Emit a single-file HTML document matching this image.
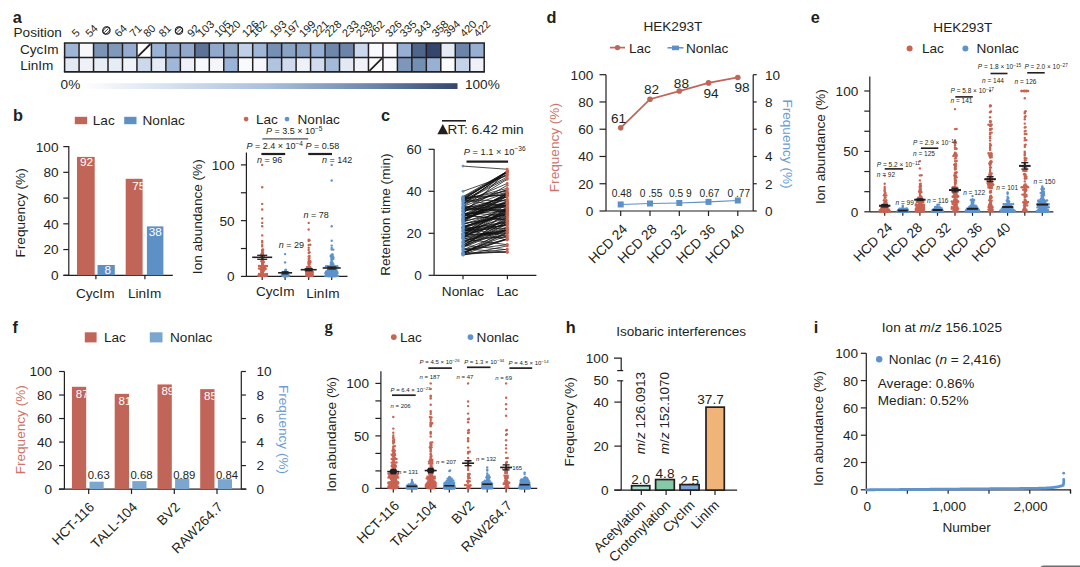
<!DOCTYPE html>
<html><head><meta charset="utf-8"><style>html,body{margin:0;padding:0;background:#fff;width:1080px;height:567px;overflow:hidden}svg{display:block;font-family:"Liberation Sans", sans-serif}</style></head><body>
<svg width="1080" height="567" viewBox="0 0 1080 567">
<rect width="1080" height="567" fill="#fff"/>
<text x="12.80" y="23.00" font-size="16.3" text-anchor="start" fill="#231f20" font-weight="bold" >a</text>
<text x="13.50" y="36.90" font-size="13.6" text-anchor="start" fill="#231f20" >Position</text>
<text x="20.00" y="54.00" font-size="13.6" text-anchor="start" fill="#231f20" >CycIm</text>
<text x="20.20" y="70.40" font-size="13.6" text-anchor="start" fill="#231f20" >LinIm</text>
<rect x="64.60" y="43.00" width="14.47" height="14.40" fill="#9fb5d6"/>
<rect x="64.60" y="57.40" width="14.47" height="14.40" fill="#e4eaf4"/>
<rect x="79.07" y="43.00" width="14.47" height="14.40" fill="#f5f7fb"/>
<rect x="79.07" y="57.40" width="14.47" height="14.40" fill="#eef2f8"/>
<rect x="93.54" y="43.00" width="14.47" height="14.40" fill="#7b93b5"/>
<rect x="93.54" y="57.40" width="14.47" height="14.40" fill="#e8edf5"/>
<rect x="108.01" y="43.00" width="14.47" height="14.40" fill="#8099bb"/>
<rect x="108.01" y="57.40" width="14.47" height="14.40" fill="#e6ecf5"/>
<rect x="122.48" y="43.00" width="14.47" height="14.40" fill="#95acd0"/>
<rect x="122.48" y="57.40" width="14.47" height="14.40" fill="#eff2f8"/>
<rect x="136.94" y="43.00" width="14.47" height="14.40" fill="#ffffff"/>
<rect x="136.94" y="57.40" width="14.47" height="14.40" fill="#ccd9eb"/>
<line x1="137.94" y1="56.40" x2="150.41" y2="44.00" stroke="#231f20" stroke-width="1.8" />
<rect x="151.41" y="43.00" width="14.47" height="14.40" fill="#9ab2d4"/>
<rect x="151.41" y="57.40" width="14.47" height="14.40" fill="#e6ecf6"/>
<rect x="165.88" y="43.00" width="14.47" height="14.40" fill="#8aa2c4"/>
<rect x="165.88" y="57.40" width="14.47" height="14.40" fill="#a0b7d8"/>
<rect x="180.35" y="43.00" width="14.47" height="14.40" fill="#92a9cc"/>
<rect x="180.35" y="57.40" width="14.47" height="14.40" fill="#eef2f8"/>
<rect x="194.82" y="43.00" width="14.47" height="14.40" fill="#5c7396"/>
<rect x="194.82" y="57.40" width="14.47" height="14.40" fill="#f7f9fc"/>
<rect x="209.29" y="43.00" width="14.47" height="14.40" fill="#92a9cc"/>
<rect x="209.29" y="57.40" width="14.47" height="14.40" fill="#f3f5fa"/>
<rect x="223.76" y="43.00" width="14.47" height="14.40" fill="#8ea5c4"/>
<rect x="223.76" y="57.40" width="14.47" height="14.40" fill="#9bb3d6"/>
<rect x="238.23" y="43.00" width="14.47" height="14.40" fill="#c0d0e6"/>
<rect x="238.23" y="57.40" width="14.47" height="14.40" fill="#f8fafd"/>
<rect x="252.70" y="43.00" width="14.47" height="14.40" fill="#a0b6d7"/>
<rect x="252.70" y="57.40" width="14.47" height="14.40" fill="#f5f7fb"/>
<rect x="267.17" y="43.00" width="14.47" height="14.40" fill="#7690b3"/>
<rect x="267.17" y="57.40" width="14.47" height="14.40" fill="#b0c4e0"/>
<rect x="281.63" y="43.00" width="14.47" height="14.40" fill="#89a3c5"/>
<rect x="281.63" y="57.40" width="14.47" height="14.40" fill="#cfdbec"/>
<rect x="296.10" y="43.00" width="14.47" height="14.40" fill="#8aa3c4"/>
<rect x="296.10" y="57.40" width="14.47" height="14.40" fill="#edf1f8"/>
<rect x="310.57" y="43.00" width="14.47" height="14.40" fill="#97afd3"/>
<rect x="310.57" y="57.40" width="14.47" height="14.40" fill="#d1dcee"/>
<rect x="325.04" y="43.00" width="14.47" height="14.40" fill="#6e88ab"/>
<rect x="325.04" y="57.40" width="14.47" height="14.40" fill="#a3bad9"/>
<rect x="339.51" y="43.00" width="14.47" height="14.40" fill="#6b84a7"/>
<rect x="339.51" y="57.40" width="14.47" height="14.40" fill="#e3e9f3"/>
<rect x="353.98" y="43.00" width="14.47" height="14.40" fill="#cbd8eb"/>
<rect x="353.98" y="57.40" width="14.47" height="14.40" fill="#eff3f9"/>
<rect x="368.45" y="43.00" width="14.47" height="14.40" fill="#f8fafd"/>
<rect x="368.45" y="57.40" width="14.47" height="14.40" fill="#ffffff"/>
<line x1="369.45" y1="70.80" x2="381.92" y2="58.40" stroke="#231f20" stroke-width="1.8" />
<rect x="382.92" y="43.00" width="14.47" height="14.40" fill="#f7f9fc"/>
<rect x="382.92" y="57.40" width="14.47" height="14.40" fill="#f8fafd"/>
<rect x="397.39" y="43.00" width="14.47" height="14.40" fill="#97afd3"/>
<rect x="397.39" y="57.40" width="14.47" height="14.40" fill="#7d96b9"/>
<rect x="411.86" y="43.00" width="14.47" height="14.40" fill="#4f6589"/>
<rect x="411.86" y="57.40" width="14.47" height="14.40" fill="#7390b2"/>
<rect x="426.32" y="43.00" width="14.47" height="14.40" fill="#34466c"/>
<rect x="426.32" y="57.40" width="14.47" height="14.40" fill="#98b0d3"/>
<rect x="440.79" y="43.00" width="14.47" height="14.40" fill="#e5ebf5"/>
<rect x="440.79" y="57.40" width="14.47" height="14.40" fill="#fafbfd"/>
<rect x="455.26" y="43.00" width="14.47" height="14.40" fill="#6b84a7"/>
<rect x="455.26" y="57.40" width="14.47" height="14.40" fill="#c5d3e8"/>
<rect x="469.73" y="43.00" width="14.47" height="14.40" fill="#98afd2"/>
<rect x="469.73" y="57.40" width="14.47" height="14.40" fill="#eef2f8"/>
<line x1="64.60" y1="43.00" x2="64.60" y2="71.80" stroke="#231f20" stroke-width="1.5" />
<line x1="79.07" y1="43.00" x2="79.07" y2="71.80" stroke="#231f20" stroke-width="1.5" />
<line x1="93.54" y1="43.00" x2="93.54" y2="71.80" stroke="#231f20" stroke-width="1.5" />
<line x1="108.01" y1="43.00" x2="108.01" y2="71.80" stroke="#231f20" stroke-width="1.5" />
<line x1="122.48" y1="43.00" x2="122.48" y2="71.80" stroke="#231f20" stroke-width="1.5" />
<line x1="136.94" y1="43.00" x2="136.94" y2="71.80" stroke="#231f20" stroke-width="1.5" />
<line x1="151.41" y1="43.00" x2="151.41" y2="71.80" stroke="#231f20" stroke-width="1.5" />
<line x1="165.88" y1="43.00" x2="165.88" y2="71.80" stroke="#231f20" stroke-width="1.5" />
<line x1="180.35" y1="43.00" x2="180.35" y2="71.80" stroke="#231f20" stroke-width="1.5" />
<line x1="194.82" y1="43.00" x2="194.82" y2="71.80" stroke="#231f20" stroke-width="1.5" />
<line x1="209.29" y1="43.00" x2="209.29" y2="71.80" stroke="#231f20" stroke-width="1.5" />
<line x1="223.76" y1="43.00" x2="223.76" y2="71.80" stroke="#231f20" stroke-width="1.5" />
<line x1="238.23" y1="43.00" x2="238.23" y2="71.80" stroke="#231f20" stroke-width="1.5" />
<line x1="252.70" y1="43.00" x2="252.70" y2="71.80" stroke="#231f20" stroke-width="1.5" />
<line x1="267.17" y1="43.00" x2="267.17" y2="71.80" stroke="#231f20" stroke-width="1.5" />
<line x1="281.63" y1="43.00" x2="281.63" y2="71.80" stroke="#231f20" stroke-width="1.5" />
<line x1="296.10" y1="43.00" x2="296.10" y2="71.80" stroke="#231f20" stroke-width="1.5" />
<line x1="310.57" y1="43.00" x2="310.57" y2="71.80" stroke="#231f20" stroke-width="1.5" />
<line x1="325.04" y1="43.00" x2="325.04" y2="71.80" stroke="#231f20" stroke-width="1.5" />
<line x1="339.51" y1="43.00" x2="339.51" y2="71.80" stroke="#231f20" stroke-width="1.5" />
<line x1="353.98" y1="43.00" x2="353.98" y2="71.80" stroke="#231f20" stroke-width="1.5" />
<line x1="368.45" y1="43.00" x2="368.45" y2="71.80" stroke="#231f20" stroke-width="1.5" />
<line x1="382.92" y1="43.00" x2="382.92" y2="71.80" stroke="#231f20" stroke-width="1.5" />
<line x1="397.39" y1="43.00" x2="397.39" y2="71.80" stroke="#231f20" stroke-width="1.5" />
<line x1="411.86" y1="43.00" x2="411.86" y2="71.80" stroke="#231f20" stroke-width="1.5" />
<line x1="426.32" y1="43.00" x2="426.32" y2="71.80" stroke="#231f20" stroke-width="1.5" />
<line x1="440.79" y1="43.00" x2="440.79" y2="71.80" stroke="#231f20" stroke-width="1.5" />
<line x1="455.26" y1="43.00" x2="455.26" y2="71.80" stroke="#231f20" stroke-width="1.5" />
<line x1="469.73" y1="43.00" x2="469.73" y2="71.80" stroke="#231f20" stroke-width="1.5" />
<line x1="484.20" y1="43.00" x2="484.20" y2="71.80" stroke="#231f20" stroke-width="1.5" />
<line x1="63.85" y1="43.00" x2="484.95" y2="43.00" stroke="#231f20" stroke-width="1.5" />
<line x1="63.85" y1="57.40" x2="484.95" y2="57.40" stroke="#231f20" stroke-width="1.5" />
<line x1="63.85" y1="71.80" x2="484.95" y2="71.80" stroke="#231f20" stroke-width="1.8" />
<text x="76.30" y="37.80" font-size="11" text-anchor="start" fill="#231f20" transform="rotate(-45 76.3 37.8)" >5</text>
<text x="90.00" y="37.80" font-size="11" text-anchor="start" fill="#231f20" transform="rotate(-45 90.0 37.8)" >54</text>
<circle cx="106.4" cy="30.5" r="3.7" fill="none" stroke="#231f20" stroke-width="1.1"/>
<ellipse cx="106.4" cy="30.5" rx="4.2" ry="2.6" transform="rotate(-45 106.4 30.5)" fill="none" stroke="#231f20" stroke-width="0.9"/>
<line x1="104.20" y1="32.70" x2="108.60" y2="28.30" stroke="#231f20" stroke-width="0.9" />
<text x="119.10" y="37.80" font-size="11" text-anchor="start" fill="#231f20" transform="rotate(-45 119.1 37.8)" >64</text>
<text x="134.00" y="37.80" font-size="11" text-anchor="start" fill="#231f20" transform="rotate(-45 134.0 37.8)" >71</text>
<text x="147.70" y="37.80" font-size="11" text-anchor="start" fill="#231f20" transform="rotate(-45 147.7 37.8)" >80</text>
<text x="163.20" y="37.80" font-size="11" text-anchor="start" fill="#231f20" transform="rotate(-45 163.2 37.8)" >81</text>
<circle cx="179.0" cy="30.6" r="3.7" fill="none" stroke="#231f20" stroke-width="1.1"/>
<ellipse cx="179.0" cy="30.6" rx="4.2" ry="2.6" transform="rotate(-45 179.0 30.6)" fill="none" stroke="#231f20" stroke-width="0.9"/>
<line x1="176.80" y1="32.80" x2="181.20" y2="28.40" stroke="#231f20" stroke-width="0.9" />
<text x="191.70" y="37.80" font-size="11" text-anchor="start" fill="#231f20" transform="rotate(-45 191.7 37.8)" >92</text>
<text x="202.00" y="37.80" font-size="11" text-anchor="start" fill="#231f20" transform="rotate(-45 202.0 37.8)" >103</text>
<text x="218.70" y="37.80" font-size="11" text-anchor="start" fill="#231f20" transform="rotate(-45 218.7 37.8)" >105</text>
<text x="228.40" y="37.80" font-size="11" text-anchor="start" fill="#231f20" transform="rotate(-45 228.4 37.8)" >120</text>
<text x="246.50" y="37.80" font-size="11" text-anchor="start" fill="#231f20" transform="rotate(-45 246.5 37.8)" >126</text>
<text x="254.80" y="37.80" font-size="11" text-anchor="start" fill="#231f20" transform="rotate(-45 254.8 37.8)" >162</text>
<text x="274.30" y="37.80" font-size="11" text-anchor="start" fill="#231f20" transform="rotate(-45 274.3 37.8)" >193</text>
<text x="288.20" y="37.80" font-size="11" text-anchor="start" fill="#231f20" transform="rotate(-45 288.2 37.8)" >197</text>
<text x="303.40" y="37.80" font-size="11" text-anchor="start" fill="#231f20" transform="rotate(-45 303.4 37.8)" >199</text>
<text x="316.80" y="37.80" font-size="11" text-anchor="start" fill="#231f20" transform="rotate(-45 316.8 37.8)" >221</text>
<text x="329.30" y="37.80" font-size="11" text-anchor="start" fill="#231f20" transform="rotate(-45 329.3 37.8)" >228</text>
<text x="346.60" y="37.80" font-size="11" text-anchor="start" fill="#231f20" transform="rotate(-45 346.6 37.8)" >233</text>
<text x="360.50" y="37.80" font-size="11" text-anchor="start" fill="#231f20" transform="rotate(-45 360.5 37.8)" >239</text>
<text x="372.30" y="37.80" font-size="11" text-anchor="start" fill="#231f20" transform="rotate(-45 372.3 37.8)" >262</text>
<text x="389.70" y="37.80" font-size="11" text-anchor="start" fill="#231f20" transform="rotate(-45 389.7 37.8)" >326</text>
<text x="404.30" y="37.80" font-size="11" text-anchor="start" fill="#231f20" transform="rotate(-45 404.3 37.8)" >335</text>
<text x="418.90" y="37.80" font-size="11" text-anchor="start" fill="#231f20" transform="rotate(-45 418.9 37.8)" >343</text>
<text x="436.20" y="37.80" font-size="11" text-anchor="start" fill="#231f20" transform="rotate(-45 436.2 37.8)" >358</text>
<text x="448.00" y="37.80" font-size="11" text-anchor="start" fill="#231f20" transform="rotate(-45 448.0 37.8)" >394</text>
<text x="464.40" y="37.80" font-size="11" text-anchor="start" fill="#231f20" transform="rotate(-45 464.4 37.8)" >420</text>
<text x="478.10" y="37.80" font-size="11" text-anchor="start" fill="#231f20" transform="rotate(-45 478.1 37.8)" >422</text>
<defs><linearGradient id="ga" x1="0" x2="1" y1="0" y2="0"><stop offset="0" stop-color="#ffffff"/><stop offset="0.5" stop-color="#a9bfdc"/><stop offset="0.78" stop-color="#6b84a9"/><stop offset="1" stop-color="#34466c"/></linearGradient></defs>
<rect x="80.00" y="83.20" width="377.50" height="5.80" fill="url(#ga)"/>
<text x="60.60" y="89.20" font-size="13.6" text-anchor="start" fill="#231f20" >0%</text>
<text x="465.00" y="89.20" font-size="13.6" text-anchor="start" fill="#231f20" >100%</text>
<text x="13.00" y="121.00" font-size="16.3" text-anchor="start" fill="#231f20" font-weight="bold" >b</text>
<rect x="74.80" y="116.80" width="12.30" height="7.40" fill="#c16558"/>
<text x="92.80" y="124.70" font-size="13.6" text-anchor="start" fill="#231f20" >Lac</text>
<rect x="124.20" y="116.80" width="12.30" height="7.40" fill="#5d90c5"/>
<text x="142.50" y="124.70" font-size="13.6" text-anchor="start" fill="#231f20" >Nonlac</text>
<line x1="68.80" y1="146.00" x2="68.80" y2="275.30" stroke="#231f20" stroke-width="1.2" />
<line x1="63.30" y1="275.30" x2="68.80" y2="275.30" stroke="#231f20" stroke-width="1.2" />
<line x1="63.30" y1="249.56" x2="68.80" y2="249.56" stroke="#231f20" stroke-width="1.2" />
<line x1="63.30" y1="223.82" x2="68.80" y2="223.82" stroke="#231f20" stroke-width="1.2" />
<line x1="63.30" y1="198.08" x2="68.80" y2="198.08" stroke="#231f20" stroke-width="1.2" />
<line x1="63.30" y1="172.34" x2="68.80" y2="172.34" stroke="#231f20" stroke-width="1.2" />
<line x1="63.30" y1="146.60" x2="68.80" y2="146.60" stroke="#231f20" stroke-width="1.2" />
<text x="58.50" y="280.20" font-size="13.6" text-anchor="end" fill="#231f20" >0</text>
<text x="58.50" y="254.46" font-size="13.6" text-anchor="end" fill="#231f20" >20</text>
<text x="58.50" y="228.72" font-size="13.6" text-anchor="end" fill="#231f20" >40</text>
<text x="58.50" y="202.98" font-size="13.6" text-anchor="end" fill="#231f20" >60</text>
<text x="58.50" y="177.24" font-size="13.6" text-anchor="end" fill="#231f20" >80</text>
<text x="58.50" y="151.50" font-size="13.6" text-anchor="end" fill="#231f20" >100</text>
<line x1="63.50" y1="275.30" x2="172.80" y2="275.30" stroke="#231f20" stroke-width="1.2" />
<line x1="95.90" y1="275.30" x2="95.90" y2="279.30" stroke="#231f20" stroke-width="1.2" />
<line x1="144.90" y1="275.30" x2="144.90" y2="279.30" stroke="#231f20" stroke-width="1.2" />
<rect x="77.00" y="156.90" width="17.70" height="118.40" fill="#c16558"/>
<svg x="77.00" y="156.90" width="17.70" height="118.40" overflow="hidden"><text x="3.00" y="8.80" font-size="11.8" fill="#ffffff">92</text></svg>
<rect x="97.50" y="265.00" width="17.30" height="10.30" fill="#5d90c5"/>
<svg x="97.50" y="265.00" width="17.30" height="10.30" overflow="hidden"><text x="7.10" y="8.60" font-size="11.8" fill="#ffffff">8</text></svg>
<rect x="125.70" y="178.78" width="16.90" height="96.53" fill="#c16558"/>
<svg x="125.70" y="178.78" width="16.90" height="96.53" overflow="hidden"><text x="6.50" y="10.92" font-size="11.8" fill="#ffffff">75</text></svg>
<rect x="146.90" y="226.39" width="16.50" height="48.91" fill="#5d90c5"/>
<svg x="146.90" y="226.39" width="16.50" height="48.91" overflow="hidden"><text x="1.90" y="9.61" font-size="11.8" fill="#ffffff">38</text></svg>
<text x="25.00" y="212.90" font-size="13.6" text-anchor="middle" fill="#231f20" transform="rotate(-90 25.0 212.9)" >Frequency (%)</text>
<text x="95.20" y="297.50" font-size="13.6" text-anchor="middle" fill="#231f20" >CycIm</text>
<text x="144.60" y="297.50" font-size="13.6" text-anchor="middle" fill="#231f20" >LinIm</text>
<circle cx="246.10" cy="119.10" r="2.4" fill="#c96352"/>
<text x="256.00" y="123.60" font-size="13.6" text-anchor="start" fill="#231f20" >Lac</text>
<circle cx="287.00" cy="119.10" r="2.4" fill="#5e93cc"/>
<text x="297.50" y="123.60" font-size="13.6" text-anchor="start" fill="#231f20" >Nonlac</text>
<text x="266.00" y="134.10" font-size="9.0" text-anchor="start" fill="#231f20" ><tspan font-style="italic">P</tspan> = 3.5 × 10<tspan dy="-3" font-size="6.5">−5</tspan></text>
<line x1="262.30" y1="138.90" x2="308.20" y2="138.90" stroke="#555" stroke-width="1.1" />
<text x="246.50" y="149.10" font-size="9.0" text-anchor="start" fill="#231f20" ><tspan font-style="italic">P</tspan> = 2.4 × 10<tspan dy="-3" font-size="6.5">−4</tspan></text>
<text x="305.50" y="149.10" font-size="9.0" text-anchor="start" fill="#231f20" ><tspan font-style="italic">P</tspan> = 0.58</text>
<line x1="261.40" y1="154.00" x2="285.20" y2="154.00" stroke="#231f20" stroke-width="2.2" />
<line x1="308.20" y1="154.00" x2="332.00" y2="154.00" stroke="#231f20" stroke-width="2.2" />
<text x="257.00" y="163.20" font-size="9.0" text-anchor="start" fill="#231f20" ><tspan font-style="italic">n</tspan> = 96</text>
<text x="322.00" y="163.20" font-size="9.0" text-anchor="start" fill="#231f20" ><tspan font-style="italic">n</tspan> = 142</text>
<text x="278.80" y="248.00" font-size="9.0" text-anchor="start" fill="#231f20" ><tspan font-style="italic">n</tspan> = 29</text>
<text x="303.50" y="217.50" font-size="9.0" text-anchor="start" fill="#231f20" ><tspan font-style="italic">n</tspan> = 78</text>
<line x1="246.40" y1="152.60" x2="246.40" y2="276.40" stroke="#231f20" stroke-width="1.2" />
<line x1="240.90" y1="276.40" x2="246.40" y2="276.40" stroke="#231f20" stroke-width="1.2" />
<line x1="240.90" y1="248.52" x2="246.40" y2="248.52" stroke="#231f20" stroke-width="1.2" />
<line x1="240.90" y1="220.65" x2="246.40" y2="220.65" stroke="#231f20" stroke-width="1.2" />
<line x1="240.90" y1="192.77" x2="246.40" y2="192.77" stroke="#231f20" stroke-width="1.2" />
<line x1="240.90" y1="164.90" x2="246.40" y2="164.90" stroke="#231f20" stroke-width="1.2" />
<text x="234.50" y="281.30" font-size="13.6" text-anchor="end" fill="#231f20" >0</text>
<text x="234.50" y="225.55" font-size="13.6" text-anchor="end" fill="#231f20" >50</text>
<text x="234.50" y="169.80" font-size="13.6" text-anchor="end" fill="#231f20" >100</text>
<line x1="246.40" y1="276.40" x2="347.50" y2="276.40" stroke="#231f20" stroke-width="1.2" />
<line x1="262.20" y1="276.40" x2="262.20" y2="280.00" stroke="#231f20" stroke-width="1.2" />
<line x1="285.10" y1="276.40" x2="285.10" y2="280.00" stroke="#231f20" stroke-width="1.2" />
<line x1="308.70" y1="276.40" x2="308.70" y2="280.00" stroke="#231f20" stroke-width="1.2" />
<line x1="331.70" y1="276.40" x2="331.70" y2="280.00" stroke="#231f20" stroke-width="1.2" />
<g fill="#c96352"><circle cx="262.2" cy="276.3" r="1.2"/><circle cx="263.8" cy="276.1" r="1.2"/><circle cx="261.4" cy="275.9" r="1.2"/><circle cx="259.8" cy="275.9" r="1.2"/><circle cx="265.4" cy="275.9" r="1.2"/><circle cx="263.0" cy="275.8" r="1.2"/><circle cx="258.2" cy="275.8" r="1.2"/><circle cx="267.0" cy="275.8" r="1.2"/><circle cx="260.6" cy="275.5" r="1.2"/><circle cx="262.2" cy="275.1" r="1.2"/><circle cx="263.0" cy="274.8" r="1.2"/><circle cx="261.4" cy="274.6" r="1.2"/><circle cx="263.8" cy="274.4" r="1.2"/><circle cx="259.8" cy="274.4" r="1.2"/><circle cx="262.2" cy="274.2" r="1.2"/><circle cx="265.4" cy="274.2" r="1.2"/><circle cx="260.6" cy="274.1" r="1.2"/><circle cx="259.0" cy="274.0" r="1.2"/><circle cx="267.0" cy="273.9" r="1.2"/><circle cx="263.0" cy="273.9" r="1.2"/><circle cx="261.4" cy="273.6" r="1.2"/><circle cx="262.2" cy="273.2" r="1.2"/><circle cx="263.0" cy="272.8" r="1.2"/><circle cx="261.4" cy="272.5" r="1.2"/><circle cx="262.2" cy="272.1" r="1.2"/><circle cx="263.0" cy="271.7" r="1.2"/><circle cx="261.4" cy="271.5" r="1.2"/><circle cx="262.2" cy="270.8" r="1.2"/><circle cx="263.8" cy="270.7" r="1.2"/><circle cx="263.0" cy="270.0" r="1.2"/><circle cx="261.4" cy="270.0" r="1.2"/><circle cx="262.2" cy="269.6" r="1.2"/><circle cx="263.8" cy="269.5" r="1.2"/><circle cx="260.6" cy="269.5" r="1.2"/><circle cx="265.4" cy="269.2" r="1.2"/><circle cx="262.2" cy="268.7" r="1.2"/><circle cx="263.8" cy="268.6" r="1.2"/><circle cx="260.6" cy="268.5" r="1.2"/><circle cx="259.0" cy="268.4" r="1.2"/><circle cx="265.4" cy="268.3" r="1.2"/><circle cx="263.0" cy="267.9" r="1.2"/><circle cx="261.4" cy="267.7" r="1.2"/><circle cx="264.6" cy="267.7" r="1.2"/><circle cx="262.2" cy="267.4" r="1.2"/><circle cx="263.8" cy="267.3" r="1.2"/><circle cx="263.0" cy="266.9" r="1.2"/><circle cx="261.4" cy="266.6" r="1.2"/><circle cx="264.6" cy="266.5" r="1.2"/><circle cx="262.2" cy="266.2" r="1.2"/><circle cx="263.8" cy="266.2" r="1.2"/><circle cx="260.6" cy="266.1" r="1.2"/><circle cx="265.4" cy="266.0" r="1.2"/><circle cx="259.0" cy="265.9" r="1.2"/><circle cx="267.0" cy="265.9" r="1.2"/><circle cx="262.2" cy="265.1" r="1.2"/><circle cx="263.0" cy="264.5" r="1.2"/><circle cx="262.2" cy="263.7" r="1.2"/><circle cx="263.0" cy="263.5" r="1.2"/><circle cx="262.2" cy="262.9" r="1.2"/><circle cx="263.0" cy="262.4" r="1.2"/><circle cx="262.2" cy="262.0" r="1.2"/><circle cx="263.8" cy="262.0" r="1.2"/><circle cx="263.0" cy="261.5" r="1.2"/><circle cx="261.4" cy="261.2" r="1.2"/><circle cx="262.2" cy="260.9" r="1.2"/><circle cx="263.0" cy="260.3" r="1.2"/><circle cx="262.2" cy="259.5" r="1.2"/><circle cx="263.0" cy="259.1" r="1.2"/><circle cx="262.2" cy="257.6" r="1.2"/><circle cx="263.0" cy="257.2" r="1.2"/><circle cx="261.4" cy="256.8" r="1.2"/><circle cx="263.8" cy="256.7" r="1.2"/><circle cx="262.2" cy="256.1" r="1.2"/><circle cx="262.2" cy="255.0" r="1.2"/><circle cx="263.0" cy="254.4" r="1.2"/><circle cx="261.4" cy="254.3" r="1.2"/><circle cx="262.2" cy="254.0" r="1.2"/><circle cx="262.2" cy="253.0" r="1.2"/><circle cx="263.0" cy="252.7" r="1.2"/><circle cx="262.2" cy="251.8" r="1.2"/><circle cx="262.2" cy="250.7" r="1.2"/><circle cx="263.0" cy="250.4" r="1.2"/><circle cx="262.2" cy="249.8" r="1.2"/><circle cx="263.0" cy="249.4" r="1.2"/><circle cx="262.2" cy="246.4" r="1.2"/><circle cx="262.2" cy="245.0" r="1.2"/><circle cx="262.2" cy="242.4" r="1.2"/><circle cx="262.2" cy="241.0" r="1.2"/><circle cx="262.2" cy="235.4" r="1.2"/><circle cx="262.2" cy="226.2" r="1.2"/><circle cx="262.2" cy="222.9" r="1.2"/><circle cx="262.2" cy="218.4" r="1.2"/><circle cx="262.2" cy="209.5" r="1.2"/><circle cx="262.2" cy="203.9" r="1.2"/><circle cx="262.2" cy="187.2" r="1.2"/><circle cx="262.2" cy="164.9" r="1.2"/></g>
<g fill="#5e93cc"><circle cx="285.1" cy="276.3" r="1.2"/><circle cx="286.7" cy="276.2" r="1.2"/><circle cx="283.5" cy="276.2" r="1.2"/><circle cx="288.3" cy="276.0" r="1.2"/><circle cx="285.9" cy="275.8" r="1.2"/><circle cx="284.3" cy="275.8" r="1.2"/><circle cx="282.7" cy="275.7" r="1.2"/><circle cx="287.5" cy="275.6" r="1.2"/><circle cx="289.1" cy="275.5" r="1.2"/><circle cx="285.1" cy="275.4" r="1.2"/><circle cx="281.9" cy="275.3" r="1.2"/><circle cx="283.5" cy="275.3" r="1.2"/><circle cx="285.9" cy="274.8" r="1.2"/><circle cx="284.3" cy="274.8" r="1.2"/><circle cx="282.7" cy="274.7" r="1.2"/><circle cx="287.5" cy="274.6" r="1.2"/><circle cx="285.1" cy="274.0" r="1.2"/><circle cx="286.7" cy="273.7" r="1.2"/><circle cx="284.3" cy="273.7" r="1.2"/><circle cx="285.1" cy="273.1" r="1.2"/><circle cx="283.5" cy="272.9" r="1.2"/><circle cx="285.9" cy="272.8" r="1.2"/><circle cx="287.5" cy="272.7" r="1.2"/><circle cx="285.1" cy="271.8" r="1.2"/><circle cx="285.9" cy="271.3" r="1.2"/><circle cx="285.1" cy="270.5" r="1.2"/><circle cx="285.9" cy="269.8" r="1.2"/><circle cx="285.1" cy="262.4" r="1.2"/><circle cx="285.1" cy="254.1" r="1.2"/></g>
<g fill="#c96352"><circle cx="308.7" cy="276.4" r="1.2"/><circle cx="309.5" cy="276.1" r="1.2"/><circle cx="307.9" cy="276.0" r="1.2"/><circle cx="311.1" cy="275.9" r="1.2"/><circle cx="306.3" cy="275.8" r="1.2"/><circle cx="312.7" cy="275.7" r="1.2"/><circle cx="308.7" cy="275.5" r="1.2"/><circle cx="310.3" cy="275.4" r="1.2"/><circle cx="307.1" cy="275.3" r="1.2"/><circle cx="309.5" cy="275.1" r="1.2"/><circle cx="307.9" cy="275.0" r="1.2"/><circle cx="311.1" cy="274.9" r="1.2"/><circle cx="306.3" cy="274.8" r="1.2"/><circle cx="312.7" cy="274.7" r="1.2"/><circle cx="308.7" cy="274.6" r="1.2"/><circle cx="310.3" cy="274.4" r="1.2"/><circle cx="307.1" cy="274.3" r="1.2"/><circle cx="309.5" cy="274.1" r="1.2"/><circle cx="308.7" cy="273.7" r="1.2"/><circle cx="310.3" cy="273.5" r="1.2"/><circle cx="309.5" cy="273.2" r="1.2"/><circle cx="307.9" cy="273.0" r="1.2"/><circle cx="311.1" cy="273.0" r="1.2"/><circle cx="306.3" cy="272.9" r="1.2"/><circle cx="312.7" cy="272.8" r="1.2"/><circle cx="308.7" cy="272.6" r="1.2"/><circle cx="309.5" cy="272.3" r="1.2"/><circle cx="307.9" cy="272.1" r="1.2"/><circle cx="311.1" cy="272.0" r="1.2"/><circle cx="306.3" cy="272.0" r="1.2"/><circle cx="312.7" cy="272.0" r="1.2"/><circle cx="308.7" cy="271.7" r="1.2"/><circle cx="309.5" cy="271.2" r="1.2"/><circle cx="307.9" cy="271.2" r="1.2"/><circle cx="311.1" cy="271.1" r="1.2"/><circle cx="306.3" cy="270.9" r="1.2"/><circle cx="308.7" cy="270.8" r="1.2"/><circle cx="310.3" cy="270.7" r="1.2"/><circle cx="309.5" cy="270.4" r="1.2"/><circle cx="307.9" cy="270.1" r="1.2"/><circle cx="308.7" cy="269.7" r="1.2"/><circle cx="310.3" cy="269.5" r="1.2"/><circle cx="307.1" cy="269.2" r="1.2"/><circle cx="309.5" cy="269.1" r="1.2"/><circle cx="311.1" cy="269.0" r="1.2"/><circle cx="307.9" cy="268.9" r="1.2"/><circle cx="308.7" cy="268.5" r="1.2"/><circle cx="310.3" cy="268.5" r="1.2"/><circle cx="309.5" cy="268.1" r="1.2"/><circle cx="307.1" cy="268.1" r="1.2"/><circle cx="308.7" cy="267.2" r="1.2"/><circle cx="310.3" cy="267.2" r="1.2"/><circle cx="307.1" cy="267.0" r="1.2"/><circle cx="309.5" cy="266.8" r="1.2"/><circle cx="308.7" cy="264.8" r="1.2"/><circle cx="309.5" cy="264.4" r="1.2"/><circle cx="308.7" cy="263.4" r="1.2"/><circle cx="309.5" cy="263.1" r="1.2"/><circle cx="308.7" cy="262.5" r="1.2"/><circle cx="310.3" cy="262.4" r="1.2"/><circle cx="308.7" cy="261.3" r="1.2"/><circle cx="310.3" cy="261.2" r="1.2"/><circle cx="309.5" cy="260.8" r="1.2"/><circle cx="308.7" cy="258.9" r="1.2"/><circle cx="309.5" cy="258.0" r="1.2"/><circle cx="308.7" cy="256.4" r="1.2"/><circle cx="309.5" cy="256.0" r="1.2"/><circle cx="308.7" cy="253.0" r="1.2"/><circle cx="309.5" cy="252.3" r="1.2"/><circle cx="308.7" cy="250.0" r="1.2"/><circle cx="308.7" cy="247.8" r="1.2"/><circle cx="308.7" cy="245.0" r="1.2"/><circle cx="310.3" cy="244.8" r="1.2"/><circle cx="308.7" cy="240.9" r="1.2"/><circle cx="309.5" cy="240.2" r="1.2"/><circle cx="308.7" cy="239.7" r="1.2"/><circle cx="308.7" cy="229.5" r="1.2"/><circle cx="308.7" cy="222.9" r="1.2"/></g>
<g fill="#5e93cc"><circle cx="331.7" cy="276.4" r="1.2"/><circle cx="333.3" cy="276.3" r="1.2"/><circle cx="330.1" cy="276.3" r="1.2"/><circle cx="334.9" cy="276.2" r="1.2"/><circle cx="328.5" cy="276.2" r="1.2"/><circle cx="336.5" cy="276.1" r="1.2"/><circle cx="326.9" cy="276.1" r="1.2"/><circle cx="338.1" cy="276.1" r="1.2"/><circle cx="325.3" cy="276.1" r="1.2"/><circle cx="332.5" cy="276.0" r="1.2"/><circle cx="330.9" cy="275.9" r="1.2"/><circle cx="332.5" cy="275.9" r="1.2"/><circle cx="334.1" cy="275.9" r="1.2"/><circle cx="329.3" cy="275.9" r="1.2"/><circle cx="335.7" cy="275.8" r="1.2"/><circle cx="327.7" cy="275.8" r="1.2"/><circle cx="337.3" cy="275.8" r="1.2"/><circle cx="326.1" cy="275.7" r="1.2"/><circle cx="331.7" cy="275.5" r="1.2"/><circle cx="333.3" cy="275.5" r="1.2"/><circle cx="330.1" cy="275.4" r="1.2"/><circle cx="331.7" cy="275.4" r="1.2"/><circle cx="333.3" cy="275.4" r="1.2"/><circle cx="334.9" cy="275.2" r="1.2"/><circle cx="328.5" cy="275.2" r="1.2"/><circle cx="330.9" cy="275.1" r="1.2"/><circle cx="332.5" cy="275.0" r="1.2"/><circle cx="336.5" cy="275.0" r="1.2"/><circle cx="334.1" cy="274.9" r="1.2"/><circle cx="329.3" cy="274.8" r="1.2"/><circle cx="327.7" cy="274.8" r="1.2"/><circle cx="326.1" cy="274.7" r="1.2"/><circle cx="331.7" cy="274.5" r="1.2"/><circle cx="333.3" cy="274.5" r="1.2"/><circle cx="330.1" cy="274.3" r="1.2"/><circle cx="332.5" cy="274.1" r="1.2"/><circle cx="334.9" cy="274.1" r="1.2"/><circle cx="330.9" cy="274.0" r="1.2"/><circle cx="329.3" cy="273.9" r="1.2"/><circle cx="334.1" cy="273.7" r="1.2"/><circle cx="331.7" cy="273.6" r="1.2"/><circle cx="328.5" cy="273.5" r="1.2"/><circle cx="335.7" cy="273.5" r="1.2"/><circle cx="330.1" cy="273.4" r="1.2"/><circle cx="333.3" cy="273.3" r="1.2"/><circle cx="326.9" cy="273.3" r="1.2"/><circle cx="337.3" cy="273.2" r="1.2"/><circle cx="334.9" cy="273.2" r="1.2"/><circle cx="325.3" cy="273.2" r="1.2"/><circle cx="332.5" cy="273.0" r="1.2"/><circle cx="330.9" cy="272.9" r="1.2"/><circle cx="334.1" cy="272.8" r="1.2"/><circle cx="329.3" cy="272.7" r="1.2"/><circle cx="327.7" cy="272.7" r="1.2"/><circle cx="336.5" cy="272.6" r="1.2"/><circle cx="331.7" cy="272.5" r="1.2"/><circle cx="333.3" cy="272.3" r="1.2"/><circle cx="330.1" cy="272.3" r="1.2"/><circle cx="334.9" cy="272.3" r="1.2"/><circle cx="328.5" cy="272.3" r="1.2"/><circle cx="326.9" cy="272.1" r="1.2"/><circle cx="337.3" cy="272.1" r="1.2"/><circle cx="332.5" cy="272.0" r="1.2"/><circle cx="330.9" cy="271.9" r="1.2"/><circle cx="334.1" cy="271.9" r="1.2"/><circle cx="329.3" cy="271.9" r="1.2"/><circle cx="335.7" cy="271.9" r="1.2"/><circle cx="327.7" cy="271.8" r="1.2"/><circle cx="326.1" cy="271.7" r="1.2"/><circle cx="331.7" cy="271.6" r="1.2"/><circle cx="336.5" cy="271.6" r="1.2"/><circle cx="333.3" cy="271.5" r="1.2"/><circle cx="330.1" cy="271.4" r="1.2"/><circle cx="334.9" cy="271.4" r="1.2"/><circle cx="328.5" cy="271.3" r="1.2"/><circle cx="326.9" cy="271.2" r="1.2"/><circle cx="332.5" cy="271.0" r="1.2"/><circle cx="330.9" cy="271.0" r="1.2"/><circle cx="334.1" cy="270.8" r="1.2"/><circle cx="331.7" cy="270.7" r="1.2"/><circle cx="329.3" cy="270.6" r="1.2"/><circle cx="333.3" cy="270.4" r="1.2"/><circle cx="334.9" cy="270.4" r="1.2"/><circle cx="327.7" cy="270.4" r="1.2"/><circle cx="330.1" cy="270.3" r="1.2"/><circle cx="336.5" cy="270.1" r="1.2"/><circle cx="332.5" cy="270.0" r="1.2"/><circle cx="330.9" cy="269.9" r="1.2"/><circle cx="334.1" cy="269.9" r="1.2"/><circle cx="331.7" cy="269.4" r="1.2"/><circle cx="332.5" cy="269.0" r="1.2"/><circle cx="330.9" cy="268.9" r="1.2"/><circle cx="333.3" cy="268.6" r="1.2"/><circle cx="331.7" cy="268.4" r="1.2"/><circle cx="330.1" cy="268.2" r="1.2"/><circle cx="332.5" cy="267.9" r="1.2"/><circle cx="330.9" cy="267.9" r="1.2"/><circle cx="334.1" cy="267.7" r="1.2"/><circle cx="329.3" cy="267.7" r="1.2"/><circle cx="335.7" cy="267.7" r="1.2"/><circle cx="331.7" cy="267.1" r="1.2"/><circle cx="333.3" cy="267.1" r="1.2"/><circle cx="332.5" cy="266.5" r="1.2"/><circle cx="330.9" cy="266.4" r="1.2"/><circle cx="334.1" cy="266.4" r="1.2"/><circle cx="329.3" cy="266.4" r="1.2"/><circle cx="335.7" cy="266.3" r="1.2"/><circle cx="327.7" cy="266.3" r="1.2"/><circle cx="337.3" cy="266.3" r="1.2"/><circle cx="326.1" cy="266.2" r="1.2"/><circle cx="331.7" cy="265.9" r="1.2"/><circle cx="333.3" cy="265.9" r="1.2"/><circle cx="332.5" cy="265.1" r="1.2"/><circle cx="330.9" cy="265.1" r="1.2"/><circle cx="331.7" cy="264.5" r="1.2"/><circle cx="333.3" cy="264.3" r="1.2"/><circle cx="330.9" cy="264.1" r="1.2"/><circle cx="331.7" cy="263.6" r="1.2"/><circle cx="332.5" cy="262.8" r="1.2"/><circle cx="330.9" cy="262.7" r="1.2"/><circle cx="331.7" cy="261.7" r="1.2"/><circle cx="331.7" cy="260.4" r="1.2"/><circle cx="331.7" cy="259.2" r="1.2"/><circle cx="333.3" cy="259.0" r="1.2"/><circle cx="331.7" cy="258.3" r="1.2"/><circle cx="331.7" cy="257.2" r="1.2"/><circle cx="333.3" cy="257.2" r="1.2"/><circle cx="332.5" cy="256.7" r="1.2"/><circle cx="330.9" cy="256.5" r="1.2"/><circle cx="331.7" cy="256.2" r="1.2"/><circle cx="332.5" cy="255.8" r="1.2"/><circle cx="330.9" cy="255.6" r="1.2"/><circle cx="331.7" cy="254.8" r="1.2"/><circle cx="332.5" cy="254.5" r="1.2"/><circle cx="331.7" cy="249.6" r="1.2"/><circle cx="333.3" cy="249.6" r="1.2"/><circle cx="331.7" cy="248.0" r="1.2"/><circle cx="331.7" cy="245.6" r="1.2"/><circle cx="331.7" cy="240.7" r="1.2"/><circle cx="331.7" cy="226.2" r="1.2"/><circle cx="331.7" cy="180.5" r="1.2"/><circle cx="331.7" cy="164.9" r="1.2"/></g>
<line x1="252.20" y1="257.30" x2="272.20" y2="257.30" stroke="#231f20" stroke-width="1.6" />
<line x1="257.20" y1="255.30" x2="267.20" y2="255.30" stroke="#231f20" stroke-width="1.3" />
<line x1="257.20" y1="259.30" x2="267.20" y2="259.30" stroke="#231f20" stroke-width="1.3" />
<line x1="262.20" y1="255.30" x2="262.20" y2="259.30" stroke="#231f20" stroke-width="1.5" />
<line x1="278.10" y1="272.80" x2="292.10" y2="272.80" stroke="#231f20" stroke-width="1.6" />
<line x1="281.60" y1="271.80" x2="288.60" y2="271.80" stroke="#231f20" stroke-width="1.3" />
<line x1="281.60" y1="273.80" x2="288.60" y2="273.80" stroke="#231f20" stroke-width="1.3" />
<line x1="285.10" y1="271.80" x2="285.10" y2="273.80" stroke="#231f20" stroke-width="1.5" />
<line x1="300.70" y1="269.70" x2="316.70" y2="269.70" stroke="#231f20" stroke-width="1.6" />
<line x1="304.70" y1="268.70" x2="312.70" y2="268.70" stroke="#231f20" stroke-width="1.3" />
<line x1="304.70" y1="270.70" x2="312.70" y2="270.70" stroke="#231f20" stroke-width="1.3" />
<line x1="308.70" y1="268.70" x2="308.70" y2="270.70" stroke="#231f20" stroke-width="1.5" />
<line x1="322.70" y1="268.00" x2="340.70" y2="268.00" stroke="#231f20" stroke-width="1.6" />
<line x1="327.20" y1="267.00" x2="336.20" y2="267.00" stroke="#231f20" stroke-width="1.3" />
<line x1="327.20" y1="269.00" x2="336.20" y2="269.00" stroke="#231f20" stroke-width="1.3" />
<line x1="331.70" y1="267.00" x2="331.70" y2="269.00" stroke="#231f20" stroke-width="1.5" />
<text x="202.10" y="216.70" font-size="13.6" text-anchor="middle" fill="#231f20" transform="rotate(-90 202.1 216.7)" >Ion abundance (%)</text>
<text x="275.20" y="295.80" font-size="13.6" text-anchor="middle" fill="#231f20" >CycIm</text>
<text x="322.90" y="297.80" font-size="13.6" text-anchor="middle" fill="#231f20" >LinIm</text>
<text x="380.90" y="121.00" font-size="16.3" text-anchor="start" fill="#231f20" font-weight="bold" >c</text>
<path d="M437.4,134.2 L442.8,124.0 L448.2,134.2 Z" fill="#231f20" stroke="none" stroke-width="1" />
<text x="447.60" y="133.80" font-size="13.6" text-anchor="start" fill="#231f20" >RT: 6.42 min</text>
<line x1="442.00" y1="120.80" x2="466.00" y2="120.80" stroke="#231f20" stroke-width="1.6" />
<line x1="434.10" y1="149.00" x2="434.10" y2="275.30" stroke="#231f20" stroke-width="1.2" />
<line x1="428.60" y1="275.30" x2="434.10" y2="275.30" stroke="#231f20" stroke-width="1.2" />
<line x1="428.60" y1="233.30" x2="434.10" y2="233.30" stroke="#231f20" stroke-width="1.2" />
<line x1="428.60" y1="191.30" x2="434.10" y2="191.30" stroke="#231f20" stroke-width="1.2" />
<line x1="428.60" y1="149.30" x2="434.10" y2="149.30" stroke="#231f20" stroke-width="1.2" />
<text x="421.70" y="280.20" font-size="13.6" text-anchor="end" fill="#231f20" >0</text>
<text x="421.70" y="238.20" font-size="13.6" text-anchor="end" fill="#231f20" >20</text>
<text x="421.70" y="196.20" font-size="13.6" text-anchor="end" fill="#231f20" >40</text>
<text x="421.70" y="154.20" font-size="13.6" text-anchor="end" fill="#231f20" >60</text>
<line x1="434.10" y1="275.30" x2="536.40" y2="275.30" stroke="#231f20" stroke-width="1.2" />
<line x1="463.00" y1="275.30" x2="463.00" y2="279.30" stroke="#231f20" stroke-width="1.2" />
<line x1="507.40" y1="275.30" x2="507.40" y2="279.30" stroke="#231f20" stroke-width="1.2" />
<text x="463.80" y="154.50" font-size="9.3" text-anchor="start" fill="#231f20" ><tspan font-style="italic">P</tspan> = 1.1 × 10<tspan dy="-3.5" font-size="6.5">−36</tspan></text>
<line x1="466.50" y1="161.70" x2="508.10" y2="161.70" stroke="#231f20" stroke-width="2.2" />
<g stroke="#111" stroke-width="0.75"><line x1="463" y1="218.72" x2="507.2" y2="205.92"/><line x1="463" y1="199.93" x2="507.2" y2="206.62"/><line x1="463" y1="211.84" x2="507.2" y2="195.51"/><line x1="463" y1="227.97" x2="507.2" y2="215.43"/><line x1="463" y1="199.88" x2="507.2" y2="200.75"/><line x1="463" y1="248.69" x2="507.2" y2="252.20"/><line x1="463" y1="227.77" x2="507.2" y2="213.60"/><line x1="463" y1="221.60" x2="507.2" y2="193.28"/><line x1="463" y1="254.58" x2="507.2" y2="238.78"/><line x1="463" y1="201.47" x2="507.2" y2="178.46"/><line x1="463" y1="210.33" x2="507.2" y2="185.37"/><line x1="463" y1="247.19" x2="507.2" y2="215.94"/><line x1="463" y1="219.04" x2="507.2" y2="204.70"/><line x1="463" y1="204.11" x2="507.2" y2="189.76"/><line x1="463" y1="243.03" x2="507.2" y2="222.11"/><line x1="463" y1="204.05" x2="507.2" y2="171.35"/><line x1="463" y1="238.34" x2="507.2" y2="210.52"/><line x1="463" y1="215.49" x2="507.2" y2="205.08"/><line x1="463" y1="243.31" x2="507.2" y2="212.96"/><line x1="463" y1="198.52" x2="507.2" y2="191.07"/><line x1="463" y1="202.80" x2="507.2" y2="192.24"/><line x1="463" y1="245.59" x2="507.2" y2="221.31"/><line x1="463" y1="246.78" x2="507.2" y2="223.95"/><line x1="463" y1="219.89" x2="507.2" y2="202.13"/><line x1="463" y1="255.15" x2="507.2" y2="245.88"/><line x1="463" y1="237.12" x2="507.2" y2="232.70"/><line x1="463" y1="207.22" x2="507.2" y2="203.35"/><line x1="463" y1="227.05" x2="507.2" y2="211.98"/><line x1="463" y1="213.92" x2="507.2" y2="171.35"/><line x1="463" y1="254.01" x2="507.2" y2="229.14"/><line x1="463" y1="211.26" x2="507.2" y2="196.16"/><line x1="463" y1="209.03" x2="507.2" y2="197.00"/><line x1="463" y1="233.82" x2="507.2" y2="221.33"/><line x1="463" y1="252.60" x2="507.2" y2="239.48"/><line x1="463" y1="244.71" x2="507.2" y2="223.51"/><line x1="463" y1="210.91" x2="507.2" y2="199.18"/><line x1="463" y1="200.69" x2="507.2" y2="176.91"/><line x1="463" y1="234.49" x2="507.2" y2="224.41"/><line x1="463" y1="224.50" x2="507.2" y2="209.75"/><line x1="463" y1="211.34" x2="507.2" y2="202.94"/><line x1="463" y1="208.47" x2="507.2" y2="192.61"/><line x1="463" y1="199.74" x2="507.2" y2="188.31"/><line x1="463" y1="249.99" x2="507.2" y2="244.69"/><line x1="463" y1="201.37" x2="507.2" y2="174.15"/><line x1="463" y1="235.36" x2="507.2" y2="208.62"/><line x1="463" y1="236.98" x2="507.2" y2="229.76"/><line x1="463" y1="236.72" x2="507.2" y2="220.81"/><line x1="463" y1="246.60" x2="507.2" y2="228.55"/><line x1="463" y1="214.83" x2="507.2" y2="194.11"/><line x1="463" y1="252.50" x2="507.2" y2="238.78"/><line x1="463" y1="197.33" x2="507.2" y2="195.00"/><line x1="463" y1="241.39" x2="507.2" y2="230.00"/><line x1="463" y1="220.43" x2="507.2" y2="200.69"/><line x1="463" y1="230.55" x2="507.2" y2="227.99"/><line x1="463" y1="252.07" x2="507.2" y2="235.64"/><line x1="463" y1="226.33" x2="507.2" y2="213.97"/><line x1="463" y1="206.05" x2="507.2" y2="179.41"/><line x1="463" y1="199.50" x2="507.2" y2="171.94"/><line x1="463" y1="218.28" x2="507.2" y2="203.13"/><line x1="463" y1="229.80" x2="507.2" y2="221.27"/><line x1="463" y1="246.57" x2="507.2" y2="227.30"/><line x1="463" y1="228.70" x2="507.2" y2="222.84"/><line x1="463" y1="196.59" x2="507.2" y2="171.35"/><line x1="463" y1="228.68" x2="507.2" y2="240.08"/><line x1="463" y1="226.65" x2="507.2" y2="214.48"/><line x1="463" y1="238.24" x2="507.2" y2="237.46"/><line x1="463" y1="231.61" x2="507.2" y2="210.94"/><line x1="463" y1="197.23" x2="507.2" y2="174.43"/><line x1="463" y1="198.91" x2="507.2" y2="194.54"/><line x1="463" y1="235.45" x2="507.2" y2="231.31"/><line x1="463" y1="250.11" x2="507.2" y2="239.07"/><line x1="463" y1="204.35" x2="507.2" y2="171.35"/><line x1="463" y1="234.10" x2="507.2" y2="215.77"/><line x1="463" y1="214.51" x2="507.2" y2="220.09"/><line x1="463" y1="216.31" x2="507.2" y2="201.78"/><line x1="463" y1="213.93" x2="507.2" y2="211.02"/><line x1="463" y1="238.84" x2="507.2" y2="244.69"/><line x1="463" y1="214.73" x2="507.2" y2="199.09"/><line x1="463" y1="238.07" x2="507.2" y2="208.45"/><line x1="463" y1="221.21" x2="507.2" y2="212.96"/><line x1="463" y1="254.67" x2="507.2" y2="249.20"/><line x1="463" y1="215.86" x2="507.2" y2="204.55"/><line x1="463" y1="228.13" x2="507.2" y2="207.48"/><line x1="463" y1="208.45" x2="507.2" y2="209.83"/><line x1="463" y1="234.89" x2="507.2" y2="232.71"/><line x1="463" y1="206.65" x2="507.2" y2="207.66"/><line x1="463" y1="234.77" x2="507.2" y2="208.05"/><line x1="463" y1="214.88" x2="507.2" y2="220.48"/><line x1="463" y1="197.95" x2="507.2" y2="171.35"/><line x1="463" y1="224.22" x2="507.2" y2="214.13"/><line x1="463" y1="245.58" x2="507.2" y2="217.64"/><line x1="463" y1="227.29" x2="507.2" y2="236.69"/><line x1="463" y1="214.69" x2="507.2" y2="204.37"/><line x1="463" y1="245.25" x2="507.2" y2="249.75"/><line x1="463" y1="209.46" x2="507.2" y2="210.54"/><line x1="463" y1="230.61" x2="507.2" y2="225.06"/><line x1="463" y1="218.67" x2="507.2" y2="202.27"/><line x1="463" y1="212.99" x2="507.2" y2="215.37"/><line x1="463" y1="253.73" x2="507.2" y2="233.19"/><line x1="463" y1="217.12" x2="507.2" y2="192.74"/><line x1="463" y1="242.47" x2="507.2" y2="235.00"/><line x1="463" y1="252.89" x2="507.2" y2="252.20"/><line x1="463" y1="227.62" x2="507.2" y2="213.19"/><line x1="463" y1="247.50" x2="507.2" y2="229.83"/><line x1="463" y1="236.69" x2="507.2" y2="219.67"/><line x1="463" y1="253.25" x2="507.2" y2="232.51"/><line x1="463" y1="227.99" x2="507.2" y2="225.73"/><line x1="463" y1="220.65" x2="507.2" y2="195.93"/><line x1="463" y1="241.36" x2="507.2" y2="227.16"/><line x1="463" y1="231.51" x2="507.2" y2="217.89"/><line x1="463" y1="238.97" x2="507.2" y2="229.94"/><line x1="463" y1="206.47" x2="507.2" y2="189.55"/><line x1="463" y1="233.37" x2="507.2" y2="203.99"/><line x1="463" y1="249.77" x2="507.2" y2="232.34"/><line x1="463" y1="223.29" x2="507.2" y2="217.54"/><line x1="463" y1="199.00" x2="507.2" y2="172.25"/><line x1="463" y1="207.22" x2="507.2" y2="211.84"/><line x1="463" y1="217.58" x2="507.2" y2="193.43"/><line x1="463" y1="233.63" x2="507.2" y2="210.02"/><line x1="463" y1="222.20" x2="507.2" y2="196.22"/><line x1="463" y1="199.07" x2="507.2" y2="171.35"/><line x1="463" y1="234.70" x2="507.2" y2="224.00"/><line x1="463" y1="202.81" x2="507.2" y2="183.43"/><line x1="463" y1="222.08" x2="507.2" y2="208.19"/><line x1="463" y1="219.18" x2="507.2" y2="195.00"/><line x1="463" y1="191.30" x2="507.2" y2="175.55"/><line x1="463" y1="166.10" x2="507.2" y2="169.25"/><line x1="463" y1="254.30" x2="507.2" y2="251.78"/><line x1="463" y1="199.70" x2="507.2" y2="172.40"/></g>
<g fill="#5e93cc"><circle cx="463" cy="218.72" r="1.4"/><circle cx="463" cy="199.93" r="1.4"/><circle cx="463" cy="211.84" r="1.4"/><circle cx="463" cy="227.97" r="1.4"/><circle cx="463" cy="199.88" r="1.4"/><circle cx="463" cy="248.69" r="1.4"/><circle cx="463" cy="227.77" r="1.4"/><circle cx="463" cy="221.60" r="1.4"/><circle cx="463" cy="254.58" r="1.4"/><circle cx="463" cy="201.47" r="1.4"/><circle cx="463" cy="210.33" r="1.4"/><circle cx="463" cy="247.19" r="1.4"/><circle cx="463" cy="219.04" r="1.4"/><circle cx="463" cy="204.11" r="1.4"/><circle cx="463" cy="243.03" r="1.4"/><circle cx="463" cy="204.05" r="1.4"/><circle cx="463" cy="238.34" r="1.4"/><circle cx="463" cy="215.49" r="1.4"/><circle cx="463" cy="243.31" r="1.4"/><circle cx="463" cy="198.52" r="1.4"/><circle cx="463" cy="202.80" r="1.4"/><circle cx="463" cy="245.59" r="1.4"/><circle cx="463" cy="246.78" r="1.4"/><circle cx="463" cy="219.89" r="1.4"/><circle cx="463" cy="255.15" r="1.4"/><circle cx="463" cy="237.12" r="1.4"/><circle cx="463" cy="207.22" r="1.4"/><circle cx="463" cy="227.05" r="1.4"/><circle cx="463" cy="213.92" r="1.4"/><circle cx="463" cy="254.01" r="1.4"/><circle cx="463" cy="211.26" r="1.4"/><circle cx="463" cy="209.03" r="1.4"/><circle cx="463" cy="233.82" r="1.4"/><circle cx="463" cy="252.60" r="1.4"/><circle cx="463" cy="244.71" r="1.4"/><circle cx="463" cy="210.91" r="1.4"/><circle cx="463" cy="200.69" r="1.4"/><circle cx="463" cy="234.49" r="1.4"/><circle cx="463" cy="224.50" r="1.4"/><circle cx="463" cy="211.34" r="1.4"/><circle cx="463" cy="208.47" r="1.4"/><circle cx="463" cy="199.74" r="1.4"/><circle cx="463" cy="249.99" r="1.4"/><circle cx="463" cy="201.37" r="1.4"/><circle cx="463" cy="235.36" r="1.4"/><circle cx="463" cy="236.98" r="1.4"/><circle cx="463" cy="236.72" r="1.4"/><circle cx="463" cy="246.60" r="1.4"/><circle cx="463" cy="214.83" r="1.4"/><circle cx="463" cy="252.50" r="1.4"/><circle cx="463" cy="197.33" r="1.4"/><circle cx="463" cy="241.39" r="1.4"/><circle cx="463" cy="220.43" r="1.4"/><circle cx="463" cy="230.55" r="1.4"/><circle cx="463" cy="252.07" r="1.4"/><circle cx="463" cy="226.33" r="1.4"/><circle cx="463" cy="206.05" r="1.4"/><circle cx="463" cy="199.50" r="1.4"/><circle cx="463" cy="218.28" r="1.4"/><circle cx="463" cy="229.80" r="1.4"/><circle cx="463" cy="246.57" r="1.4"/><circle cx="463" cy="228.70" r="1.4"/><circle cx="463" cy="196.59" r="1.4"/><circle cx="463" cy="228.68" r="1.4"/><circle cx="463" cy="226.65" r="1.4"/><circle cx="463" cy="238.24" r="1.4"/><circle cx="463" cy="231.61" r="1.4"/><circle cx="463" cy="197.23" r="1.4"/><circle cx="463" cy="198.91" r="1.4"/><circle cx="463" cy="235.45" r="1.4"/><circle cx="463" cy="250.11" r="1.4"/><circle cx="463" cy="204.35" r="1.4"/><circle cx="463" cy="234.10" r="1.4"/><circle cx="463" cy="214.51" r="1.4"/><circle cx="463" cy="216.31" r="1.4"/><circle cx="463" cy="213.93" r="1.4"/><circle cx="463" cy="238.84" r="1.4"/><circle cx="463" cy="214.73" r="1.4"/><circle cx="463" cy="238.07" r="1.4"/><circle cx="463" cy="221.21" r="1.4"/><circle cx="463" cy="254.67" r="1.4"/><circle cx="463" cy="215.86" r="1.4"/><circle cx="463" cy="228.13" r="1.4"/><circle cx="463" cy="208.45" r="1.4"/><circle cx="463" cy="234.89" r="1.4"/><circle cx="463" cy="206.65" r="1.4"/><circle cx="463" cy="234.77" r="1.4"/><circle cx="463" cy="214.88" r="1.4"/><circle cx="463" cy="197.95" r="1.4"/><circle cx="463" cy="224.22" r="1.4"/><circle cx="463" cy="245.58" r="1.4"/><circle cx="463" cy="227.29" r="1.4"/><circle cx="463" cy="214.69" r="1.4"/><circle cx="463" cy="245.25" r="1.4"/><circle cx="463" cy="209.46" r="1.4"/><circle cx="463" cy="230.61" r="1.4"/><circle cx="463" cy="218.67" r="1.4"/><circle cx="463" cy="212.99" r="1.4"/><circle cx="463" cy="253.73" r="1.4"/><circle cx="463" cy="217.12" r="1.4"/><circle cx="463" cy="242.47" r="1.4"/><circle cx="463" cy="252.89" r="1.4"/><circle cx="463" cy="227.62" r="1.4"/><circle cx="463" cy="247.50" r="1.4"/><circle cx="463" cy="236.69" r="1.4"/><circle cx="463" cy="253.25" r="1.4"/><circle cx="463" cy="227.99" r="1.4"/><circle cx="463" cy="220.65" r="1.4"/><circle cx="463" cy="241.36" r="1.4"/><circle cx="463" cy="231.51" r="1.4"/><circle cx="463" cy="238.97" r="1.4"/><circle cx="463" cy="206.47" r="1.4"/><circle cx="463" cy="233.37" r="1.4"/><circle cx="463" cy="249.77" r="1.4"/><circle cx="463" cy="223.29" r="1.4"/><circle cx="463" cy="199.00" r="1.4"/><circle cx="463" cy="207.22" r="1.4"/><circle cx="463" cy="217.58" r="1.4"/><circle cx="463" cy="233.63" r="1.4"/><circle cx="463" cy="222.20" r="1.4"/><circle cx="463" cy="199.07" r="1.4"/><circle cx="463" cy="234.70" r="1.4"/><circle cx="463" cy="202.81" r="1.4"/><circle cx="463" cy="222.08" r="1.4"/><circle cx="463" cy="219.18" r="1.4"/><circle cx="463" cy="191.30" r="1.4"/><circle cx="463" cy="166.10" r="1.4"/><circle cx="463" cy="254.30" r="1.4"/><circle cx="463" cy="199.70" r="1.4"/></g>
<g fill="#c96352"><circle cx="507.2" cy="205.92" r="1.4"/><circle cx="507.2" cy="206.62" r="1.4"/><circle cx="507.2" cy="195.51" r="1.4"/><circle cx="507.2" cy="215.43" r="1.4"/><circle cx="507.2" cy="200.75" r="1.4"/><circle cx="507.2" cy="252.20" r="1.4"/><circle cx="507.2" cy="213.60" r="1.4"/><circle cx="507.2" cy="193.28" r="1.4"/><circle cx="507.2" cy="238.78" r="1.4"/><circle cx="507.2" cy="178.46" r="1.4"/><circle cx="507.2" cy="185.37" r="1.4"/><circle cx="507.2" cy="215.94" r="1.4"/><circle cx="507.2" cy="204.70" r="1.4"/><circle cx="507.2" cy="189.76" r="1.4"/><circle cx="507.2" cy="222.11" r="1.4"/><circle cx="507.2" cy="171.35" r="1.4"/><circle cx="507.2" cy="210.52" r="1.4"/><circle cx="507.2" cy="205.08" r="1.4"/><circle cx="507.2" cy="212.96" r="1.4"/><circle cx="507.2" cy="191.07" r="1.4"/><circle cx="507.2" cy="192.24" r="1.4"/><circle cx="507.2" cy="221.31" r="1.4"/><circle cx="507.2" cy="223.95" r="1.4"/><circle cx="507.2" cy="202.13" r="1.4"/><circle cx="507.2" cy="245.88" r="1.4"/><circle cx="507.2" cy="232.70" r="1.4"/><circle cx="507.2" cy="203.35" r="1.4"/><circle cx="507.2" cy="211.98" r="1.4"/><circle cx="507.2" cy="171.35" r="1.4"/><circle cx="507.2" cy="229.14" r="1.4"/><circle cx="507.2" cy="196.16" r="1.4"/><circle cx="507.2" cy="197.00" r="1.4"/><circle cx="507.2" cy="221.33" r="1.4"/><circle cx="507.2" cy="239.48" r="1.4"/><circle cx="507.2" cy="223.51" r="1.4"/><circle cx="507.2" cy="199.18" r="1.4"/><circle cx="507.2" cy="176.91" r="1.4"/><circle cx="507.2" cy="224.41" r="1.4"/><circle cx="507.2" cy="209.75" r="1.4"/><circle cx="507.2" cy="202.94" r="1.4"/><circle cx="507.2" cy="192.61" r="1.4"/><circle cx="507.2" cy="188.31" r="1.4"/><circle cx="507.2" cy="244.69" r="1.4"/><circle cx="507.2" cy="174.15" r="1.4"/><circle cx="507.2" cy="208.62" r="1.4"/><circle cx="507.2" cy="229.76" r="1.4"/><circle cx="507.2" cy="220.81" r="1.4"/><circle cx="507.2" cy="228.55" r="1.4"/><circle cx="507.2" cy="194.11" r="1.4"/><circle cx="507.2" cy="238.78" r="1.4"/><circle cx="507.2" cy="195.00" r="1.4"/><circle cx="507.2" cy="230.00" r="1.4"/><circle cx="507.2" cy="200.69" r="1.4"/><circle cx="507.2" cy="227.99" r="1.4"/><circle cx="507.2" cy="235.64" r="1.4"/><circle cx="507.2" cy="213.97" r="1.4"/><circle cx="507.2" cy="179.41" r="1.4"/><circle cx="507.2" cy="171.94" r="1.4"/><circle cx="507.2" cy="203.13" r="1.4"/><circle cx="507.2" cy="221.27" r="1.4"/><circle cx="507.2" cy="227.30" r="1.4"/><circle cx="507.2" cy="222.84" r="1.4"/><circle cx="507.2" cy="171.35" r="1.4"/><circle cx="507.2" cy="240.08" r="1.4"/><circle cx="507.2" cy="214.48" r="1.4"/><circle cx="507.2" cy="237.46" r="1.4"/><circle cx="507.2" cy="210.94" r="1.4"/><circle cx="507.2" cy="174.43" r="1.4"/><circle cx="507.2" cy="194.54" r="1.4"/><circle cx="507.2" cy="231.31" r="1.4"/><circle cx="507.2" cy="239.07" r="1.4"/><circle cx="507.2" cy="171.35" r="1.4"/><circle cx="507.2" cy="215.77" r="1.4"/><circle cx="507.2" cy="220.09" r="1.4"/><circle cx="507.2" cy="201.78" r="1.4"/><circle cx="507.2" cy="211.02" r="1.4"/><circle cx="507.2" cy="244.69" r="1.4"/><circle cx="507.2" cy="199.09" r="1.4"/><circle cx="507.2" cy="208.45" r="1.4"/><circle cx="507.2" cy="212.96" r="1.4"/><circle cx="507.2" cy="249.20" r="1.4"/><circle cx="507.2" cy="204.55" r="1.4"/><circle cx="507.2" cy="207.48" r="1.4"/><circle cx="507.2" cy="209.83" r="1.4"/><circle cx="507.2" cy="232.71" r="1.4"/><circle cx="507.2" cy="207.66" r="1.4"/><circle cx="507.2" cy="208.05" r="1.4"/><circle cx="507.2" cy="220.48" r="1.4"/><circle cx="507.2" cy="171.35" r="1.4"/><circle cx="507.2" cy="214.13" r="1.4"/><circle cx="507.2" cy="217.64" r="1.4"/><circle cx="507.2" cy="236.69" r="1.4"/><circle cx="507.2" cy="204.37" r="1.4"/><circle cx="507.2" cy="249.75" r="1.4"/><circle cx="507.2" cy="210.54" r="1.4"/><circle cx="507.2" cy="225.06" r="1.4"/><circle cx="507.2" cy="202.27" r="1.4"/><circle cx="507.2" cy="215.37" r="1.4"/><circle cx="507.2" cy="233.19" r="1.4"/><circle cx="507.2" cy="192.74" r="1.4"/><circle cx="507.2" cy="235.00" r="1.4"/><circle cx="507.2" cy="252.20" r="1.4"/><circle cx="507.2" cy="213.19" r="1.4"/><circle cx="507.2" cy="229.83" r="1.4"/><circle cx="507.2" cy="219.67" r="1.4"/><circle cx="507.2" cy="232.51" r="1.4"/><circle cx="507.2" cy="225.73" r="1.4"/><circle cx="507.2" cy="195.93" r="1.4"/><circle cx="507.2" cy="227.16" r="1.4"/><circle cx="507.2" cy="217.89" r="1.4"/><circle cx="507.2" cy="229.94" r="1.4"/><circle cx="507.2" cy="189.55" r="1.4"/><circle cx="507.2" cy="203.99" r="1.4"/><circle cx="507.2" cy="232.34" r="1.4"/><circle cx="507.2" cy="217.54" r="1.4"/><circle cx="507.2" cy="172.25" r="1.4"/><circle cx="507.2" cy="211.84" r="1.4"/><circle cx="507.2" cy="193.43" r="1.4"/><circle cx="507.2" cy="210.02" r="1.4"/><circle cx="507.2" cy="196.22" r="1.4"/><circle cx="507.2" cy="171.35" r="1.4"/><circle cx="507.2" cy="224.00" r="1.4"/><circle cx="507.2" cy="183.43" r="1.4"/><circle cx="507.2" cy="208.19" r="1.4"/><circle cx="507.2" cy="195.00" r="1.4"/><circle cx="507.2" cy="175.55" r="1.4"/><circle cx="507.2" cy="169.25" r="1.4"/><circle cx="507.2" cy="251.78" r="1.4"/><circle cx="507.2" cy="172.40" r="1.4"/></g>
<text x="389.80" y="214.60" font-size="13.6" text-anchor="middle" fill="#231f20" transform="rotate(-90 389.8 214.6)" >Retention time (min)</text>
<text x="463.00" y="295.80" font-size="13.6" text-anchor="middle" fill="#231f20" >Nonlac</text>
<text x="507.40" y="295.80" font-size="13.6" text-anchor="middle" fill="#231f20" >Lac</text>
<text x="546.50" y="23.00" font-size="16.3" text-anchor="start" fill="#231f20" font-weight="bold" >d</text>
<text x="672.90" y="31.00" font-size="13.6" text-anchor="middle" fill="#231f20" >HEK293T</text>
<line x1="610.00" y1="47.60" x2="625.00" y2="47.60" stroke="#c16558" stroke-width="1.7" />
<circle cx="617.50" cy="47.60" r="2.7" fill="#c16558"/>
<text x="629.00" y="52.60" font-size="13.6" text-anchor="start" fill="#231f20" >Lac</text>
<line x1="667.50" y1="47.80" x2="683.50" y2="47.80" stroke="#5d90c5" stroke-width="1.5" />
<rect x="672.00" y="45.60" width="7.00" height="4.60" fill="#5d90c5"/>
<text x="686.00" y="52.60" font-size="13.6" text-anchor="start" fill="#231f20" >Nonlac</text>
<line x1="606.00" y1="74.70" x2="606.00" y2="211.00" stroke="#231f20" stroke-width="1.2" />
<line x1="599.50" y1="211.00" x2="606.00" y2="211.00" stroke="#231f20" stroke-width="1.2" />
<line x1="599.50" y1="183.74" x2="606.00" y2="183.74" stroke="#231f20" stroke-width="1.2" />
<line x1="599.50" y1="156.48" x2="606.00" y2="156.48" stroke="#231f20" stroke-width="1.2" />
<line x1="599.50" y1="129.22" x2="606.00" y2="129.22" stroke="#231f20" stroke-width="1.2" />
<line x1="599.50" y1="101.96" x2="606.00" y2="101.96" stroke="#231f20" stroke-width="1.2" />
<line x1="599.50" y1="74.70" x2="606.00" y2="74.70" stroke="#231f20" stroke-width="1.2" />
<text x="593.30" y="215.90" font-size="13.6" text-anchor="end" fill="#231f20" >0</text>
<text x="593.30" y="188.64" font-size="13.6" text-anchor="end" fill="#231f20" >20</text>
<text x="593.30" y="161.38" font-size="13.6" text-anchor="end" fill="#231f20" >40</text>
<text x="593.30" y="134.12" font-size="13.6" text-anchor="end" fill="#231f20" >60</text>
<text x="593.30" y="106.86" font-size="13.6" text-anchor="end" fill="#231f20" >80</text>
<text x="593.30" y="79.60" font-size="13.6" text-anchor="end" fill="#231f20" >100</text>
<line x1="753.20" y1="74.70" x2="753.20" y2="211.00" stroke="#231f20" stroke-width="1.2" />
<line x1="753.20" y1="211.00" x2="756.70" y2="211.00" stroke="#231f20" stroke-width="1.2" />
<line x1="753.20" y1="183.74" x2="756.70" y2="183.74" stroke="#231f20" stroke-width="1.2" />
<line x1="753.20" y1="156.48" x2="756.70" y2="156.48" stroke="#231f20" stroke-width="1.2" />
<line x1="753.20" y1="129.22" x2="756.70" y2="129.22" stroke="#231f20" stroke-width="1.2" />
<line x1="753.20" y1="101.96" x2="756.70" y2="101.96" stroke="#231f20" stroke-width="1.2" />
<line x1="753.20" y1="74.70" x2="756.70" y2="74.70" stroke="#231f20" stroke-width="1.2" />
<text x="765.00" y="215.90" font-size="13.6" text-anchor="start" fill="#231f20" >0</text>
<text x="765.00" y="188.64" font-size="13.6" text-anchor="start" fill="#231f20" >2</text>
<text x="765.00" y="161.38" font-size="13.6" text-anchor="start" fill="#231f20" >4</text>
<text x="765.00" y="134.12" font-size="13.6" text-anchor="start" fill="#231f20" >6</text>
<text x="765.00" y="106.86" font-size="13.6" text-anchor="start" fill="#231f20" >8</text>
<text x="765.00" y="79.60" font-size="13.6" text-anchor="start" fill="#231f20" >10</text>
<line x1="606.00" y1="211.00" x2="753.20" y2="211.00" stroke="#231f20" stroke-width="1.2" />
<line x1="620.70" y1="211.00" x2="620.70" y2="216.00" stroke="#231f20" stroke-width="1.2" />
<line x1="650.00" y1="211.00" x2="650.00" y2="216.00" stroke="#231f20" stroke-width="1.2" />
<line x1="679.30" y1="211.00" x2="679.30" y2="216.00" stroke="#231f20" stroke-width="1.2" />
<line x1="708.50" y1="211.00" x2="708.50" y2="216.00" stroke="#231f20" stroke-width="1.2" />
<line x1="737.80" y1="211.00" x2="737.80" y2="216.00" stroke="#231f20" stroke-width="1.2" />
<polyline points="620.7,127.9 650.0,99.2 679.3,91.1 708.5,82.9 737.8,77.4" fill="none" stroke="#c16558" stroke-width="1.8"/>
<circle cx="620.70" cy="127.86" r="2.8" fill="#c16558"/>
<circle cx="650.00" cy="99.23" r="2.8" fill="#c16558"/>
<circle cx="679.30" cy="91.06" r="2.8" fill="#c16558"/>
<circle cx="708.50" cy="82.88" r="2.8" fill="#c16558"/>
<circle cx="737.80" cy="77.43" r="2.8" fill="#c16558"/>
<text x="618.50" y="123.00" font-size="13.6" text-anchor="middle" fill="#231f20" >61</text>
<text x="651.50" y="94.30" font-size="13.6" text-anchor="middle" fill="#231f20" >82</text>
<text x="681.40" y="88.30" font-size="13.6" text-anchor="middle" fill="#231f20" >88</text>
<text x="711.00" y="97.80" font-size="13.6" text-anchor="middle" fill="#231f20" >94</text>
<text x="742.00" y="91.50" font-size="13.6" text-anchor="middle" fill="#231f20" >98</text>
<polyline points="620.7,204.5 650.0,203.5 679.3,203.0 708.5,201.9 737.8,200.5" fill="none" stroke="#5d90c5" stroke-width="1.2"/>
<rect x="617.70" y="201.46" width="6.00" height="6.00" fill="#5d90c5"/>
<rect x="647.00" y="200.50" width="6.00" height="6.00" fill="#5d90c5"/>
<rect x="676.30" y="199.96" width="6.00" height="6.00" fill="#5d90c5"/>
<rect x="705.50" y="198.87" width="6.00" height="6.00" fill="#5d90c5"/>
<rect x="734.80" y="197.50" width="6.00" height="6.00" fill="#5d90c5"/>
<text x="621.70" y="196.50" font-size="10.2" text-anchor="middle" fill="#231f20" xml:space="preserve">0.48</text>
<text x="651.00" y="196.50" font-size="10.2" text-anchor="middle" fill="#231f20" xml:space="preserve">0 .55</text>
<text x="680.30" y="196.50" font-size="10.2" text-anchor="middle" fill="#231f20" xml:space="preserve">0.5 9</text>
<text x="709.50" y="196.50" font-size="10.2" text-anchor="middle" fill="#231f20" xml:space="preserve">0.67</text>
<text x="738.80" y="196.50" font-size="10.2" text-anchor="middle" fill="#231f20" xml:space="preserve">0 .77</text>
<text x="559.30" y="147.60" font-size="13.6" text-anchor="middle" fill="#cb7469" transform="rotate(-90 559.3 147.6)" >Frequency (%)</text>
<text x="783.30" y="144.00" font-size="13.6" text-anchor="middle" fill="#6b9bd2" transform="rotate(90 783.3 144.0)" >Frequency (%)</text>
<text x="628.20" y="230.00" font-size="13.6" text-anchor="end" fill="#231f20" transform="rotate(-45 628.2 230)" >HCD 24</text>
<text x="657.50" y="230.00" font-size="13.6" text-anchor="end" fill="#231f20" transform="rotate(-45 657.5 230)" >HCD 28</text>
<text x="686.80" y="230.00" font-size="13.6" text-anchor="end" fill="#231f20" transform="rotate(-45 686.8 230)" >HCD 32</text>
<text x="716.00" y="230.00" font-size="13.6" text-anchor="end" fill="#231f20" transform="rotate(-45 716.0 230)" >HCD 36</text>
<text x="745.30" y="230.00" font-size="13.6" text-anchor="end" fill="#231f20" transform="rotate(-45 745.3 230)" >HCD 40</text>
<text x="810.80" y="23.00" font-size="16.3" text-anchor="start" fill="#231f20" font-weight="bold" >e</text>
<text x="962.80" y="32.10" font-size="13.6" text-anchor="middle" fill="#231f20" >HEK293T</text>
<circle cx="909.60" cy="48.40" r="3.0" fill="#c96352"/>
<text x="922.00" y="53.30" font-size="13.6" text-anchor="start" fill="#231f20" >Lac</text>
<circle cx="965.40" cy="48.40" r="3.0" fill="#5e93cc"/>
<text x="976.50" y="53.30" font-size="13.6" text-anchor="start" fill="#231f20" >Nonlac</text>
<line x1="869.80" y1="76.50" x2="869.80" y2="211.80" stroke="#231f20" stroke-width="1.2" />
<line x1="864.30" y1="211.80" x2="869.80" y2="211.80" stroke="#231f20" stroke-width="1.2" />
<line x1="864.30" y1="191.67" x2="869.80" y2="191.67" stroke="#231f20" stroke-width="1.2" />
<line x1="864.30" y1="171.53" x2="869.80" y2="171.53" stroke="#231f20" stroke-width="1.2" />
<line x1="864.30" y1="151.40" x2="869.80" y2="151.40" stroke="#231f20" stroke-width="1.2" />
<line x1="864.30" y1="131.27" x2="869.80" y2="131.27" stroke="#231f20" stroke-width="1.2" />
<line x1="864.30" y1="111.13" x2="869.80" y2="111.13" stroke="#231f20" stroke-width="1.2" />
<line x1="864.30" y1="91.00" x2="869.80" y2="91.00" stroke="#231f20" stroke-width="1.2" />
<text x="858.30" y="216.70" font-size="13.6" text-anchor="end" fill="#231f20" >0</text>
<text x="858.30" y="156.30" font-size="13.6" text-anchor="end" fill="#231f20" >50</text>
<text x="858.30" y="95.90" font-size="13.6" text-anchor="end" fill="#231f20" >100</text>
<line x1="869.80" y1="211.80" x2="1053.40" y2="211.80" stroke="#231f20" stroke-width="1.2" />
<line x1="884.70" y1="211.80" x2="884.70" y2="215.80" stroke="#231f20" stroke-width="1.2" />
<line x1="902.80" y1="211.80" x2="902.80" y2="215.80" stroke="#231f20" stroke-width="1.2" />
<line x1="919.90" y1="211.80" x2="919.90" y2="215.80" stroke="#231f20" stroke-width="1.2" />
<line x1="937.50" y1="211.80" x2="937.50" y2="215.80" stroke="#231f20" stroke-width="1.2" />
<line x1="955.00" y1="211.80" x2="955.00" y2="215.80" stroke="#231f20" stroke-width="1.2" />
<line x1="972.50" y1="211.80" x2="972.50" y2="215.80" stroke="#231f20" stroke-width="1.2" />
<line x1="990.10" y1="211.80" x2="990.10" y2="215.80" stroke="#231f20" stroke-width="1.2" />
<line x1="1007.60" y1="211.80" x2="1007.60" y2="215.80" stroke="#231f20" stroke-width="1.2" />
<line x1="1024.80" y1="211.80" x2="1024.80" y2="215.80" stroke="#231f20" stroke-width="1.2" />
<line x1="1042.30" y1="211.80" x2="1042.30" y2="215.80" stroke="#231f20" stroke-width="1.2" />
<g fill="#c96352"><circle cx="884.7" cy="211.8" r="1.2"/><circle cx="886.3" cy="211.7" r="1.2"/><circle cx="883.1" cy="211.6" r="1.2"/><circle cx="887.9" cy="211.6" r="1.2"/><circle cx="881.5" cy="211.6" r="1.2"/><circle cx="889.5" cy="211.5" r="1.2"/><circle cx="879.9" cy="211.5" r="1.2"/><circle cx="884.7" cy="211.4" r="1.2"/><circle cx="886.3" cy="211.4" r="1.2"/><circle cx="883.1" cy="211.4" r="1.2"/><circle cx="887.1" cy="211.4" r="1.2"/><circle cx="882.3" cy="211.3" r="1.2"/><circle cx="885.5" cy="211.1" r="1.2"/><circle cx="888.7" cy="211.1" r="1.2"/><circle cx="883.9" cy="211.1" r="1.2"/><circle cx="880.7" cy="211.0" r="1.2"/><circle cx="885.5" cy="211.0" r="1.2"/><circle cx="883.9" cy="210.9" r="1.2"/><circle cx="887.1" cy="210.9" r="1.2"/><circle cx="882.3" cy="210.8" r="1.2"/><circle cx="888.7" cy="210.8" r="1.2"/><circle cx="880.7" cy="210.8" r="1.2"/><circle cx="885.5" cy="210.7" r="1.2"/><circle cx="889.5" cy="210.6" r="1.2"/><circle cx="884.7" cy="210.6" r="1.2"/><circle cx="883.1" cy="210.5" r="1.2"/><circle cx="886.3" cy="210.4" r="1.2"/><circle cx="887.9" cy="210.4" r="1.2"/><circle cx="881.5" cy="210.3" r="1.2"/><circle cx="879.9" cy="210.2" r="1.2"/><circle cx="884.7" cy="210.1" r="1.2"/><circle cx="886.3" cy="210.1" r="1.2"/><circle cx="883.9" cy="210.0" r="1.2"/><circle cx="882.3" cy="209.8" r="1.2"/><circle cx="885.5" cy="209.7" r="1.2"/><circle cx="887.1" cy="209.7" r="1.2"/><circle cx="888.7" cy="209.5" r="1.2"/><circle cx="883.1" cy="209.5" r="1.2"/><circle cx="881.5" cy="209.4" r="1.2"/><circle cx="885.5" cy="209.4" r="1.2"/><circle cx="883.1" cy="209.4" r="1.2"/><circle cx="887.1" cy="209.4" r="1.2"/><circle cx="881.5" cy="209.3" r="1.2"/><circle cx="884.7" cy="208.9" r="1.2"/><circle cx="886.3" cy="208.9" r="1.2"/><circle cx="882.3" cy="208.6" r="1.2"/><circle cx="885.5" cy="208.5" r="1.2"/><circle cx="883.9" cy="208.5" r="1.2"/><circle cx="887.1" cy="208.4" r="1.2"/><circle cx="881.5" cy="208.3" r="1.2"/><circle cx="884.7" cy="207.9" r="1.2"/><circle cx="886.3" cy="207.7" r="1.2"/><circle cx="883.9" cy="207.5" r="1.2"/><circle cx="885.5" cy="207.3" r="1.2"/><circle cx="887.1" cy="207.3" r="1.2"/><circle cx="883.1" cy="207.1" r="1.2"/><circle cx="881.5" cy="207.1" r="1.2"/><circle cx="884.7" cy="206.8" r="1.2"/><circle cx="886.3" cy="206.7" r="1.2"/><circle cx="882.3" cy="206.6" r="1.2"/><circle cx="887.9" cy="206.6" r="1.2"/><circle cx="885.5" cy="206.1" r="1.2"/><circle cx="883.9" cy="206.1" r="1.2"/><circle cx="887.1" cy="205.9" r="1.2"/><circle cx="884.7" cy="205.7" r="1.2"/><circle cx="883.1" cy="205.6" r="1.2"/><circle cx="885.5" cy="204.9" r="1.2"/><circle cx="884.7" cy="204.5" r="1.2"/><circle cx="886.3" cy="204.3" r="1.2"/><circle cx="885.5" cy="204.0" r="1.2"/><circle cx="883.9" cy="203.7" r="1.2"/><circle cx="886.3" cy="203.4" r="1.2"/><circle cx="884.7" cy="202.3" r="1.2"/><circle cx="886.3" cy="202.3" r="1.2"/><circle cx="885.5" cy="201.5" r="1.2"/><circle cx="884.7" cy="201.0" r="1.2"/><circle cx="885.5" cy="200.6" r="1.2"/><circle cx="883.9" cy="200.2" r="1.2"/><circle cx="886.3" cy="200.2" r="1.2"/><circle cx="884.7" cy="198.1" r="1.2"/><circle cx="885.5" cy="197.6" r="1.2"/><circle cx="884.7" cy="195.7" r="1.2"/><circle cx="886.3" cy="195.4" r="1.2"/><circle cx="883.9" cy="195.2" r="1.2"/><circle cx="884.7" cy="193.9" r="1.2"/><circle cx="885.5" cy="193.1" r="1.2"/><circle cx="884.7" cy="191.8" r="1.2"/><circle cx="884.7" cy="190.2" r="1.2"/><circle cx="884.7" cy="188.8" r="1.2"/><circle cx="884.7" cy="186.9" r="1.2"/><circle cx="884.7" cy="183.8" r="1.2"/><circle cx="884.7" cy="175.6" r="1.2"/></g>
<g fill="#5e93cc"><circle cx="902.8" cy="211.8" r="1.2"/><circle cx="904.4" cy="211.8" r="1.2"/><circle cx="901.2" cy="211.8" r="1.2"/><circle cx="906.0" cy="211.8" r="1.2"/><circle cx="899.6" cy="211.8" r="1.2"/><circle cx="907.6" cy="211.7" r="1.2"/><circle cx="898.0" cy="211.7" r="1.2"/><circle cx="902.8" cy="211.7" r="1.2"/><circle cx="904.4" cy="211.7" r="1.2"/><circle cx="901.2" cy="211.7" r="1.2"/><circle cx="906.0" cy="211.7" r="1.2"/><circle cx="899.6" cy="211.7" r="1.2"/><circle cx="907.6" cy="211.6" r="1.2"/><circle cx="898.0" cy="211.6" r="1.2"/><circle cx="902.8" cy="211.6" r="1.2"/><circle cx="904.4" cy="211.6" r="1.2"/><circle cx="901.2" cy="211.6" r="1.2"/><circle cx="906.0" cy="211.6" r="1.2"/><circle cx="899.6" cy="211.6" r="1.2"/><circle cx="907.6" cy="211.6" r="1.2"/><circle cx="898.0" cy="211.6" r="1.2"/><circle cx="902.8" cy="211.5" r="1.2"/><circle cx="904.4" cy="211.5" r="1.2"/><circle cx="901.2" cy="211.5" r="1.2"/><circle cx="906.0" cy="211.5" r="1.2"/><circle cx="899.6" cy="211.4" r="1.2"/><circle cx="907.6" cy="211.4" r="1.2"/><circle cx="898.0" cy="211.4" r="1.2"/><circle cx="902.8" cy="211.4" r="1.2"/><circle cx="904.4" cy="211.4" r="1.2"/><circle cx="901.2" cy="211.4" r="1.2"/><circle cx="906.0" cy="211.3" r="1.2"/><circle cx="903.6" cy="211.3" r="1.2"/><circle cx="899.6" cy="211.3" r="1.2"/><circle cx="902.0" cy="211.3" r="1.2"/><circle cx="906.8" cy="211.3" r="1.2"/><circle cx="903.6" cy="211.2" r="1.2"/><circle cx="905.2" cy="211.2" r="1.2"/><circle cx="902.0" cy="211.2" r="1.2"/><circle cx="905.2" cy="211.2" r="1.2"/><circle cx="900.4" cy="211.2" r="1.2"/><circle cx="906.8" cy="211.2" r="1.2"/><circle cx="898.8" cy="211.2" r="1.2"/><circle cx="900.4" cy="211.1" r="1.2"/><circle cx="906.8" cy="211.1" r="1.2"/><circle cx="898.8" cy="211.1" r="1.2"/><circle cx="903.6" cy="211.1" r="1.2"/><circle cx="902.0" cy="211.1" r="1.2"/><circle cx="903.6" cy="211.1" r="1.2"/><circle cx="902.0" cy="211.1" r="1.2"/><circle cx="905.2" cy="211.0" r="1.2"/><circle cx="900.4" cy="211.0" r="1.2"/><circle cx="898.8" cy="211.0" r="1.2"/><circle cx="905.2" cy="210.9" r="1.2"/><circle cx="900.4" cy="210.9" r="1.2"/><circle cx="906.8" cy="210.9" r="1.2"/><circle cx="898.8" cy="210.9" r="1.2"/><circle cx="903.6" cy="210.9" r="1.2"/><circle cx="902.0" cy="210.9" r="1.2"/><circle cx="905.2" cy="210.8" r="1.2"/><circle cx="900.4" cy="210.8" r="1.2"/><circle cx="907.6" cy="210.8" r="1.2"/><circle cx="907.6" cy="210.7" r="1.2"/><circle cx="898.0" cy="210.7" r="1.2"/><circle cx="902.8" cy="210.7" r="1.2"/><circle cx="898.0" cy="210.6" r="1.2"/><circle cx="904.4" cy="210.6" r="1.2"/><circle cx="906.0" cy="210.6" r="1.2"/><circle cx="902.8" cy="210.6" r="1.2"/><circle cx="904.4" cy="210.6" r="1.2"/><circle cx="901.2" cy="210.4" r="1.2"/><circle cx="899.6" cy="210.4" r="1.2"/><circle cx="901.2" cy="210.4" r="1.2"/><circle cx="906.0" cy="210.3" r="1.2"/><circle cx="903.6" cy="210.2" r="1.2"/><circle cx="899.6" cy="210.2" r="1.2"/><circle cx="903.6" cy="210.2" r="1.2"/><circle cx="902.0" cy="210.1" r="1.2"/><circle cx="902.0" cy="210.1" r="1.2"/><circle cx="906.8" cy="210.0" r="1.2"/><circle cx="905.2" cy="210.0" r="1.2"/><circle cx="905.2" cy="210.0" r="1.2"/><circle cx="900.4" cy="209.9" r="1.2"/><circle cx="902.8" cy="209.7" r="1.2"/><circle cx="904.4" cy="209.6" r="1.2"/><circle cx="898.8" cy="209.6" r="1.2"/><circle cx="901.2" cy="209.5" r="1.2"/><circle cx="907.6" cy="209.5" r="1.2"/><circle cx="902.8" cy="209.5" r="1.2"/><circle cx="906.0" cy="209.4" r="1.2"/><circle cx="903.6" cy="209.1" r="1.2"/><circle cx="902.0" cy="209.0" r="1.2"/><circle cx="905.2" cy="208.8" r="1.2"/><circle cx="901.2" cy="208.7" r="1.2"/><circle cx="902.8" cy="208.6" r="1.2"/><circle cx="899.6" cy="208.6" r="1.2"/><circle cx="906.8" cy="208.5" r="1.2"/><circle cx="902.8" cy="207.0" r="1.2"/><circle cx="902.8" cy="205.8" r="1.2"/></g>
<g fill="#c96352"><circle cx="919.9" cy="211.8" r="1.2"/><circle cx="921.5" cy="211.6" r="1.2"/><circle cx="918.3" cy="211.5" r="1.2"/><circle cx="923.1" cy="211.5" r="1.2"/><circle cx="916.7" cy="211.4" r="1.2"/><circle cx="920.7" cy="211.3" r="1.2"/><circle cx="919.1" cy="211.1" r="1.2"/><circle cx="922.3" cy="211.1" r="1.2"/><circle cx="917.5" cy="211.1" r="1.2"/><circle cx="923.9" cy="210.9" r="1.2"/><circle cx="915.9" cy="210.8" r="1.2"/><circle cx="919.9" cy="210.8" r="1.2"/><circle cx="921.5" cy="210.6" r="1.2"/><circle cx="918.3" cy="210.5" r="1.2"/><circle cx="923.1" cy="210.5" r="1.2"/><circle cx="916.7" cy="210.4" r="1.2"/><circle cx="919.9" cy="210.4" r="1.2"/><circle cx="921.5" cy="210.3" r="1.2"/><circle cx="918.3" cy="210.3" r="1.2"/><circle cx="923.1" cy="210.2" r="1.2"/><circle cx="916.7" cy="210.2" r="1.2"/><circle cx="919.9" cy="210.1" r="1.2"/><circle cx="920.7" cy="210.1" r="1.2"/><circle cx="922.3" cy="209.9" r="1.2"/><circle cx="917.5" cy="209.9" r="1.2"/><circle cx="919.1" cy="209.8" r="1.2"/><circle cx="923.9" cy="209.8" r="1.2"/><circle cx="915.9" cy="209.6" r="1.2"/><circle cx="920.7" cy="209.6" r="1.2"/><circle cx="919.1" cy="209.6" r="1.2"/><circle cx="921.5" cy="209.4" r="1.2"/><circle cx="918.3" cy="209.4" r="1.2"/><circle cx="923.1" cy="209.4" r="1.2"/><circle cx="919.9" cy="209.3" r="1.2"/><circle cx="916.7" cy="209.2" r="1.2"/><circle cx="922.3" cy="209.1" r="1.2"/><circle cx="917.5" cy="208.9" r="1.2"/><circle cx="919.9" cy="208.9" r="1.2"/><circle cx="923.9" cy="208.8" r="1.2"/><circle cx="915.9" cy="208.7" r="1.2"/><circle cx="920.7" cy="208.4" r="1.2"/><circle cx="919.1" cy="208.1" r="1.2"/><circle cx="921.5" cy="208.1" r="1.2"/><circle cx="917.5" cy="207.9" r="1.2"/><circle cx="919.9" cy="207.7" r="1.2"/><circle cx="922.3" cy="207.7" r="1.2"/><circle cx="918.3" cy="207.6" r="1.2"/><circle cx="916.7" cy="207.6" r="1.2"/><circle cx="923.9" cy="207.4" r="1.2"/><circle cx="920.7" cy="207.1" r="1.2"/><circle cx="919.9" cy="206.8" r="1.2"/><circle cx="921.5" cy="206.6" r="1.2"/><circle cx="918.3" cy="206.5" r="1.2"/><circle cx="923.1" cy="206.3" r="1.2"/><circle cx="920.7" cy="206.2" r="1.2"/><circle cx="919.9" cy="205.8" r="1.2"/><circle cx="922.3" cy="205.8" r="1.2"/><circle cx="917.5" cy="205.7" r="1.2"/><circle cx="923.9" cy="205.6" r="1.2"/><circle cx="915.9" cy="205.6" r="1.2"/><circle cx="919.9" cy="205.6" r="1.2"/><circle cx="921.5" cy="205.6" r="1.2"/><circle cx="919.1" cy="205.5" r="1.2"/><circle cx="920.7" cy="205.2" r="1.2"/><circle cx="923.1" cy="205.2" r="1.2"/><circle cx="916.7" cy="205.2" r="1.2"/><circle cx="918.3" cy="205.1" r="1.2"/><circle cx="920.7" cy="205.0" r="1.2"/><circle cx="918.3" cy="205.0" r="1.2"/><circle cx="922.3" cy="204.8" r="1.2"/><circle cx="919.9" cy="204.7" r="1.2"/><circle cx="917.5" cy="204.7" r="1.2"/><circle cx="923.9" cy="204.7" r="1.2"/><circle cx="915.9" cy="204.5" r="1.2"/><circle cx="921.5" cy="204.4" r="1.2"/><circle cx="919.1" cy="204.3" r="1.2"/><circle cx="919.9" cy="203.6" r="1.2"/><circle cx="920.7" cy="203.2" r="1.2"/><circle cx="919.9" cy="202.5" r="1.2"/><circle cx="921.5" cy="202.4" r="1.2"/><circle cx="918.3" cy="202.3" r="1.2"/><circle cx="923.1" cy="202.2" r="1.2"/><circle cx="916.7" cy="202.1" r="1.2"/><circle cx="920.7" cy="202.0" r="1.2"/><circle cx="920.7" cy="202.0" r="1.2"/><circle cx="919.9" cy="201.5" r="1.2"/><circle cx="921.5" cy="201.5" r="1.2"/><circle cx="918.3" cy="201.3" r="1.2"/><circle cx="923.1" cy="201.2" r="1.2"/><circle cx="920.7" cy="201.0" r="1.2"/><circle cx="919.9" cy="200.4" r="1.2"/><circle cx="921.5" cy="200.2" r="1.2"/><circle cx="920.7" cy="199.8" r="1.2"/><circle cx="919.1" cy="199.7" r="1.2"/><circle cx="919.9" cy="199.0" r="1.2"/><circle cx="921.5" cy="198.9" r="1.2"/><circle cx="920.7" cy="198.4" r="1.2"/><circle cx="919.9" cy="198.0" r="1.2"/><circle cx="921.5" cy="197.9" r="1.2"/><circle cx="918.3" cy="197.8" r="1.2"/><circle cx="920.7" cy="197.4" r="1.2"/><circle cx="919.9" cy="197.0" r="1.2"/><circle cx="921.5" cy="197.0" r="1.2"/><circle cx="920.7" cy="196.2" r="1.2"/><circle cx="919.9" cy="195.1" r="1.2"/><circle cx="919.9" cy="193.7" r="1.2"/><circle cx="919.9" cy="192.2" r="1.2"/><circle cx="921.5" cy="192.1" r="1.2"/><circle cx="920.7" cy="191.6" r="1.2"/><circle cx="919.1" cy="191.6" r="1.2"/><circle cx="919.9" cy="190.5" r="1.2"/><circle cx="920.7" cy="190.1" r="1.2"/><circle cx="919.9" cy="189.2" r="1.2"/><circle cx="920.7" cy="188.7" r="1.2"/><circle cx="919.9" cy="187.2" r="1.2"/><circle cx="920.7" cy="186.6" r="1.2"/><circle cx="919.9" cy="186.2" r="1.2"/><circle cx="920.7" cy="185.4" r="1.2"/><circle cx="919.9" cy="184.1" r="1.2"/><circle cx="920.7" cy="183.7" r="1.2"/><circle cx="919.9" cy="180.4" r="1.2"/><circle cx="919.9" cy="175.4" r="1.2"/><circle cx="921.5" cy="175.2" r="1.2"/><circle cx="919.9" cy="168.4" r="1.2"/><circle cx="919.9" cy="161.1" r="1.2"/></g>
<g fill="#5e93cc"><circle cx="937.5" cy="211.8" r="1.2"/><circle cx="939.1" cy="211.8" r="1.2"/><circle cx="935.9" cy="211.7" r="1.2"/><circle cx="940.7" cy="211.7" r="1.2"/><circle cx="934.3" cy="211.7" r="1.2"/><circle cx="942.3" cy="211.7" r="1.2"/><circle cx="932.7" cy="211.7" r="1.2"/><circle cx="937.5" cy="211.7" r="1.2"/><circle cx="939.1" cy="211.6" r="1.2"/><circle cx="935.9" cy="211.6" r="1.2"/><circle cx="940.7" cy="211.6" r="1.2"/><circle cx="934.3" cy="211.6" r="1.2"/><circle cx="942.3" cy="211.5" r="1.2"/><circle cx="932.7" cy="211.5" r="1.2"/><circle cx="937.5" cy="211.5" r="1.2"/><circle cx="939.1" cy="211.5" r="1.2"/><circle cx="935.9" cy="211.5" r="1.2"/><circle cx="940.7" cy="211.5" r="1.2"/><circle cx="934.3" cy="211.5" r="1.2"/><circle cx="942.3" cy="211.4" r="1.2"/><circle cx="932.7" cy="211.4" r="1.2"/><circle cx="937.5" cy="211.4" r="1.2"/><circle cx="939.1" cy="211.4" r="1.2"/><circle cx="935.9" cy="211.4" r="1.2"/><circle cx="940.7" cy="211.4" r="1.2"/><circle cx="934.3" cy="211.4" r="1.2"/><circle cx="942.3" cy="211.4" r="1.2"/><circle cx="932.7" cy="211.4" r="1.2"/><circle cx="937.5" cy="211.3" r="1.2"/><circle cx="939.1" cy="211.3" r="1.2"/><circle cx="935.9" cy="211.3" r="1.2"/><circle cx="940.7" cy="211.3" r="1.2"/><circle cx="934.3" cy="211.3" r="1.2"/><circle cx="942.3" cy="211.3" r="1.2"/><circle cx="932.7" cy="211.3" r="1.2"/><circle cx="937.5" cy="211.3" r="1.2"/><circle cx="938.3" cy="211.2" r="1.2"/><circle cx="936.7" cy="211.2" r="1.2"/><circle cx="939.9" cy="211.2" r="1.2"/><circle cx="939.9" cy="211.2" r="1.2"/><circle cx="935.1" cy="211.2" r="1.2"/><circle cx="935.1" cy="211.2" r="1.2"/><circle cx="941.5" cy="211.1" r="1.2"/><circle cx="941.5" cy="211.1" r="1.2"/><circle cx="933.5" cy="211.1" r="1.2"/><circle cx="933.5" cy="211.1" r="1.2"/><circle cx="938.3" cy="211.0" r="1.2"/><circle cx="936.7" cy="211.0" r="1.2"/><circle cx="938.3" cy="211.0" r="1.2"/><circle cx="939.9" cy="211.0" r="1.2"/><circle cx="935.1" cy="211.0" r="1.2"/><circle cx="936.7" cy="211.0" r="1.2"/><circle cx="941.5" cy="210.9" r="1.2"/><circle cx="933.5" cy="210.9" r="1.2"/><circle cx="938.3" cy="210.9" r="1.2"/><circle cx="936.7" cy="210.8" r="1.2"/><circle cx="939.9" cy="210.8" r="1.2"/><circle cx="935.1" cy="210.8" r="1.2"/><circle cx="941.5" cy="210.8" r="1.2"/><circle cx="933.5" cy="210.8" r="1.2"/><circle cx="938.3" cy="210.8" r="1.2"/><circle cx="936.7" cy="210.7" r="1.2"/><circle cx="939.9" cy="210.7" r="1.2"/><circle cx="935.1" cy="210.7" r="1.2"/><circle cx="941.5" cy="210.6" r="1.2"/><circle cx="933.5" cy="210.6" r="1.2"/><circle cx="938.3" cy="210.6" r="1.2"/><circle cx="939.1" cy="210.5" r="1.2"/><circle cx="935.9" cy="210.5" r="1.2"/><circle cx="942.3" cy="210.5" r="1.2"/><circle cx="937.5" cy="210.4" r="1.2"/><circle cx="935.9" cy="210.4" r="1.2"/><circle cx="940.7" cy="210.4" r="1.2"/><circle cx="934.3" cy="210.3" r="1.2"/><circle cx="932.7" cy="210.3" r="1.2"/><circle cx="937.5" cy="210.2" r="1.2"/><circle cx="939.1" cy="210.2" r="1.2"/><circle cx="940.7" cy="210.2" r="1.2"/><circle cx="934.3" cy="210.2" r="1.2"/><circle cx="942.3" cy="210.2" r="1.2"/><circle cx="932.7" cy="210.1" r="1.2"/><circle cx="937.5" cy="210.1" r="1.2"/><circle cx="939.1" cy="210.1" r="1.2"/><circle cx="935.9" cy="210.0" r="1.2"/><circle cx="940.7" cy="209.9" r="1.2"/><circle cx="935.1" cy="209.8" r="1.2"/><circle cx="933.5" cy="209.8" r="1.2"/><circle cx="936.7" cy="209.8" r="1.2"/><circle cx="938.3" cy="209.8" r="1.2"/><circle cx="938.3" cy="209.7" r="1.2"/><circle cx="936.7" cy="209.7" r="1.2"/><circle cx="939.9" cy="209.7" r="1.2"/><circle cx="941.5" cy="209.6" r="1.2"/><circle cx="939.9" cy="209.6" r="1.2"/><circle cx="935.1" cy="209.5" r="1.2"/><circle cx="941.5" cy="209.5" r="1.2"/><circle cx="933.5" cy="209.4" r="1.2"/><circle cx="937.5" cy="209.3" r="1.2"/><circle cx="939.1" cy="209.2" r="1.2"/><circle cx="935.9" cy="209.1" r="1.2"/><circle cx="934.3" cy="209.1" r="1.2"/><circle cx="940.7" cy="208.9" r="1.2"/><circle cx="938.3" cy="208.8" r="1.2"/><circle cx="936.7" cy="208.6" r="1.2"/><circle cx="939.1" cy="208.3" r="1.2"/><circle cx="935.1" cy="208.3" r="1.2"/><circle cx="941.5" cy="208.3" r="1.2"/><circle cx="937.5" cy="208.2" r="1.2"/><circle cx="935.9" cy="208.0" r="1.2"/><circle cx="938.3" cy="207.4" r="1.2"/><circle cx="936.7" cy="207.3" r="1.2"/><circle cx="939.9" cy="207.2" r="1.2"/><circle cx="935.1" cy="207.0" r="1.2"/><circle cx="937.5" cy="206.0" r="1.2"/><circle cx="937.5" cy="204.7" r="1.2"/><circle cx="939.1" cy="204.6" r="1.2"/></g>
<g fill="#c96352"><circle cx="955.0" cy="211.7" r="1.2"/><circle cx="956.6" cy="211.6" r="1.2"/><circle cx="954.2" cy="211.4" r="1.2"/><circle cx="955.8" cy="211.0" r="1.2"/><circle cx="953.4" cy="211.0" r="1.2"/><circle cx="957.4" cy="210.8" r="1.2"/><circle cx="955.0" cy="210.2" r="1.2"/><circle cx="956.6" cy="210.0" r="1.2"/><circle cx="955.8" cy="209.6" r="1.2"/><circle cx="954.2" cy="209.3" r="1.2"/><circle cx="956.6" cy="209.1" r="1.2"/><circle cx="955.0" cy="208.9" r="1.2"/><circle cx="953.4" cy="208.8" r="1.2"/><circle cx="958.2" cy="208.8" r="1.2"/><circle cx="951.8" cy="208.7" r="1.2"/><circle cx="955.0" cy="208.7" r="1.2"/><circle cx="956.6" cy="208.7" r="1.2"/><circle cx="955.8" cy="208.3" r="1.2"/><circle cx="954.2" cy="207.9" r="1.2"/><circle cx="956.6" cy="207.7" r="1.2"/><circle cx="955.0" cy="207.3" r="1.2"/><circle cx="953.4" cy="207.2" r="1.2"/><circle cx="957.4" cy="207.1" r="1.2"/><circle cx="951.8" cy="207.1" r="1.2"/><circle cx="955.8" cy="206.6" r="1.2"/><circle cx="955.0" cy="205.5" r="1.2"/><circle cx="956.6" cy="205.4" r="1.2"/><circle cx="954.2" cy="205.1" r="1.2"/><circle cx="955.0" cy="204.5" r="1.2"/><circle cx="956.6" cy="204.3" r="1.2"/><circle cx="954.2" cy="204.2" r="1.2"/><circle cx="952.6" cy="204.1" r="1.2"/><circle cx="955.0" cy="203.4" r="1.2"/><circle cx="955.8" cy="202.7" r="1.2"/><circle cx="954.2" cy="202.6" r="1.2"/><circle cx="957.4" cy="202.6" r="1.2"/><circle cx="952.6" cy="202.4" r="1.2"/><circle cx="955.0" cy="201.8" r="1.2"/><circle cx="956.6" cy="201.7" r="1.2"/><circle cx="953.4" cy="201.6" r="1.2"/><circle cx="958.2" cy="201.5" r="1.2"/><circle cx="951.8" cy="201.5" r="1.2"/><circle cx="955.0" cy="201.5" r="1.2"/><circle cx="957.4" cy="201.2" r="1.2"/><circle cx="955.8" cy="201.0" r="1.2"/><circle cx="954.2" cy="200.9" r="1.2"/><circle cx="956.6" cy="200.6" r="1.2"/><circle cx="955.0" cy="200.3" r="1.2"/><circle cx="955.8" cy="200.0" r="1.2"/><circle cx="954.2" cy="199.8" r="1.2"/><circle cx="956.6" cy="199.5" r="1.2"/><circle cx="955.0" cy="197.9" r="1.2"/><circle cx="955.8" cy="197.1" r="1.2"/><circle cx="954.2" cy="197.1" r="1.2"/><circle cx="957.4" cy="197.0" r="1.2"/><circle cx="952.6" cy="196.8" r="1.2"/><circle cx="955.0" cy="196.5" r="1.2"/><circle cx="956.6" cy="196.4" r="1.2"/><circle cx="953.4" cy="196.2" r="1.2"/><circle cx="958.2" cy="196.2" r="1.2"/><circle cx="955.8" cy="196.1" r="1.2"/><circle cx="955.0" cy="195.7" r="1.2"/><circle cx="957.4" cy="195.6" r="1.2"/><circle cx="954.2" cy="195.3" r="1.2"/><circle cx="955.8" cy="195.0" r="1.2"/><circle cx="955.0" cy="193.9" r="1.2"/><circle cx="956.6" cy="193.9" r="1.2"/><circle cx="954.2" cy="193.6" r="1.2"/><circle cx="955.8" cy="193.2" r="1.2"/><circle cx="953.4" cy="193.1" r="1.2"/><circle cx="955.0" cy="192.5" r="1.2"/><circle cx="955.0" cy="190.9" r="1.2"/><circle cx="956.6" cy="190.6" r="1.2"/><circle cx="954.2" cy="190.5" r="1.2"/><circle cx="952.6" cy="190.4" r="1.2"/><circle cx="958.2" cy="190.3" r="1.2"/><circle cx="955.0" cy="189.5" r="1.2"/><circle cx="955.8" cy="189.2" r="1.2"/><circle cx="954.2" cy="188.9" r="1.2"/><circle cx="955.0" cy="188.4" r="1.2"/><circle cx="955.8" cy="188.1" r="1.2"/><circle cx="954.2" cy="187.8" r="1.2"/><circle cx="956.6" cy="187.5" r="1.2"/><circle cx="952.6" cy="187.5" r="1.2"/><circle cx="955.0" cy="187.2" r="1.2"/><circle cx="953.4" cy="187.1" r="1.2"/><circle cx="955.0" cy="186.1" r="1.2"/><circle cx="955.0" cy="184.0" r="1.2"/><circle cx="955.8" cy="183.6" r="1.2"/><circle cx="955.0" cy="182.2" r="1.2"/><circle cx="955.8" cy="181.8" r="1.2"/><circle cx="955.0" cy="180.6" r="1.2"/><circle cx="955.8" cy="180.3" r="1.2"/><circle cx="955.0" cy="179.4" r="1.2"/><circle cx="955.0" cy="178.3" r="1.2"/><circle cx="955.0" cy="177.4" r="1.2"/><circle cx="956.6" cy="177.3" r="1.2"/><circle cx="955.8" cy="176.8" r="1.2"/><circle cx="955.0" cy="175.9" r="1.2"/><circle cx="955.8" cy="175.5" r="1.2"/><circle cx="954.2" cy="175.5" r="1.2"/><circle cx="955.0" cy="173.7" r="1.2"/><circle cx="955.8" cy="173.3" r="1.2"/><circle cx="955.0" cy="172.6" r="1.2"/><circle cx="956.6" cy="172.3" r="1.2"/><circle cx="955.0" cy="169.5" r="1.2"/><circle cx="955.8" cy="169.0" r="1.2"/><circle cx="955.0" cy="168.5" r="1.2"/><circle cx="955.0" cy="167.3" r="1.2"/><circle cx="955.8" cy="166.7" r="1.2"/><circle cx="955.0" cy="165.4" r="1.2"/><circle cx="955.8" cy="165.0" r="1.2"/><circle cx="954.2" cy="164.8" r="1.2"/><circle cx="955.0" cy="164.1" r="1.2"/><circle cx="955.8" cy="163.5" r="1.2"/><circle cx="955.0" cy="161.1" r="1.2"/><circle cx="956.6" cy="160.9" r="1.2"/><circle cx="955.0" cy="158.6" r="1.2"/><circle cx="955.8" cy="158.0" r="1.2"/><circle cx="955.0" cy="156.1" r="1.2"/><circle cx="956.6" cy="156.0" r="1.2"/><circle cx="953.4" cy="155.9" r="1.2"/><circle cx="955.0" cy="154.9" r="1.2"/><circle cx="956.6" cy="154.7" r="1.2"/><circle cx="954.2" cy="154.5" r="1.2"/><circle cx="955.0" cy="154.0" r="1.2"/><circle cx="955.8" cy="153.2" r="1.2"/><circle cx="955.0" cy="152.7" r="1.2"/><circle cx="955.0" cy="148.7" r="1.2"/><circle cx="956.6" cy="148.7" r="1.2"/><circle cx="955.8" cy="148.4" r="1.2"/><circle cx="955.0" cy="147.5" r="1.2"/><circle cx="955.0" cy="145.4" r="1.2"/><circle cx="955.0" cy="144.0" r="1.2"/><circle cx="955.0" cy="143.0" r="1.2"/><circle cx="955.8" cy="142.7" r="1.2"/><circle cx="954.2" cy="142.6" r="1.2"/><circle cx="955.0" cy="141.2" r="1.2"/><circle cx="955.0" cy="129.1" r="1.2"/><circle cx="956.6" cy="128.9" r="1.2"/><circle cx="955.0" cy="109.1" r="1.2"/></g>
<g fill="#5e93cc"><circle cx="972.5" cy="211.8" r="1.2"/><circle cx="974.1" cy="211.8" r="1.2"/><circle cx="970.9" cy="211.7" r="1.2"/><circle cx="975.7" cy="211.7" r="1.2"/><circle cx="969.3" cy="211.7" r="1.2"/><circle cx="977.3" cy="211.7" r="1.2"/><circle cx="967.7" cy="211.6" r="1.2"/><circle cx="978.9" cy="211.6" r="1.2"/><circle cx="966.1" cy="211.6" r="1.2"/><circle cx="972.5" cy="211.5" r="1.2"/><circle cx="974.1" cy="211.5" r="1.2"/><circle cx="970.1" cy="211.4" r="1.2"/><circle cx="976.5" cy="211.4" r="1.2"/><circle cx="971.7" cy="211.4" r="1.2"/><circle cx="974.9" cy="211.3" r="1.2"/><circle cx="968.5" cy="211.3" r="1.2"/><circle cx="978.1" cy="211.3" r="1.2"/><circle cx="973.3" cy="211.2" r="1.2"/><circle cx="966.9" cy="211.1" r="1.2"/><circle cx="973.3" cy="211.1" r="1.2"/><circle cx="971.7" cy="211.0" r="1.2"/><circle cx="974.9" cy="211.0" r="1.2"/><circle cx="970.1" cy="211.0" r="1.2"/><circle cx="976.5" cy="211.0" r="1.2"/><circle cx="968.5" cy="211.0" r="1.2"/><circle cx="978.1" cy="210.9" r="1.2"/><circle cx="966.9" cy="210.9" r="1.2"/><circle cx="972.5" cy="210.8" r="1.2"/><circle cx="974.1" cy="210.8" r="1.2"/><circle cx="970.9" cy="210.8" r="1.2"/><circle cx="975.7" cy="210.8" r="1.2"/><circle cx="969.3" cy="210.8" r="1.2"/><circle cx="978.9" cy="210.7" r="1.2"/><circle cx="970.9" cy="210.7" r="1.2"/><circle cx="972.5" cy="210.7" r="1.2"/><circle cx="977.3" cy="210.6" r="1.2"/><circle cx="974.1" cy="210.6" r="1.2"/><circle cx="967.7" cy="210.6" r="1.2"/><circle cx="966.1" cy="210.6" r="1.2"/><circle cx="975.7" cy="210.5" r="1.2"/><circle cx="969.3" cy="210.5" r="1.2"/><circle cx="977.3" cy="210.5" r="1.2"/><circle cx="967.7" cy="210.5" r="1.2"/><circle cx="978.9" cy="210.4" r="1.2"/><circle cx="966.1" cy="210.4" r="1.2"/><circle cx="972.5" cy="210.4" r="1.2"/><circle cx="971.7" cy="210.3" r="1.2"/><circle cx="973.3" cy="210.3" r="1.2"/><circle cx="974.9" cy="210.3" r="1.2"/><circle cx="974.9" cy="210.1" r="1.2"/><circle cx="970.1" cy="210.1" r="1.2"/><circle cx="976.5" cy="210.1" r="1.2"/><circle cx="968.5" cy="210.1" r="1.2"/><circle cx="978.1" cy="210.1" r="1.2"/><circle cx="973.3" cy="210.1" r="1.2"/><circle cx="971.7" cy="210.1" r="1.2"/><circle cx="966.9" cy="210.0" r="1.2"/><circle cx="970.1" cy="210.0" r="1.2"/><circle cx="976.5" cy="210.0" r="1.2"/><circle cx="968.5" cy="210.0" r="1.2"/><circle cx="978.1" cy="210.0" r="1.2"/><circle cx="966.9" cy="210.0" r="1.2"/><circle cx="973.3" cy="210.0" r="1.2"/><circle cx="971.7" cy="210.0" r="1.2"/><circle cx="974.9" cy="210.0" r="1.2"/><circle cx="970.1" cy="210.0" r="1.2"/><circle cx="976.5" cy="209.9" r="1.2"/><circle cx="968.5" cy="209.9" r="1.2"/><circle cx="978.1" cy="209.9" r="1.2"/><circle cx="966.9" cy="209.9" r="1.2"/><circle cx="973.3" cy="209.8" r="1.2"/><circle cx="970.9" cy="209.7" r="1.2"/><circle cx="975.7" cy="209.6" r="1.2"/><circle cx="969.3" cy="209.5" r="1.2"/><circle cx="972.5" cy="209.5" r="1.2"/><circle cx="974.1" cy="209.5" r="1.2"/><circle cx="977.3" cy="209.4" r="1.2"/><circle cx="971.7" cy="209.1" r="1.2"/><circle cx="974.9" cy="209.0" r="1.2"/><circle cx="973.3" cy="208.9" r="1.2"/><circle cx="970.1" cy="208.9" r="1.2"/><circle cx="976.5" cy="208.9" r="1.2"/><circle cx="968.5" cy="208.9" r="1.2"/><circle cx="978.1" cy="208.8" r="1.2"/><circle cx="966.9" cy="208.7" r="1.2"/><circle cx="972.5" cy="208.7" r="1.2"/><circle cx="974.1" cy="208.6" r="1.2"/><circle cx="970.9" cy="208.6" r="1.2"/><circle cx="975.7" cy="208.6" r="1.2"/><circle cx="971.7" cy="208.1" r="1.2"/><circle cx="973.3" cy="207.9" r="1.2"/><circle cx="974.9" cy="207.9" r="1.2"/><circle cx="970.1" cy="207.9" r="1.2"/><circle cx="976.5" cy="207.8" r="1.2"/><circle cx="972.5" cy="207.4" r="1.2"/><circle cx="974.1" cy="207.2" r="1.2"/><circle cx="970.9" cy="207.1" r="1.2"/><circle cx="975.7" cy="207.1" r="1.2"/><circle cx="969.3" cy="207.0" r="1.2"/><circle cx="973.3" cy="206.8" r="1.2"/><circle cx="971.7" cy="206.8" r="1.2"/><circle cx="974.9" cy="206.7" r="1.2"/><circle cx="970.1" cy="206.7" r="1.2"/><circle cx="976.5" cy="206.5" r="1.2"/><circle cx="972.5" cy="206.0" r="1.2"/><circle cx="974.1" cy="205.9" r="1.2"/><circle cx="970.9" cy="205.9" r="1.2"/><circle cx="975.7" cy="205.7" r="1.2"/><circle cx="973.3" cy="205.5" r="1.2"/><circle cx="972.5" cy="204.9" r="1.2"/><circle cx="973.3" cy="204.4" r="1.2"/><circle cx="971.7" cy="204.2" r="1.2"/><circle cx="972.5" cy="202.8" r="1.2"/><circle cx="973.3" cy="202.5" r="1.2"/><circle cx="971.7" cy="202.1" r="1.2"/><circle cx="972.5" cy="201.8" r="1.2"/><circle cx="973.3" cy="201.0" r="1.2"/><circle cx="972.5" cy="200.2" r="1.2"/><circle cx="974.1" cy="200.0" r="1.2"/><circle cx="970.9" cy="200.0" r="1.2"/><circle cx="972.5" cy="199.1" r="1.2"/><circle cx="972.5" cy="196.1" r="1.2"/></g>
<g fill="#c96352"><circle cx="990.1" cy="211.5" r="1.2"/><circle cx="990.9" cy="211.1" r="1.2"/><circle cx="989.3" cy="211.0" r="1.2"/><circle cx="992.5" cy="211.0" r="1.2"/><circle cx="991.7" cy="210.7" r="1.2"/><circle cx="990.1" cy="210.5" r="1.2"/><circle cx="990.9" cy="210.1" r="1.2"/><circle cx="989.3" cy="210.0" r="1.2"/><circle cx="991.7" cy="209.7" r="1.2"/><circle cx="990.1" cy="209.6" r="1.2"/><circle cx="988.5" cy="209.5" r="1.2"/><circle cx="992.5" cy="209.4" r="1.2"/><circle cx="990.9" cy="209.1" r="1.2"/><circle cx="990.1" cy="208.3" r="1.2"/><circle cx="991.7" cy="208.0" r="1.2"/><circle cx="990.9" cy="207.5" r="1.2"/><circle cx="989.3" cy="207.4" r="1.2"/><circle cx="992.5" cy="207.2" r="1.2"/><circle cx="990.1" cy="206.9" r="1.2"/><circle cx="991.7" cy="206.9" r="1.2"/><circle cx="988.5" cy="206.9" r="1.2"/><circle cx="990.1" cy="205.8" r="1.2"/><circle cx="991.7" cy="205.6" r="1.2"/><circle cx="989.3" cy="205.3" r="1.2"/><circle cx="990.1" cy="204.8" r="1.2"/><circle cx="990.9" cy="204.5" r="1.2"/><circle cx="989.3" cy="204.4" r="1.2"/><circle cx="990.1" cy="204.0" r="1.2"/><circle cx="990.9" cy="203.4" r="1.2"/><circle cx="990.1" cy="202.5" r="1.2"/><circle cx="990.9" cy="202.2" r="1.2"/><circle cx="990.1" cy="200.6" r="1.2"/><circle cx="991.7" cy="200.6" r="1.2"/><circle cx="989.3" cy="200.3" r="1.2"/><circle cx="990.1" cy="198.8" r="1.2"/><circle cx="990.9" cy="198.2" r="1.2"/><circle cx="990.1" cy="197.5" r="1.2"/><circle cx="991.7" cy="197.2" r="1.2"/><circle cx="990.1" cy="196.5" r="1.2"/><circle cx="990.9" cy="195.7" r="1.2"/><circle cx="990.1" cy="192.6" r="1.2"/><circle cx="990.9" cy="192.2" r="1.2"/><circle cx="990.1" cy="191.5" r="1.2"/><circle cx="990.9" cy="191.0" r="1.2"/><circle cx="990.1" cy="188.3" r="1.2"/><circle cx="991.7" cy="188.1" r="1.2"/><circle cx="990.1" cy="187.4" r="1.2"/><circle cx="988.5" cy="187.4" r="1.2"/><circle cx="991.7" cy="187.2" r="1.2"/><circle cx="990.1" cy="186.0" r="1.2"/><circle cx="991.7" cy="185.9" r="1.2"/><circle cx="988.5" cy="185.7" r="1.2"/><circle cx="990.9" cy="185.3" r="1.2"/><circle cx="990.1" cy="184.9" r="1.2"/><circle cx="991.7" cy="184.9" r="1.2"/><circle cx="988.5" cy="184.8" r="1.2"/><circle cx="993.3" cy="184.8" r="1.2"/><circle cx="989.3" cy="184.4" r="1.2"/><circle cx="990.9" cy="184.1" r="1.2"/><circle cx="992.5" cy="184.0" r="1.2"/><circle cx="988.5" cy="183.9" r="1.2"/><circle cx="990.1" cy="183.8" r="1.2"/><circle cx="991.7" cy="183.6" r="1.2"/><circle cx="987.7" cy="183.5" r="1.2"/><circle cx="989.3" cy="183.3" r="1.2"/><circle cx="990.9" cy="183.0" r="1.2"/><circle cx="990.1" cy="182.7" r="1.2"/><circle cx="990.1" cy="181.8" r="1.2"/><circle cx="991.7" cy="181.6" r="1.2"/><circle cx="989.3" cy="181.4" r="1.2"/><circle cx="990.9" cy="181.3" r="1.2"/><circle cx="988.5" cy="181.0" r="1.2"/><circle cx="990.1" cy="180.4" r="1.2"/><circle cx="991.7" cy="180.2" r="1.2"/><circle cx="987.7" cy="180.2" r="1.2"/><circle cx="990.1" cy="179.6" r="1.2"/><circle cx="990.9" cy="178.8" r="1.2"/><circle cx="989.3" cy="178.6" r="1.2"/><circle cx="991.7" cy="178.5" r="1.2"/><circle cx="987.7" cy="178.4" r="1.2"/><circle cx="990.1" cy="176.8" r="1.2"/><circle cx="991.7" cy="176.8" r="1.2"/><circle cx="990.1" cy="175.3" r="1.2"/><circle cx="990.9" cy="174.9" r="1.2"/><circle cx="989.3" cy="174.7" r="1.2"/><circle cx="990.1" cy="173.6" r="1.2"/><circle cx="991.7" cy="173.4" r="1.2"/><circle cx="990.1" cy="172.2" r="1.2"/><circle cx="990.1" cy="171.1" r="1.2"/><circle cx="990.1" cy="169.9" r="1.2"/><circle cx="990.1" cy="167.8" r="1.2"/><circle cx="990.9" cy="167.4" r="1.2"/><circle cx="990.1" cy="165.5" r="1.2"/><circle cx="990.1" cy="164.3" r="1.2"/><circle cx="990.9" cy="163.6" r="1.2"/><circle cx="989.3" cy="163.4" r="1.2"/><circle cx="990.1" cy="163.0" r="1.2"/><circle cx="990.1" cy="161.9" r="1.2"/><circle cx="991.7" cy="161.7" r="1.2"/><circle cx="990.9" cy="161.1" r="1.2"/><circle cx="990.1" cy="157.5" r="1.2"/><circle cx="991.7" cy="157.3" r="1.2"/><circle cx="990.1" cy="156.5" r="1.2"/><circle cx="990.9" cy="156.1" r="1.2"/><circle cx="989.3" cy="155.6" r="1.2"/><circle cx="991.7" cy="155.4" r="1.2"/><circle cx="990.1" cy="155.1" r="1.2"/><circle cx="990.1" cy="154.0" r="1.2"/><circle cx="991.7" cy="153.8" r="1.2"/><circle cx="989.3" cy="153.7" r="1.2"/><circle cx="990.9" cy="153.2" r="1.2"/><circle cx="988.5" cy="153.2" r="1.2"/><circle cx="990.1" cy="149.9" r="1.2"/><circle cx="990.1" cy="148.8" r="1.2"/><circle cx="990.1" cy="147.7" r="1.2"/><circle cx="990.1" cy="146.0" r="1.2"/><circle cx="990.9" cy="145.2" r="1.2"/><circle cx="990.1" cy="143.8" r="1.2"/><circle cx="990.1" cy="140.6" r="1.2"/><circle cx="990.1" cy="138.2" r="1.2"/><circle cx="990.1" cy="136.6" r="1.2"/><circle cx="990.1" cy="134.3" r="1.2"/><circle cx="990.1" cy="132.7" r="1.2"/><circle cx="991.7" cy="132.6" r="1.2"/><circle cx="990.1" cy="129.9" r="1.2"/><circle cx="990.9" cy="129.4" r="1.2"/><circle cx="990.1" cy="129.0" r="1.2"/><circle cx="991.7" cy="128.8" r="1.2"/><circle cx="990.1" cy="126.1" r="1.2"/><circle cx="990.9" cy="125.8" r="1.2"/><circle cx="990.1" cy="125.0" r="1.2"/><circle cx="991.7" cy="124.8" r="1.2"/><circle cx="988.5" cy="124.8" r="1.2"/><circle cx="990.9" cy="124.4" r="1.2"/><circle cx="990.1" cy="122.0" r="1.2"/><circle cx="990.9" cy="121.5" r="1.2"/><circle cx="990.1" cy="121.1" r="1.2"/><circle cx="990.1" cy="117.3" r="1.2"/><circle cx="990.1" cy="112.3" r="1.2"/><circle cx="990.9" cy="111.5" r="1.2"/><circle cx="990.1" cy="106.4" r="1.2"/><circle cx="990.9" cy="105.8" r="1.2"/><circle cx="990.1" cy="105.5" r="1.2"/><circle cx="990.1" cy="91.0" r="1.2"/></g>
<g fill="#5e93cc"><circle cx="1007.6" cy="211.8" r="1.2"/><circle cx="1009.2" cy="211.7" r="1.2"/><circle cx="1006.0" cy="211.7" r="1.2"/><circle cx="1010.8" cy="211.6" r="1.2"/><circle cx="1004.4" cy="211.5" r="1.2"/><circle cx="1012.4" cy="211.5" r="1.2"/><circle cx="1002.8" cy="211.4" r="1.2"/><circle cx="1014.0" cy="211.4" r="1.2"/><circle cx="1008.4" cy="211.4" r="1.2"/><circle cx="1006.8" cy="211.3" r="1.2"/><circle cx="1010.0" cy="211.2" r="1.2"/><circle cx="1005.2" cy="211.2" r="1.2"/><circle cx="1011.6" cy="211.2" r="1.2"/><circle cx="1003.6" cy="211.1" r="1.2"/><circle cx="1013.2" cy="211.1" r="1.2"/><circle cx="1002.0" cy="211.0" r="1.2"/><circle cx="1014.8" cy="211.0" r="1.2"/><circle cx="1007.6" cy="210.9" r="1.2"/><circle cx="1009.2" cy="210.8" r="1.2"/><circle cx="1006.0" cy="210.8" r="1.2"/><circle cx="1010.8" cy="210.8" r="1.2"/><circle cx="1001.2" cy="210.7" r="1.2"/><circle cx="1004.4" cy="210.6" r="1.2"/><circle cx="1012.4" cy="210.6" r="1.2"/><circle cx="1007.6" cy="210.6" r="1.2"/><circle cx="1002.8" cy="210.5" r="1.2"/><circle cx="1014.0" cy="210.5" r="1.2"/><circle cx="1008.4" cy="210.4" r="1.2"/><circle cx="1000.4" cy="210.4" r="1.2"/><circle cx="1010.0" cy="210.4" r="1.2"/><circle cx="1006.8" cy="210.4" r="1.2"/><circle cx="1010.0" cy="210.3" r="1.2"/><circle cx="1005.2" cy="210.2" r="1.2"/><circle cx="1011.6" cy="210.2" r="1.2"/><circle cx="1003.6" cy="210.2" r="1.2"/><circle cx="1013.2" cy="210.1" r="1.2"/><circle cx="1009.2" cy="209.9" r="1.2"/><circle cx="1006.0" cy="209.9" r="1.2"/><circle cx="1010.8" cy="209.8" r="1.2"/><circle cx="1007.6" cy="209.7" r="1.2"/><circle cx="1008.4" cy="209.4" r="1.2"/><circle cx="1006.8" cy="209.4" r="1.2"/><circle cx="1010.0" cy="209.3" r="1.2"/><circle cx="1005.2" cy="209.3" r="1.2"/><circle cx="1011.6" cy="209.1" r="1.2"/><circle cx="1009.2" cy="209.0" r="1.2"/><circle cx="1006.0" cy="208.9" r="1.2"/><circle cx="1007.6" cy="208.9" r="1.2"/><circle cx="1004.4" cy="208.8" r="1.2"/><circle cx="1010.8" cy="208.7" r="1.2"/><circle cx="1012.4" cy="208.6" r="1.2"/><circle cx="1008.4" cy="208.5" r="1.2"/><circle cx="1006.8" cy="208.5" r="1.2"/><circle cx="1003.6" cy="208.5" r="1.2"/><circle cx="1002.0" cy="208.5" r="1.2"/><circle cx="1005.2" cy="208.4" r="1.2"/><circle cx="1010.0" cy="208.2" r="1.2"/><circle cx="1007.6" cy="208.0" r="1.2"/><circle cx="1006.0" cy="207.9" r="1.2"/><circle cx="1009.2" cy="207.8" r="1.2"/><circle cx="1006.8" cy="207.6" r="1.2"/><circle cx="1008.4" cy="207.5" r="1.2"/><circle cx="1005.2" cy="207.5" r="1.2"/><circle cx="1010.8" cy="207.4" r="1.2"/><circle cx="1003.6" cy="207.4" r="1.2"/><circle cx="1012.4" cy="207.2" r="1.2"/><circle cx="1007.6" cy="207.0" r="1.2"/><circle cx="1009.2" cy="206.8" r="1.2"/><circle cx="1006.8" cy="206.7" r="1.2"/><circle cx="1005.2" cy="206.6" r="1.2"/><circle cx="1011.6" cy="206.6" r="1.2"/><circle cx="1003.6" cy="206.5" r="1.2"/><circle cx="1008.4" cy="206.4" r="1.2"/><circle cx="1007.6" cy="206.1" r="1.2"/><circle cx="1006.0" cy="206.0" r="1.2"/><circle cx="1009.2" cy="205.9" r="1.2"/><circle cx="1010.8" cy="205.9" r="1.2"/><circle cx="1006.8" cy="205.6" r="1.2"/><circle cx="1008.4" cy="205.4" r="1.2"/><circle cx="1007.6" cy="205.1" r="1.2"/><circle cx="1009.2" cy="204.9" r="1.2"/><circle cx="1006.0" cy="204.9" r="1.2"/><circle cx="1008.4" cy="204.4" r="1.2"/><circle cx="1006.8" cy="204.4" r="1.2"/><circle cx="1010.0" cy="204.3" r="1.2"/><circle cx="1005.2" cy="204.3" r="1.2"/><circle cx="1011.6" cy="204.2" r="1.2"/><circle cx="1003.6" cy="204.1" r="1.2"/><circle cx="1013.2" cy="204.1" r="1.2"/><circle cx="1007.6" cy="203.4" r="1.2"/><circle cx="1008.4" cy="202.7" r="1.2"/><circle cx="1007.6" cy="202.0" r="1.2"/><circle cx="1009.2" cy="201.7" r="1.2"/><circle cx="1007.6" cy="201.1" r="1.2"/><circle cx="1008.4" cy="200.8" r="1.2"/><circle cx="1006.8" cy="200.4" r="1.2"/><circle cx="1007.6" cy="198.7" r="1.2"/><circle cx="1008.4" cy="198.1" r="1.2"/><circle cx="1007.6" cy="196.8" r="1.2"/><circle cx="1007.6" cy="193.8" r="1.2"/><circle cx="1007.6" cy="192.5" r="1.2"/></g>
<g fill="#c96352"><circle cx="1024.8" cy="211.2" r="1.2"/><circle cx="1026.4" cy="211.1" r="1.2"/><circle cx="1023.2" cy="211.1" r="1.2"/><circle cx="1025.6" cy="210.7" r="1.2"/><circle cx="1024.0" cy="210.6" r="1.2"/><circle cx="1024.8" cy="210.3" r="1.2"/><circle cx="1026.4" cy="210.0" r="1.2"/><circle cx="1023.2" cy="209.9" r="1.2"/><circle cx="1024.8" cy="209.4" r="1.2"/><circle cx="1025.6" cy="209.1" r="1.2"/><circle cx="1024.8" cy="208.5" r="1.2"/><circle cx="1024.0" cy="208.2" r="1.2"/><circle cx="1024.8" cy="207.5" r="1.2"/><circle cx="1024.8" cy="206.2" r="1.2"/><circle cx="1025.6" cy="205.5" r="1.2"/><circle cx="1024.0" cy="205.4" r="1.2"/><circle cx="1027.2" cy="205.4" r="1.2"/><circle cx="1024.8" cy="204.6" r="1.2"/><circle cx="1025.6" cy="204.0" r="1.2"/><circle cx="1024.8" cy="203.3" r="1.2"/><circle cx="1025.6" cy="203.0" r="1.2"/><circle cx="1024.0" cy="202.8" r="1.2"/><circle cx="1027.2" cy="202.7" r="1.2"/><circle cx="1024.8" cy="202.3" r="1.2"/><circle cx="1026.4" cy="202.2" r="1.2"/><circle cx="1023.2" cy="202.2" r="1.2"/><circle cx="1028.0" cy="201.9" r="1.2"/><circle cx="1025.6" cy="201.8" r="1.2"/><circle cx="1024.8" cy="201.0" r="1.2"/><circle cx="1025.6" cy="200.3" r="1.2"/><circle cx="1024.8" cy="199.6" r="1.2"/><circle cx="1024.8" cy="197.4" r="1.2"/><circle cx="1024.8" cy="196.3" r="1.2"/><circle cx="1026.4" cy="196.3" r="1.2"/><circle cx="1024.8" cy="195.1" r="1.2"/><circle cx="1026.4" cy="194.9" r="1.2"/><circle cx="1024.0" cy="194.7" r="1.2"/><circle cx="1022.4" cy="194.6" r="1.2"/><circle cx="1024.8" cy="193.3" r="1.2"/><circle cx="1024.8" cy="191.7" r="1.2"/><circle cx="1025.6" cy="191.3" r="1.2"/><circle cx="1024.8" cy="189.9" r="1.2"/><circle cx="1026.4" cy="189.9" r="1.2"/><circle cx="1023.2" cy="189.8" r="1.2"/><circle cx="1025.6" cy="189.4" r="1.2"/><circle cx="1024.8" cy="188.9" r="1.2"/><circle cx="1025.6" cy="188.1" r="1.2"/><circle cx="1024.8" cy="187.4" r="1.2"/><circle cx="1026.4" cy="187.3" r="1.2"/><circle cx="1023.2" cy="187.3" r="1.2"/><circle cx="1028.0" cy="187.2" r="1.2"/><circle cx="1021.6" cy="187.2" r="1.2"/><circle cx="1025.6" cy="186.9" r="1.2"/><circle cx="1024.0" cy="186.8" r="1.2"/><circle cx="1027.2" cy="186.7" r="1.2"/><circle cx="1024.8" cy="186.4" r="1.2"/><circle cx="1026.4" cy="186.2" r="1.2"/><circle cx="1025.6" cy="185.9" r="1.2"/><circle cx="1024.0" cy="185.8" r="1.2"/><circle cx="1024.8" cy="184.8" r="1.2"/><circle cx="1025.6" cy="184.5" r="1.2"/><circle cx="1024.8" cy="181.4" r="1.2"/><circle cx="1024.8" cy="178.7" r="1.2"/><circle cx="1026.4" cy="178.5" r="1.2"/><circle cx="1025.6" cy="177.9" r="1.2"/><circle cx="1024.8" cy="176.8" r="1.2"/><circle cx="1026.4" cy="176.7" r="1.2"/><circle cx="1024.8" cy="175.1" r="1.2"/><circle cx="1025.6" cy="174.8" r="1.2"/><circle cx="1024.0" cy="174.3" r="1.2"/><circle cx="1024.8" cy="173.9" r="1.2"/><circle cx="1024.8" cy="171.0" r="1.2"/><circle cx="1026.4" cy="170.9" r="1.2"/><circle cx="1023.2" cy="170.8" r="1.2"/><circle cx="1024.8" cy="170.0" r="1.2"/><circle cx="1024.8" cy="169.0" r="1.2"/><circle cx="1026.4" cy="168.9" r="1.2"/><circle cx="1024.8" cy="168.0" r="1.2"/><circle cx="1025.6" cy="167.6" r="1.2"/><circle cx="1024.8" cy="166.7" r="1.2"/><circle cx="1026.4" cy="166.6" r="1.2"/><circle cx="1023.2" cy="166.6" r="1.2"/><circle cx="1024.8" cy="165.7" r="1.2"/><circle cx="1024.8" cy="164.4" r="1.2"/><circle cx="1024.8" cy="163.3" r="1.2"/><circle cx="1024.8" cy="160.7" r="1.2"/><circle cx="1025.6" cy="160.3" r="1.2"/><circle cx="1024.8" cy="158.7" r="1.2"/><circle cx="1026.4" cy="158.4" r="1.2"/><circle cx="1024.8" cy="157.6" r="1.2"/><circle cx="1024.8" cy="155.2" r="1.2"/><circle cx="1024.8" cy="154.2" r="1.2"/><circle cx="1024.8" cy="152.8" r="1.2"/><circle cx="1024.8" cy="151.6" r="1.2"/><circle cx="1024.8" cy="146.9" r="1.2"/><circle cx="1024.8" cy="145.1" r="1.2"/><circle cx="1025.6" cy="144.6" r="1.2"/><circle cx="1024.8" cy="140.2" r="1.2"/><circle cx="1026.4" cy="140.1" r="1.2"/><circle cx="1024.8" cy="138.0" r="1.2"/><circle cx="1024.8" cy="134.0" r="1.2"/><circle cx="1026.4" cy="134.0" r="1.2"/><circle cx="1024.8" cy="131.4" r="1.2"/><circle cx="1025.6" cy="130.9" r="1.2"/><circle cx="1024.8" cy="127.5" r="1.2"/><circle cx="1025.6" cy="127.1" r="1.2"/><circle cx="1024.8" cy="123.6" r="1.2"/><circle cx="1024.8" cy="119.2" r="1.2"/><circle cx="1024.8" cy="116.9" r="1.2"/><circle cx="1025.6" cy="116.1" r="1.2"/><circle cx="1024.8" cy="113.2" r="1.2"/><circle cx="1024.8" cy="112.0" r="1.2"/><circle cx="1025.6" cy="111.3" r="1.2"/><circle cx="1024.8" cy="98.2" r="1.2"/><circle cx="1024.8" cy="91.0" r="1.2"/><circle cx="1026.4" cy="91.0" r="1.2"/><circle cx="1023.2" cy="91.0" r="1.2"/><circle cx="1028.0" cy="91.0" r="1.2"/><circle cx="1021.6" cy="91.0" r="1.2"/><circle cx="1024.8" cy="91.0" r="1.2"/><circle cx="1026.4" cy="91.0" r="1.2"/><circle cx="1023.2" cy="91.0" r="1.2"/><circle cx="1028.0" cy="91.0" r="1.2"/><circle cx="1021.6" cy="91.0" r="1.2"/><circle cx="1024.8" cy="91.0" r="1.2"/><circle cx="1026.4" cy="91.0" r="1.2"/></g>
<g fill="#5e93cc"><circle cx="1042.3" cy="211.8" r="1.2"/><circle cx="1043.9" cy="211.7" r="1.2"/><circle cx="1040.7" cy="211.7" r="1.2"/><circle cx="1045.5" cy="211.7" r="1.2"/><circle cx="1039.1" cy="211.7" r="1.2"/><circle cx="1047.1" cy="211.7" r="1.2"/><circle cx="1037.5" cy="211.7" r="1.2"/><circle cx="1048.7" cy="211.6" r="1.2"/><circle cx="1043.1" cy="211.4" r="1.2"/><circle cx="1041.5" cy="211.4" r="1.2"/><circle cx="1044.7" cy="211.3" r="1.2"/><circle cx="1039.9" cy="211.3" r="1.2"/><circle cx="1046.3" cy="211.2" r="1.2"/><circle cx="1038.3" cy="211.2" r="1.2"/><circle cx="1047.9" cy="211.1" r="1.2"/><circle cx="1036.7" cy="211.1" r="1.2"/><circle cx="1042.3" cy="210.9" r="1.2"/><circle cx="1043.9" cy="210.7" r="1.2"/><circle cx="1040.7" cy="210.7" r="1.2"/><circle cx="1045.5" cy="210.7" r="1.2"/><circle cx="1039.1" cy="210.6" r="1.2"/><circle cx="1047.1" cy="210.6" r="1.2"/><circle cx="1043.1" cy="210.3" r="1.2"/><circle cx="1041.5" cy="210.2" r="1.2"/><circle cx="1044.7" cy="210.2" r="1.2"/><circle cx="1039.9" cy="210.1" r="1.2"/><circle cx="1046.3" cy="210.1" r="1.2"/><circle cx="1038.3" cy="210.0" r="1.2"/><circle cx="1047.9" cy="210.0" r="1.2"/><circle cx="1042.3" cy="209.8" r="1.2"/><circle cx="1043.9" cy="209.6" r="1.2"/><circle cx="1040.7" cy="209.6" r="1.2"/><circle cx="1045.5" cy="209.5" r="1.2"/><circle cx="1039.1" cy="209.4" r="1.2"/><circle cx="1043.1" cy="209.3" r="1.2"/><circle cx="1041.5" cy="209.2" r="1.2"/><circle cx="1044.7" cy="209.2" r="1.2"/><circle cx="1039.9" cy="209.0" r="1.2"/><circle cx="1046.3" cy="209.0" r="1.2"/><circle cx="1042.3" cy="208.8" r="1.2"/><circle cx="1043.9" cy="208.7" r="1.2"/><circle cx="1040.7" cy="208.6" r="1.2"/><circle cx="1045.5" cy="208.4" r="1.2"/><circle cx="1043.1" cy="208.4" r="1.2"/><circle cx="1041.5" cy="208.2" r="1.2"/><circle cx="1044.7" cy="208.1" r="1.2"/><circle cx="1039.9" cy="208.1" r="1.2"/><circle cx="1042.3" cy="207.9" r="1.2"/><circle cx="1043.9" cy="207.7" r="1.2"/><circle cx="1040.7" cy="207.7" r="1.2"/><circle cx="1039.1" cy="207.6" r="1.2"/><circle cx="1045.5" cy="207.6" r="1.2"/><circle cx="1043.1" cy="207.4" r="1.2"/><circle cx="1047.1" cy="207.4" r="1.2"/><circle cx="1037.5" cy="207.4" r="1.2"/><circle cx="1041.5" cy="207.3" r="1.2"/><circle cx="1048.7" cy="207.3" r="1.2"/><circle cx="1044.7" cy="207.2" r="1.2"/><circle cx="1039.9" cy="207.0" r="1.2"/><circle cx="1046.3" cy="207.0" r="1.2"/><circle cx="1042.3" cy="207.0" r="1.2"/><circle cx="1043.9" cy="206.9" r="1.2"/><circle cx="1038.3" cy="206.8" r="1.2"/><circle cx="1040.7" cy="206.7" r="1.2"/><circle cx="1045.5" cy="206.6" r="1.2"/><circle cx="1043.1" cy="206.4" r="1.2"/><circle cx="1039.1" cy="206.4" r="1.2"/><circle cx="1041.5" cy="206.3" r="1.2"/><circle cx="1044.7" cy="206.1" r="1.2"/><circle cx="1042.3" cy="206.0" r="1.2"/><circle cx="1043.9" cy="205.8" r="1.2"/><circle cx="1040.7" cy="205.7" r="1.2"/><circle cx="1045.5" cy="205.6" r="1.2"/><circle cx="1038.3" cy="205.6" r="1.2"/><circle cx="1047.1" cy="205.6" r="1.2"/><circle cx="1043.1" cy="205.3" r="1.2"/><circle cx="1041.5" cy="205.3" r="1.2"/><circle cx="1044.7" cy="205.2" r="1.2"/><circle cx="1039.9" cy="205.1" r="1.2"/><circle cx="1046.3" cy="205.1" r="1.2"/><circle cx="1042.3" cy="204.8" r="1.2"/><circle cx="1043.9" cy="204.8" r="1.2"/><circle cx="1040.7" cy="204.7" r="1.2"/><circle cx="1045.5" cy="204.5" r="1.2"/><circle cx="1039.1" cy="204.4" r="1.2"/><circle cx="1043.1" cy="204.4" r="1.2"/><circle cx="1041.5" cy="204.4" r="1.2"/><circle cx="1047.1" cy="204.3" r="1.2"/><circle cx="1037.5" cy="204.3" r="1.2"/><circle cx="1048.7" cy="204.2" r="1.2"/><circle cx="1042.3" cy="203.9" r="1.2"/><circle cx="1043.9" cy="203.8" r="1.2"/><circle cx="1041.5" cy="203.5" r="1.2"/><circle cx="1043.1" cy="203.3" r="1.2"/><circle cx="1044.7" cy="203.3" r="1.2"/><circle cx="1040.7" cy="203.1" r="1.2"/><circle cx="1042.3" cy="202.9" r="1.2"/><circle cx="1043.9" cy="202.8" r="1.2"/><circle cx="1041.5" cy="202.6" r="1.2"/><circle cx="1039.9" cy="202.5" r="1.2"/><circle cx="1043.1" cy="202.3" r="1.2"/><circle cx="1040.7" cy="202.2" r="1.2"/><circle cx="1044.7" cy="202.2" r="1.2"/><circle cx="1039.1" cy="202.1" r="1.2"/><circle cx="1042.3" cy="201.9" r="1.2"/><circle cx="1043.9" cy="201.8" r="1.2"/><circle cx="1045.5" cy="201.7" r="1.2"/><circle cx="1041.5" cy="201.6" r="1.2"/><circle cx="1039.9" cy="201.6" r="1.2"/><circle cx="1038.3" cy="201.6" r="1.2"/><circle cx="1043.1" cy="201.3" r="1.2"/><circle cx="1040.7" cy="201.2" r="1.2"/><circle cx="1044.7" cy="201.1" r="1.2"/><circle cx="1042.3" cy="200.9" r="1.2"/><circle cx="1043.9" cy="200.7" r="1.2"/><circle cx="1039.9" cy="200.7" r="1.2"/><circle cx="1045.5" cy="200.7" r="1.2"/><circle cx="1041.5" cy="200.6" r="1.2"/><circle cx="1038.3" cy="200.4" r="1.2"/><circle cx="1047.1" cy="200.4" r="1.2"/><circle cx="1043.1" cy="200.3" r="1.2"/><circle cx="1040.7" cy="200.1" r="1.2"/><circle cx="1042.3" cy="200.0" r="1.2"/><circle cx="1043.9" cy="199.8" r="1.2"/><circle cx="1041.5" cy="199.7" r="1.2"/><circle cx="1043.1" cy="199.2" r="1.2"/><circle cx="1040.7" cy="199.1" r="1.2"/><circle cx="1042.3" cy="198.8" r="1.2"/><circle cx="1043.1" cy="198.0" r="1.2"/><circle cx="1041.5" cy="197.9" r="1.2"/><circle cx="1042.3" cy="196.7" r="1.2"/><circle cx="1043.1" cy="195.9" r="1.2"/><circle cx="1041.5" cy="195.8" r="1.2"/><circle cx="1042.3" cy="195.3" r="1.2"/><circle cx="1043.9" cy="195.2" r="1.2"/><circle cx="1042.3" cy="194.4" r="1.2"/><circle cx="1043.9" cy="194.3" r="1.2"/><circle cx="1043.1" cy="193.8" r="1.2"/><circle cx="1042.3" cy="193.3" r="1.2"/><circle cx="1043.9" cy="193.1" r="1.2"/><circle cx="1040.7" cy="193.0" r="1.2"/><circle cx="1042.3" cy="191.9" r="1.2"/><circle cx="1043.9" cy="191.7" r="1.2"/><circle cx="1042.3" cy="191.0" r="1.2"/><circle cx="1042.3" cy="189.8" r="1.2"/><circle cx="1043.1" cy="189.5" r="1.2"/><circle cx="1041.5" cy="189.0" r="1.2"/><circle cx="1043.9" cy="188.8" r="1.2"/><circle cx="1042.3" cy="187.7" r="1.2"/><circle cx="1042.3" cy="186.4" r="1.2"/></g>
<line x1="879.00" y1="205.76" x2="890.40" y2="205.76" stroke="#231f20" stroke-width="2.0" />
<line x1="881.20" y1="204.56" x2="888.20" y2="204.56" stroke="#231f20" stroke-width="1.3" />
<line x1="881.20" y1="206.96" x2="888.20" y2="206.96" stroke="#231f20" stroke-width="1.3" />
<line x1="884.70" y1="204.56" x2="884.70" y2="206.96" stroke="#231f20" stroke-width="1.5" />
<line x1="897.80" y1="210.59" x2="907.80" y2="210.59" stroke="#231f20" stroke-width="2.0" />
<line x1="914.20" y1="199.72" x2="925.60" y2="199.72" stroke="#231f20" stroke-width="2.0" />
<line x1="916.40" y1="198.92" x2="923.40" y2="198.92" stroke="#231f20" stroke-width="1.3" />
<line x1="916.40" y1="200.52" x2="923.40" y2="200.52" stroke="#231f20" stroke-width="1.3" />
<line x1="919.90" y1="198.92" x2="919.90" y2="200.52" stroke="#231f20" stroke-width="1.5" />
<line x1="932.50" y1="209.99" x2="942.50" y2="209.99" stroke="#231f20" stroke-width="2.0" />
<line x1="949.00" y1="190.06" x2="961.00" y2="190.06" stroke="#231f20" stroke-width="2.0" />
<line x1="951.50" y1="188.26" x2="958.50" y2="188.26" stroke="#231f20" stroke-width="1.3" />
<line x1="951.50" y1="191.86" x2="958.50" y2="191.86" stroke="#231f20" stroke-width="1.3" />
<line x1="955.00" y1="188.26" x2="955.00" y2="191.86" stroke="#231f20" stroke-width="1.5" />
<line x1="967.00" y1="208.78" x2="978.00" y2="208.78" stroke="#231f20" stroke-width="2.0" />
<line x1="984.30" y1="179.18" x2="995.90" y2="179.18" stroke="#231f20" stroke-width="2.0" />
<line x1="986.60" y1="176.68" x2="993.60" y2="176.68" stroke="#231f20" stroke-width="1.3" />
<line x1="986.60" y1="181.68" x2="993.60" y2="181.68" stroke="#231f20" stroke-width="1.3" />
<line x1="990.10" y1="176.68" x2="990.10" y2="181.68" stroke="#231f20" stroke-width="1.5" />
<line x1="1002.10" y1="206.97" x2="1013.10" y2="206.97" stroke="#231f20" stroke-width="2.0" />
<line x1="1019.00" y1="165.90" x2="1030.60" y2="165.90" stroke="#231f20" stroke-width="2.0" />
<line x1="1021.30" y1="162.70" x2="1028.30" y2="162.70" stroke="#231f20" stroke-width="1.3" />
<line x1="1021.30" y1="169.10" x2="1028.30" y2="169.10" stroke="#231f20" stroke-width="1.3" />
<line x1="1024.80" y1="162.70" x2="1024.80" y2="169.10" stroke="#231f20" stroke-width="1.5" />
<line x1="1036.50" y1="204.55" x2="1048.10" y2="204.55" stroke="#231f20" stroke-width="2.0" />
<text x="876.80" y="166.60" font-size="6.5" text-anchor="start" fill="#231f20" ><tspan font-style="italic">P</tspan> = 5.2 × 10<tspan dy="-2" font-size="4.7">−11</tspan></text>
<line x1="884.70" y1="168.90" x2="903.10" y2="168.90" stroke="#231f20" stroke-width="1.6" />
<text x="876.80" y="177.20" font-size="6.5" text-anchor="start" fill="#231f20" ><tspan font-style="italic">n</tspan> = 92</text>
<text x="895.50" y="204.50" font-size="6.5" text-anchor="start" fill="#231f20" ><tspan font-style="italic">n</tspan> = 99</text>
<text x="913.00" y="145.20" font-size="6.5" text-anchor="start" fill="#231f20" ><tspan font-style="italic">P</tspan> = 2.9 × 10<tspan dy="-2" font-size="4.7">−16</tspan></text>
<line x1="920.90" y1="148.20" x2="938.30" y2="148.20" stroke="#231f20" stroke-width="1.6" />
<text x="913.00" y="155.50" font-size="6.5" text-anchor="start" fill="#231f20" ><tspan font-style="italic">n</tspan> = 125</text>
<text x="927.00" y="203.00" font-size="6.5" text-anchor="start" fill="#231f20" ><tspan font-style="italic">n</tspan> = 116</text>
<text x="950.50" y="92.60" font-size="6.5" text-anchor="start" fill="#231f20" ><tspan font-style="italic">P</tspan> = 5.8 × 10<tspan dy="-2" font-size="4.7">−17</tspan></text>
<line x1="955.30" y1="96.90" x2="972.80" y2="96.90" stroke="#231f20" stroke-width="1.6" />
<text x="950.50" y="103.40" font-size="6.5" text-anchor="start" fill="#231f20" ><tspan font-style="italic">n</tspan> = 141</text>
<text x="963.20" y="195.20" font-size="6.5" text-anchor="start" fill="#231f20" ><tspan font-style="italic">n</tspan> = 122</text>
<text x="977.80" y="68.50" font-size="6.5" text-anchor="start" fill="#231f20" ><tspan font-style="italic">P</tspan> = 1.8 × 10<tspan dy="-2" font-size="4.7">−15</tspan></text>
<line x1="990.50" y1="73.50" x2="1007.50" y2="73.50" stroke="#231f20" stroke-width="1.6" />
<text x="982.00" y="83.20" font-size="6.5" text-anchor="start" fill="#231f20" ><tspan font-style="italic">n</tspan> = 144</text>
<text x="996.20" y="189.60" font-size="6.5" text-anchor="start" fill="#231f20" ><tspan font-style="italic">n</tspan> = 101</text>
<text x="1024.40" y="68.50" font-size="6.5" text-anchor="start" fill="#231f20" ><tspan font-style="italic">P</tspan> = 2.0 × 10<tspan dy="-2" font-size="4.7">−27</tspan></text>
<line x1="1027.20" y1="72.80" x2="1044.70" y2="72.80" stroke="#231f20" stroke-width="1.6" />
<text x="1014.50" y="83.60" font-size="6.5" text-anchor="start" fill="#231f20" ><tspan font-style="italic">n</tspan> = 126</text>
<text x="1033.40" y="184.40" font-size="6.5" text-anchor="start" fill="#231f20" ><tspan font-style="italic">n</tspan> = 150</text>
<text x="824.80" y="146.60" font-size="13.6" text-anchor="middle" fill="#231f20" transform="rotate(-90 824.8 146.6)" >Ion abundance (%)</text>
<text x="893.20" y="228.40" font-size="13.6" text-anchor="end" fill="#231f20" transform="rotate(-45 893.2 228.4)" >HCD 24</text>
<text x="923.00" y="228.40" font-size="13.6" text-anchor="end" fill="#231f20" transform="rotate(-45 923.0 228.4)" >HCD 28</text>
<text x="951.70" y="228.40" font-size="13.6" text-anchor="end" fill="#231f20" transform="rotate(-45 951.7 228.4)" >HCD 32</text>
<text x="983.20" y="228.40" font-size="13.6" text-anchor="end" fill="#231f20" transform="rotate(-45 983.2 228.4)" >HCD 36</text>
<text x="1011.40" y="228.40" font-size="13.6" text-anchor="end" fill="#231f20" transform="rotate(-45 1011.4 228.4)" >HCD 40</text>
<text x="12.60" y="332.80" font-size="16.3" text-anchor="start" fill="#231f20" font-weight="bold" >f</text>
<rect x="84.80" y="332.30" width="11.80" height="10.10" fill="#c16558"/>
<text x="104.00" y="341.50" font-size="13.6" text-anchor="start" fill="#231f20" >Lac</text>
<rect x="149.80" y="332.30" width="12.70" height="10.10" fill="#7ba6cf"/>
<text x="170.00" y="341.50" font-size="13.6" text-anchor="start" fill="#231f20" >Nonlac</text>
<line x1="64.40" y1="371.50" x2="64.40" y2="489.10" stroke="#231f20" stroke-width="1.2" />
<line x1="59.10" y1="489.10" x2="64.40" y2="489.10" stroke="#231f20" stroke-width="1.2" />
<line x1="59.10" y1="465.58" x2="64.40" y2="465.58" stroke="#231f20" stroke-width="1.2" />
<line x1="59.10" y1="442.06" x2="64.40" y2="442.06" stroke="#231f20" stroke-width="1.2" />
<line x1="59.10" y1="418.54" x2="64.40" y2="418.54" stroke="#231f20" stroke-width="1.2" />
<line x1="59.10" y1="395.02" x2="64.40" y2="395.02" stroke="#231f20" stroke-width="1.2" />
<line x1="59.10" y1="371.50" x2="64.40" y2="371.50" stroke="#231f20" stroke-width="1.2" />
<text x="52.10" y="494.00" font-size="13.6" text-anchor="end" fill="#231f20" >0</text>
<text x="52.10" y="470.48" font-size="13.6" text-anchor="end" fill="#231f20" >20</text>
<text x="52.10" y="446.96" font-size="13.6" text-anchor="end" fill="#231f20" >40</text>
<text x="52.10" y="423.44" font-size="13.6" text-anchor="end" fill="#231f20" >60</text>
<text x="52.10" y="399.92" font-size="13.6" text-anchor="end" fill="#231f20" >80</text>
<text x="52.10" y="376.40" font-size="13.6" text-anchor="end" fill="#231f20" >100</text>
<line x1="241.30" y1="371.50" x2="241.30" y2="489.10" stroke="#231f20" stroke-width="1.2" />
<line x1="241.30" y1="489.10" x2="245.90" y2="489.10" stroke="#231f20" stroke-width="1.2" />
<line x1="241.30" y1="465.58" x2="245.90" y2="465.58" stroke="#231f20" stroke-width="1.2" />
<line x1="241.30" y1="442.06" x2="245.90" y2="442.06" stroke="#231f20" stroke-width="1.2" />
<line x1="241.30" y1="418.54" x2="245.90" y2="418.54" stroke="#231f20" stroke-width="1.2" />
<line x1="241.30" y1="395.02" x2="245.90" y2="395.02" stroke="#231f20" stroke-width="1.2" />
<line x1="241.30" y1="371.50" x2="245.90" y2="371.50" stroke="#231f20" stroke-width="1.2" />
<text x="256.50" y="494.00" font-size="13.6" text-anchor="start" fill="#231f20" >0</text>
<text x="256.50" y="470.48" font-size="13.6" text-anchor="start" fill="#231f20" >2</text>
<text x="256.50" y="446.96" font-size="13.6" text-anchor="start" fill="#231f20" >4</text>
<text x="256.50" y="423.44" font-size="13.6" text-anchor="start" fill="#231f20" >6</text>
<text x="256.50" y="399.92" font-size="13.6" text-anchor="start" fill="#231f20" >8</text>
<text x="256.50" y="376.40" font-size="13.6" text-anchor="start" fill="#231f20" >10</text>
<line x1="58.90" y1="489.10" x2="246.50" y2="489.10" stroke="#231f20" stroke-width="1.2" />
<line x1="88.70" y1="489.10" x2="88.70" y2="494.00" stroke="#231f20" stroke-width="1.2" />
<line x1="131.50" y1="489.10" x2="131.50" y2="494.00" stroke="#231f20" stroke-width="1.2" />
<line x1="174.30" y1="489.10" x2="174.30" y2="494.00" stroke="#231f20" stroke-width="1.2" />
<line x1="217.00" y1="489.10" x2="217.00" y2="494.00" stroke="#231f20" stroke-width="1.2" />
<rect x="71.90" y="386.79" width="14.30" height="102.31" fill="#c16558"/>
<svg x="71.90" y="386.79" width="14.3" height="20" overflow="hidden"><text x="3.90" y="10.80" font-size="11.5" fill="#ffffff">87</text></svg>
<rect x="89.50" y="481.69" width="14.20" height="7.41" fill="#7ba6cf"/>
<text x="98.70" y="479.30" font-size="11.3" text-anchor="middle" fill="#231f20" >0.63</text>
<rect x="114.70" y="393.84" width="14.30" height="95.26" fill="#c16558"/>
<svg x="114.70" y="393.84" width="14.3" height="20" overflow="hidden"><text x="3.90" y="10.80" font-size="11.5" fill="#ffffff">81</text></svg>
<rect x="132.30" y="481.10" width="14.20" height="8.00" fill="#7ba6cf"/>
<text x="141.50" y="479.30" font-size="11.3" text-anchor="middle" fill="#231f20" >0.68</text>
<rect x="157.50" y="384.44" width="14.30" height="104.66" fill="#c16558"/>
<svg x="157.50" y="384.44" width="14.3" height="20" overflow="hidden"><text x="3.90" y="10.80" font-size="11.5" fill="#ffffff">89</text></svg>
<rect x="175.10" y="478.63" width="14.20" height="10.47" fill="#7ba6cf"/>
<text x="184.30" y="479.30" font-size="11.3" text-anchor="middle" fill="#231f20" >0.89</text>
<rect x="200.20" y="389.14" width="14.30" height="99.96" fill="#c16558"/>
<svg x="200.20" y="389.14" width="14.3" height="20" overflow="hidden"><text x="3.90" y="10.80" font-size="11.5" fill="#ffffff">85</text></svg>
<rect x="217.80" y="479.22" width="14.20" height="9.88" fill="#7ba6cf"/>
<text x="227.00" y="479.30" font-size="11.3" text-anchor="middle" fill="#231f20" >0.84</text>
<text x="24.60" y="429.80" font-size="13.6" text-anchor="middle" fill="#cb7469" transform="rotate(-90 24.6 429.8)" >Frequency (%)</text>
<text x="278.70" y="429.50" font-size="13.6" text-anchor="middle" fill="#6d9dd2" transform="rotate(90 278.7 429.5)" >Frequency (%)</text>
<text x="95.20" y="508.00" font-size="13.6" text-anchor="end" fill="#231f20" transform="rotate(-45 95.2 508)" >HCT-116</text>
<text x="138.00" y="508.00" font-size="13.6" text-anchor="end" fill="#231f20" transform="rotate(-45 138.0 508)" >TALL-104</text>
<text x="180.80" y="508.00" font-size="13.6" text-anchor="end" fill="#231f20" transform="rotate(-45 180.8 508)" >BV2</text>
<text x="223.50" y="508.00" font-size="13.6" text-anchor="end" fill="#231f20" transform="rotate(-45 223.5 508)" >RAW264.7</text>
<text x="324.50" y="332.00" font-size="16.5" text-anchor="start" fill="#231f20" font-weight="bold" font-family='Liberation Serif' >g</text>
<circle cx="393.80" cy="337.10" r="2.9" fill="#c96352"/>
<text x="399.90" y="341.50" font-size="13.6" text-anchor="start" fill="#231f20" >Lac</text>
<circle cx="470.50" cy="337.10" r="2.9" fill="#5e93cc"/>
<text x="476.60" y="341.50" font-size="13.6" text-anchor="start" fill="#231f20" >Nonlac</text>
<line x1="380.90" y1="371.30" x2="380.90" y2="488.40" stroke="#231f20" stroke-width="1.2" />
<line x1="375.40" y1="488.40" x2="380.90" y2="488.40" stroke="#231f20" stroke-width="1.2" />
<line x1="375.40" y1="470.90" x2="380.90" y2="470.90" stroke="#231f20" stroke-width="1.2" />
<line x1="375.40" y1="453.40" x2="380.90" y2="453.40" stroke="#231f20" stroke-width="1.2" />
<line x1="375.40" y1="435.90" x2="380.90" y2="435.90" stroke="#231f20" stroke-width="1.2" />
<line x1="375.40" y1="418.40" x2="380.90" y2="418.40" stroke="#231f20" stroke-width="1.2" />
<line x1="375.40" y1="400.90" x2="380.90" y2="400.90" stroke="#231f20" stroke-width="1.2" />
<line x1="375.40" y1="383.40" x2="380.90" y2="383.40" stroke="#231f20" stroke-width="1.2" />
<text x="369.00" y="493.30" font-size="13.6" text-anchor="end" fill="#231f20" >0</text>
<text x="369.00" y="440.80" font-size="13.6" text-anchor="end" fill="#231f20" >50</text>
<text x="369.00" y="388.30" font-size="13.6" text-anchor="end" fill="#231f20" >100</text>
<line x1="380.90" y1="488.40" x2="537.20" y2="488.40" stroke="#231f20" stroke-width="1.2" />
<line x1="393.30" y1="488.40" x2="393.30" y2="492.40" stroke="#231f20" stroke-width="1.2" />
<line x1="411.90" y1="488.40" x2="411.90" y2="492.40" stroke="#231f20" stroke-width="1.2" />
<line x1="430.70" y1="488.40" x2="430.70" y2="492.40" stroke="#231f20" stroke-width="1.2" />
<line x1="449.30" y1="488.40" x2="449.30" y2="492.40" stroke="#231f20" stroke-width="1.2" />
<line x1="468.10" y1="488.40" x2="468.10" y2="492.40" stroke="#231f20" stroke-width="1.2" />
<line x1="487.20" y1="488.40" x2="487.20" y2="492.40" stroke="#231f20" stroke-width="1.2" />
<line x1="506.10" y1="488.40" x2="506.10" y2="492.40" stroke="#231f20" stroke-width="1.2" />
<line x1="524.60" y1="488.40" x2="524.60" y2="492.40" stroke="#231f20" stroke-width="1.2" />
<g fill="#c96352"><circle cx="393.3" cy="488.4" r="1.2"/><circle cx="394.9" cy="488.3" r="1.2"/><circle cx="391.7" cy="488.2" r="1.2"/><circle cx="394.1" cy="488.0" r="1.2"/><circle cx="395.7" cy="488.0" r="1.2"/><circle cx="390.1" cy="487.9" r="1.2"/><circle cx="392.5" cy="487.9" r="1.2"/><circle cx="397.3" cy="487.8" r="1.2"/><circle cx="388.5" cy="487.7" r="1.2"/><circle cx="394.1" cy="487.7" r="1.2"/><circle cx="390.9" cy="487.6" r="1.2"/><circle cx="393.3" cy="487.5" r="1.2"/><circle cx="396.5" cy="487.4" r="1.2"/><circle cx="394.9" cy="487.3" r="1.2"/><circle cx="391.7" cy="487.3" r="1.2"/><circle cx="389.3" cy="487.2" r="1.2"/><circle cx="398.1" cy="487.0" r="1.2"/><circle cx="393.3" cy="487.0" r="1.2"/><circle cx="394.9" cy="487.0" r="1.2"/><circle cx="391.7" cy="487.0" r="1.2"/><circle cx="395.7" cy="487.0" r="1.2"/><circle cx="390.1" cy="486.7" r="1.2"/><circle cx="394.1" cy="486.6" r="1.2"/><circle cx="392.5" cy="486.5" r="1.2"/><circle cx="396.5" cy="486.5" r="1.2"/><circle cx="388.5" cy="486.5" r="1.2"/><circle cx="390.9" cy="486.4" r="1.2"/><circle cx="394.1" cy="486.4" r="1.2"/><circle cx="392.5" cy="486.2" r="1.2"/><circle cx="397.3" cy="486.1" r="1.2"/><circle cx="395.7" cy="486.1" r="1.2"/><circle cx="389.3" cy="486.0" r="1.2"/><circle cx="393.3" cy="486.0" r="1.2"/><circle cx="391.7" cy="485.9" r="1.2"/><circle cx="393.3" cy="485.9" r="1.2"/><circle cx="394.9" cy="485.7" r="1.2"/><circle cx="390.1" cy="485.7" r="1.2"/><circle cx="396.5" cy="485.5" r="1.2"/><circle cx="394.1" cy="485.3" r="1.2"/><circle cx="393.3" cy="484.8" r="1.2"/><circle cx="394.9" cy="484.8" r="1.2"/><circle cx="391.7" cy="484.6" r="1.2"/><circle cx="396.5" cy="484.5" r="1.2"/><circle cx="390.1" cy="484.4" r="1.2"/><circle cx="394.1" cy="484.4" r="1.2"/><circle cx="393.3" cy="484.0" r="1.2"/><circle cx="395.7" cy="484.0" r="1.2"/><circle cx="390.9" cy="483.9" r="1.2"/><circle cx="397.3" cy="483.7" r="1.2"/><circle cx="392.5" cy="483.6" r="1.2"/><circle cx="394.9" cy="483.6" r="1.2"/><circle cx="390.1" cy="483.6" r="1.2"/><circle cx="388.5" cy="483.5" r="1.2"/><circle cx="394.1" cy="483.5" r="1.2"/><circle cx="392.5" cy="483.5" r="1.2"/><circle cx="396.5" cy="483.4" r="1.2"/><circle cx="398.1" cy="483.3" r="1.2"/><circle cx="391.7" cy="483.2" r="1.2"/><circle cx="389.3" cy="483.2" r="1.2"/><circle cx="393.3" cy="483.0" r="1.2"/><circle cx="395.7" cy="482.9" r="1.2"/><circle cx="390.9" cy="482.8" r="1.2"/><circle cx="397.3" cy="482.8" r="1.2"/><circle cx="394.1" cy="482.7" r="1.2"/><circle cx="392.5" cy="482.7" r="1.2"/><circle cx="388.5" cy="482.5" r="1.2"/><circle cx="396.5" cy="482.4" r="1.2"/><circle cx="394.9" cy="482.4" r="1.2"/><circle cx="390.1" cy="482.3" r="1.2"/><circle cx="398.1" cy="482.3" r="1.2"/><circle cx="391.7" cy="482.3" r="1.2"/><circle cx="393.3" cy="482.2" r="1.2"/><circle cx="393.3" cy="482.2" r="1.2"/><circle cx="394.9" cy="482.1" r="1.2"/><circle cx="391.7" cy="482.1" r="1.2"/><circle cx="393.3" cy="481.2" r="1.2"/><circle cx="394.9" cy="481.1" r="1.2"/><circle cx="391.7" cy="481.0" r="1.2"/><circle cx="396.5" cy="480.9" r="1.2"/><circle cx="394.1" cy="480.7" r="1.2"/><circle cx="392.5" cy="480.6" r="1.2"/><circle cx="395.7" cy="480.3" r="1.2"/><circle cx="393.3" cy="479.9" r="1.2"/><circle cx="394.1" cy="479.4" r="1.2"/><circle cx="392.5" cy="479.4" r="1.2"/><circle cx="395.7" cy="479.2" r="1.2"/><circle cx="390.9" cy="479.1" r="1.2"/><circle cx="393.3" cy="478.1" r="1.2"/><circle cx="394.9" cy="477.9" r="1.2"/><circle cx="391.7" cy="477.9" r="1.2"/><circle cx="396.5" cy="477.7" r="1.2"/><circle cx="394.1" cy="477.6" r="1.2"/><circle cx="390.1" cy="477.6" r="1.2"/><circle cx="392.5" cy="477.5" r="1.2"/><circle cx="398.1" cy="477.5" r="1.2"/><circle cx="388.5" cy="477.5" r="1.2"/><circle cx="395.7" cy="477.3" r="1.2"/><circle cx="390.9" cy="477.3" r="1.2"/><circle cx="393.3" cy="477.2" r="1.2"/><circle cx="397.3" cy="477.2" r="1.2"/><circle cx="389.3" cy="477.1" r="1.2"/><circle cx="394.9" cy="476.8" r="1.2"/><circle cx="392.5" cy="476.6" r="1.2"/><circle cx="394.1" cy="476.5" r="1.2"/><circle cx="396.5" cy="476.5" r="1.2"/><circle cx="390.1" cy="476.5" r="1.2"/><circle cx="393.3" cy="476.2" r="1.2"/><circle cx="391.7" cy="476.0" r="1.2"/><circle cx="395.7" cy="476.0" r="1.2"/><circle cx="397.3" cy="475.8" r="1.2"/><circle cx="389.3" cy="475.8" r="1.2"/><circle cx="392.5" cy="475.7" r="1.2"/><circle cx="394.1" cy="475.6" r="1.2"/><circle cx="393.3" cy="475.1" r="1.2"/><circle cx="394.9" cy="475.0" r="1.2"/><circle cx="391.7" cy="475.0" r="1.2"/><circle cx="394.1" cy="474.5" r="1.2"/><circle cx="393.3" cy="474.1" r="1.2"/><circle cx="394.9" cy="474.1" r="1.2"/><circle cx="391.7" cy="474.0" r="1.2"/><circle cx="396.5" cy="473.9" r="1.2"/><circle cx="390.1" cy="473.8" r="1.2"/><circle cx="398.1" cy="473.8" r="1.2"/><circle cx="388.5" cy="473.8" r="1.2"/><circle cx="393.3" cy="473.8" r="1.2"/><circle cx="394.9" cy="473.7" r="1.2"/><circle cx="391.7" cy="473.7" r="1.2"/><circle cx="396.5" cy="473.7" r="1.2"/><circle cx="394.1" cy="473.4" r="1.2"/><circle cx="392.5" cy="473.2" r="1.2"/><circle cx="395.7" cy="473.2" r="1.2"/><circle cx="390.9" cy="473.1" r="1.2"/><circle cx="393.3" cy="472.5" r="1.2"/><circle cx="394.9" cy="472.5" r="1.2"/><circle cx="391.7" cy="472.3" r="1.2"/><circle cx="394.1" cy="472.2" r="1.2"/><circle cx="395.7" cy="472.1" r="1.2"/><circle cx="392.5" cy="472.0" r="1.2"/><circle cx="393.3" cy="470.8" r="1.2"/><circle cx="394.9" cy="470.7" r="1.2"/><circle cx="394.1" cy="470.4" r="1.2"/><circle cx="392.5" cy="470.3" r="1.2"/><circle cx="395.7" cy="470.3" r="1.2"/><circle cx="393.3" cy="469.8" r="1.2"/><circle cx="394.1" cy="469.5" r="1.2"/><circle cx="392.5" cy="469.1" r="1.2"/><circle cx="394.9" cy="469.0" r="1.2"/><circle cx="393.3" cy="468.7" r="1.2"/><circle cx="393.3" cy="467.4" r="1.2"/><circle cx="394.1" cy="466.9" r="1.2"/><circle cx="392.5" cy="466.9" r="1.2"/><circle cx="395.7" cy="466.8" r="1.2"/><circle cx="393.3" cy="466.0" r="1.2"/><circle cx="394.9" cy="466.0" r="1.2"/><circle cx="391.7" cy="465.9" r="1.2"/><circle cx="394.1" cy="465.7" r="1.2"/><circle cx="395.7" cy="465.7" r="1.2"/><circle cx="392.5" cy="465.4" r="1.2"/><circle cx="393.3" cy="464.9" r="1.2"/><circle cx="394.9" cy="464.7" r="1.2"/><circle cx="392.5" cy="464.4" r="1.2"/><circle cx="393.3" cy="462.8" r="1.2"/><circle cx="394.9" cy="462.6" r="1.2"/><circle cx="391.7" cy="462.6" r="1.2"/><circle cx="396.5" cy="462.5" r="1.2"/><circle cx="393.3" cy="461.6" r="1.2"/><circle cx="394.1" cy="461.1" r="1.2"/><circle cx="393.3" cy="460.3" r="1.2"/><circle cx="393.3" cy="459.2" r="1.2"/><circle cx="394.9" cy="459.1" r="1.2"/><circle cx="391.7" cy="459.0" r="1.2"/><circle cx="396.5" cy="458.9" r="1.2"/><circle cx="393.3" cy="458.1" r="1.2"/><circle cx="394.9" cy="458.0" r="1.2"/><circle cx="393.3" cy="456.5" r="1.2"/><circle cx="394.1" cy="455.7" r="1.2"/><circle cx="392.5" cy="455.5" r="1.2"/><circle cx="394.9" cy="455.3" r="1.2"/><circle cx="393.3" cy="454.7" r="1.2"/><circle cx="391.7" cy="454.6" r="1.2"/><circle cx="394.1" cy="454.0" r="1.2"/><circle cx="393.3" cy="453.7" r="1.2"/><circle cx="394.9" cy="453.7" r="1.2"/><circle cx="394.1" cy="453.2" r="1.2"/><circle cx="393.3" cy="452.6" r="1.2"/><circle cx="393.3" cy="451.0" r="1.2"/><circle cx="394.9" cy="450.8" r="1.2"/><circle cx="392.5" cy="450.7" r="1.2"/><circle cx="394.1" cy="450.4" r="1.2"/><circle cx="393.3" cy="449.9" r="1.2"/><circle cx="393.3" cy="448.9" r="1.2"/><circle cx="393.3" cy="448.0" r="1.2"/><circle cx="393.3" cy="446.4" r="1.2"/><circle cx="394.9" cy="446.1" r="1.2"/><circle cx="393.3" cy="443.6" r="1.2"/><circle cx="393.3" cy="442.5" r="1.2"/><circle cx="394.1" cy="442.0" r="1.2"/><circle cx="393.3" cy="441.4" r="1.2"/><circle cx="393.3" cy="440.4" r="1.2"/><circle cx="394.1" cy="439.9" r="1.2"/><circle cx="393.3" cy="438.5" r="1.2"/><circle cx="393.3" cy="437.2" r="1.2"/><circle cx="393.3" cy="435.4" r="1.2"/><circle cx="393.3" cy="432.8" r="1.2"/><circle cx="393.3" cy="428.6" r="1.2"/><circle cx="393.3" cy="417.0" r="1.2"/></g>
<g fill="#5e93cc"><circle cx="411.9" cy="488.4" r="1.2"/><circle cx="413.5" cy="488.4" r="1.2"/><circle cx="410.3" cy="488.4" r="1.2"/><circle cx="415.1" cy="488.4" r="1.2"/><circle cx="408.7" cy="488.3" r="1.2"/><circle cx="416.7" cy="488.3" r="1.2"/><circle cx="407.1" cy="488.3" r="1.2"/><circle cx="411.9" cy="488.3" r="1.2"/><circle cx="413.5" cy="488.3" r="1.2"/><circle cx="410.3" cy="488.3" r="1.2"/><circle cx="415.1" cy="488.3" r="1.2"/><circle cx="408.7" cy="488.3" r="1.2"/><circle cx="416.7" cy="488.3" r="1.2"/><circle cx="407.1" cy="488.3" r="1.2"/><circle cx="411.9" cy="488.2" r="1.2"/><circle cx="413.5" cy="488.2" r="1.2"/><circle cx="410.3" cy="488.2" r="1.2"/><circle cx="415.1" cy="488.1" r="1.2"/><circle cx="408.7" cy="488.1" r="1.2"/><circle cx="416.7" cy="488.1" r="1.2"/><circle cx="407.1" cy="488.1" r="1.2"/><circle cx="411.9" cy="488.1" r="1.2"/><circle cx="413.5" cy="488.1" r="1.2"/><circle cx="410.3" cy="488.1" r="1.2"/><circle cx="415.1" cy="488.0" r="1.2"/><circle cx="408.7" cy="488.0" r="1.2"/><circle cx="416.7" cy="488.0" r="1.2"/><circle cx="407.9" cy="488.0" r="1.2"/><circle cx="411.9" cy="487.9" r="1.2"/><circle cx="413.5" cy="487.9" r="1.2"/><circle cx="410.3" cy="487.9" r="1.2"/><circle cx="415.1" cy="487.9" r="1.2"/><circle cx="407.9" cy="487.9" r="1.2"/><circle cx="412.7" cy="487.9" r="1.2"/><circle cx="416.7" cy="487.9" r="1.2"/><circle cx="412.7" cy="487.9" r="1.2"/><circle cx="411.1" cy="487.9" r="1.2"/><circle cx="409.5" cy="487.9" r="1.2"/><circle cx="411.1" cy="487.9" r="1.2"/><circle cx="414.3" cy="487.8" r="1.2"/><circle cx="409.5" cy="487.8" r="1.2"/><circle cx="407.9" cy="487.8" r="1.2"/><circle cx="415.9" cy="487.8" r="1.2"/><circle cx="407.9" cy="487.8" r="1.2"/><circle cx="412.7" cy="487.8" r="1.2"/><circle cx="411.1" cy="487.8" r="1.2"/><circle cx="414.3" cy="487.7" r="1.2"/><circle cx="409.5" cy="487.7" r="1.2"/><circle cx="415.9" cy="487.7" r="1.2"/><circle cx="414.3" cy="487.7" r="1.2"/><circle cx="409.5" cy="487.7" r="1.2"/><circle cx="415.9" cy="487.7" r="1.2"/><circle cx="412.7" cy="487.7" r="1.2"/><circle cx="411.1" cy="487.6" r="1.2"/><circle cx="414.3" cy="487.6" r="1.2"/><circle cx="415.9" cy="487.5" r="1.2"/><circle cx="407.1" cy="487.5" r="1.2"/><circle cx="412.7" cy="487.5" r="1.2"/><circle cx="411.1" cy="487.5" r="1.2"/><circle cx="414.3" cy="487.5" r="1.2"/><circle cx="407.1" cy="487.5" r="1.2"/><circle cx="408.7" cy="487.4" r="1.2"/><circle cx="408.7" cy="487.4" r="1.2"/><circle cx="407.1" cy="487.4" r="1.2"/><circle cx="415.9" cy="487.4" r="1.2"/><circle cx="407.1" cy="487.4" r="1.2"/><circle cx="411.9" cy="487.4" r="1.2"/><circle cx="410.3" cy="487.3" r="1.2"/><circle cx="408.7" cy="487.3" r="1.2"/><circle cx="413.5" cy="487.2" r="1.2"/><circle cx="411.9" cy="487.2" r="1.2"/><circle cx="413.5" cy="487.2" r="1.2"/><circle cx="410.3" cy="487.1" r="1.2"/><circle cx="415.1" cy="487.1" r="1.2"/><circle cx="416.7" cy="487.1" r="1.2"/><circle cx="411.9" cy="487.1" r="1.2"/><circle cx="415.1" cy="487.1" r="1.2"/><circle cx="416.7" cy="487.0" r="1.2"/><circle cx="413.5" cy="487.0" r="1.2"/><circle cx="407.9" cy="487.0" r="1.2"/><circle cx="407.9" cy="486.9" r="1.2"/><circle cx="410.3" cy="486.9" r="1.2"/><circle cx="415.1" cy="486.9" r="1.2"/><circle cx="407.9" cy="486.9" r="1.2"/><circle cx="416.7" cy="486.9" r="1.2"/><circle cx="409.5" cy="486.8" r="1.2"/><circle cx="411.9" cy="486.8" r="1.2"/><circle cx="409.5" cy="486.8" r="1.2"/><circle cx="412.7" cy="486.8" r="1.2"/><circle cx="411.1" cy="486.7" r="1.2"/><circle cx="414.3" cy="486.7" r="1.2"/><circle cx="412.7" cy="486.7" r="1.2"/><circle cx="414.3" cy="486.6" r="1.2"/><circle cx="411.1" cy="486.6" r="1.2"/><circle cx="415.9" cy="486.6" r="1.2"/><circle cx="415.9" cy="486.5" r="1.2"/><circle cx="407.1" cy="486.5" r="1.2"/><circle cx="408.7" cy="486.5" r="1.2"/><circle cx="407.1" cy="486.5" r="1.2"/><circle cx="412.7" cy="486.4" r="1.2"/><circle cx="408.7" cy="486.4" r="1.2"/><circle cx="411.1" cy="486.4" r="1.2"/><circle cx="414.3" cy="486.3" r="1.2"/><circle cx="410.3" cy="486.3" r="1.2"/><circle cx="415.1" cy="486.2" r="1.2"/><circle cx="413.5" cy="486.1" r="1.2"/><circle cx="416.7" cy="486.1" r="1.2"/><circle cx="411.9" cy="486.1" r="1.2"/><circle cx="407.9" cy="486.0" r="1.2"/><circle cx="409.5" cy="485.9" r="1.2"/><circle cx="411.9" cy="485.9" r="1.2"/><circle cx="413.5" cy="485.8" r="1.2"/><circle cx="409.5" cy="485.7" r="1.2"/><circle cx="415.9" cy="485.6" r="1.2"/><circle cx="415.9" cy="485.6" r="1.2"/><circle cx="407.1" cy="485.6" r="1.2"/><circle cx="412.7" cy="485.6" r="1.2"/><circle cx="411.1" cy="485.5" r="1.2"/><circle cx="411.9" cy="484.9" r="1.2"/><circle cx="413.5" cy="484.8" r="1.2"/><circle cx="410.3" cy="484.6" r="1.2"/><circle cx="415.1" cy="484.6" r="1.2"/><circle cx="408.7" cy="484.5" r="1.2"/><circle cx="412.7" cy="484.4" r="1.2"/><circle cx="411.9" cy="484.0" r="1.2"/><circle cx="411.1" cy="483.7" r="1.2"/><circle cx="412.7" cy="483.4" r="1.2"/><circle cx="411.9" cy="482.7" r="1.2"/><circle cx="412.7" cy="482.4" r="1.2"/><circle cx="411.9" cy="481.8" r="1.2"/><circle cx="411.9" cy="480.0" r="1.2"/></g>
<g fill="#c96352"><circle cx="430.7" cy="488.3" r="1.2"/><circle cx="432.3" cy="488.3" r="1.2"/><circle cx="429.1" cy="488.3" r="1.2"/><circle cx="433.9" cy="488.2" r="1.2"/><circle cx="427.5" cy="488.1" r="1.2"/><circle cx="431.5" cy="488.0" r="1.2"/><circle cx="429.9" cy="488.0" r="1.2"/><circle cx="433.1" cy="487.8" r="1.2"/><circle cx="428.3" cy="487.5" r="1.2"/><circle cx="430.7" cy="487.5" r="1.2"/><circle cx="432.3" cy="487.3" r="1.2"/><circle cx="434.7" cy="487.3" r="1.2"/><circle cx="429.1" cy="487.2" r="1.2"/><circle cx="427.5" cy="487.2" r="1.2"/><circle cx="425.9" cy="487.1" r="1.2"/><circle cx="431.5" cy="487.0" r="1.2"/><circle cx="433.9" cy="487.0" r="1.2"/><circle cx="435.5" cy="487.0" r="1.2"/><circle cx="431.5" cy="486.9" r="1.2"/><circle cx="429.9" cy="486.7" r="1.2"/><circle cx="433.1" cy="486.7" r="1.2"/><circle cx="428.3" cy="486.6" r="1.2"/><circle cx="426.7" cy="486.6" r="1.2"/><circle cx="430.7" cy="486.5" r="1.2"/><circle cx="432.3" cy="486.4" r="1.2"/><circle cx="429.1" cy="486.1" r="1.2"/><circle cx="433.9" cy="486.1" r="1.2"/><circle cx="427.5" cy="486.1" r="1.2"/><circle cx="431.5" cy="485.9" r="1.2"/><circle cx="435.5" cy="485.9" r="1.2"/><circle cx="425.9" cy="485.9" r="1.2"/><circle cx="430.7" cy="485.6" r="1.2"/><circle cx="433.1" cy="485.6" r="1.2"/><circle cx="428.3" cy="485.5" r="1.2"/><circle cx="434.7" cy="485.4" r="1.2"/><circle cx="429.9" cy="485.3" r="1.2"/><circle cx="426.7" cy="485.3" r="1.2"/><circle cx="432.3" cy="485.3" r="1.2"/><circle cx="429.9" cy="485.2" r="1.2"/><circle cx="432.3" cy="485.1" r="1.2"/><circle cx="428.3" cy="485.1" r="1.2"/><circle cx="433.9" cy="485.1" r="1.2"/><circle cx="435.5" cy="485.0" r="1.2"/><circle cx="425.9" cy="485.0" r="1.2"/><circle cx="431.5" cy="485.0" r="1.2"/><circle cx="429.1" cy="484.9" r="1.2"/><circle cx="433.9" cy="484.8" r="1.2"/><circle cx="431.5" cy="484.8" r="1.2"/><circle cx="427.5" cy="484.8" r="1.2"/><circle cx="429.1" cy="484.7" r="1.2"/><circle cx="433.1" cy="484.7" r="1.2"/><circle cx="427.5" cy="484.7" r="1.2"/><circle cx="430.7" cy="484.3" r="1.2"/><circle cx="434.7" cy="484.3" r="1.2"/><circle cx="432.3" cy="484.2" r="1.2"/><circle cx="429.9" cy="484.0" r="1.2"/><circle cx="428.3" cy="483.9" r="1.2"/><circle cx="433.9" cy="483.9" r="1.2"/><circle cx="431.5" cy="483.8" r="1.2"/><circle cx="426.7" cy="483.8" r="1.2"/><circle cx="435.5" cy="483.7" r="1.2"/><circle cx="429.1" cy="483.6" r="1.2"/><circle cx="430.7" cy="483.2" r="1.2"/><circle cx="432.3" cy="483.1" r="1.2"/><circle cx="428.3" cy="483.0" r="1.2"/><circle cx="433.9" cy="482.9" r="1.2"/><circle cx="429.9" cy="482.8" r="1.2"/><circle cx="431.5" cy="482.7" r="1.2"/><circle cx="427.5" cy="482.7" r="1.2"/><circle cx="435.5" cy="482.6" r="1.2"/><circle cx="430.7" cy="482.3" r="1.2"/><circle cx="431.5" cy="481.7" r="1.2"/><circle cx="429.9" cy="481.7" r="1.2"/><circle cx="433.1" cy="481.7" r="1.2"/><circle cx="428.3" cy="481.7" r="1.2"/><circle cx="434.7" cy="481.5" r="1.2"/><circle cx="430.7" cy="481.3" r="1.2"/><circle cx="432.3" cy="481.3" r="1.2"/><circle cx="429.1" cy="480.9" r="1.2"/><circle cx="431.5" cy="480.8" r="1.2"/><circle cx="433.1" cy="480.6" r="1.2"/><circle cx="430.7" cy="480.2" r="1.2"/><circle cx="432.3" cy="480.2" r="1.2"/><circle cx="431.5" cy="479.9" r="1.2"/><circle cx="429.9" cy="479.9" r="1.2"/><circle cx="428.3" cy="479.8" r="1.2"/><circle cx="430.7" cy="479.2" r="1.2"/><circle cx="431.5" cy="478.7" r="1.2"/><circle cx="429.9" cy="478.6" r="1.2"/><circle cx="433.1" cy="478.6" r="1.2"/><circle cx="428.3" cy="478.6" r="1.2"/><circle cx="434.7" cy="478.5" r="1.2"/><circle cx="426.7" cy="478.4" r="1.2"/><circle cx="431.5" cy="478.4" r="1.2"/><circle cx="429.9" cy="478.3" r="1.2"/><circle cx="432.3" cy="478.3" r="1.2"/><circle cx="430.7" cy="478.0" r="1.2"/><circle cx="429.1" cy="477.9" r="1.2"/><circle cx="433.1" cy="477.7" r="1.2"/><circle cx="431.5" cy="477.5" r="1.2"/><circle cx="429.9" cy="477.4" r="1.2"/><circle cx="428.3" cy="477.4" r="1.2"/><circle cx="433.9" cy="477.2" r="1.2"/><circle cx="430.7" cy="476.9" r="1.2"/><circle cx="432.3" cy="476.9" r="1.2"/><circle cx="429.1" cy="476.8" r="1.2"/><circle cx="427.5" cy="476.7" r="1.2"/><circle cx="434.7" cy="476.7" r="1.2"/><circle cx="430.7" cy="475.6" r="1.2"/><circle cx="432.3" cy="475.4" r="1.2"/><circle cx="429.9" cy="475.2" r="1.2"/><circle cx="430.7" cy="474.7" r="1.2"/><circle cx="431.5" cy="474.2" r="1.2"/><circle cx="430.7" cy="473.8" r="1.2"/><circle cx="432.3" cy="473.7" r="1.2"/><circle cx="429.1" cy="473.7" r="1.2"/><circle cx="430.7" cy="472.6" r="1.2"/><circle cx="432.3" cy="472.5" r="1.2"/><circle cx="431.5" cy="472.2" r="1.2"/><circle cx="429.9" cy="471.9" r="1.2"/><circle cx="430.7" cy="470.6" r="1.2"/><circle cx="432.3" cy="470.5" r="1.2"/><circle cx="429.9" cy="470.3" r="1.2"/><circle cx="431.5" cy="470.1" r="1.2"/><circle cx="429.1" cy="470.0" r="1.2"/><circle cx="430.7" cy="469.3" r="1.2"/><circle cx="432.3" cy="469.2" r="1.2"/><circle cx="429.1" cy="469.0" r="1.2"/><circle cx="430.7" cy="468.3" r="1.2"/><circle cx="432.3" cy="468.2" r="1.2"/><circle cx="431.5" cy="467.7" r="1.2"/><circle cx="430.7" cy="466.9" r="1.2"/><circle cx="431.5" cy="466.4" r="1.2"/><circle cx="430.7" cy="465.7" r="1.2"/><circle cx="431.5" cy="465.0" r="1.2"/><circle cx="430.7" cy="463.5" r="1.2"/><circle cx="432.3" cy="463.4" r="1.2"/><circle cx="429.1" cy="463.4" r="1.2"/><circle cx="430.7" cy="461.9" r="1.2"/><circle cx="432.3" cy="461.7" r="1.2"/><circle cx="429.1" cy="461.6" r="1.2"/><circle cx="430.7" cy="460.3" r="1.2"/><circle cx="432.3" cy="460.0" r="1.2"/><circle cx="429.9" cy="459.9" r="1.2"/><circle cx="431.5" cy="459.5" r="1.2"/><circle cx="430.7" cy="459.0" r="1.2"/><circle cx="430.7" cy="457.7" r="1.2"/><circle cx="430.7" cy="456.5" r="1.2"/><circle cx="431.5" cy="456.0" r="1.2"/><circle cx="430.7" cy="454.6" r="1.2"/><circle cx="430.7" cy="453.5" r="1.2"/><circle cx="430.7" cy="451.3" r="1.2"/><circle cx="430.7" cy="450.0" r="1.2"/><circle cx="430.7" cy="448.9" r="1.2"/><circle cx="430.7" cy="448.1" r="1.2"/><circle cx="431.5" cy="447.3" r="1.2"/><circle cx="429.9" cy="447.2" r="1.2"/><circle cx="430.7" cy="445.5" r="1.2"/><circle cx="431.5" cy="444.9" r="1.2"/><circle cx="430.7" cy="444.5" r="1.2"/><circle cx="430.7" cy="443.3" r="1.2"/><circle cx="430.7" cy="442.4" r="1.2"/><circle cx="432.3" cy="442.4" r="1.2"/><circle cx="430.7" cy="436.5" r="1.2"/><circle cx="430.7" cy="433.8" r="1.2"/><circle cx="430.7" cy="432.8" r="1.2"/><circle cx="430.7" cy="431.9" r="1.2"/><circle cx="430.7" cy="426.3" r="1.2"/><circle cx="430.7" cy="425.4" r="1.2"/><circle cx="430.7" cy="424.5" r="1.2"/><circle cx="431.5" cy="423.9" r="1.2"/><circle cx="430.7" cy="423.4" r="1.2"/><circle cx="432.3" cy="423.1" r="1.2"/><circle cx="430.7" cy="422.2" r="1.2"/><circle cx="430.7" cy="420.0" r="1.2"/><circle cx="430.7" cy="417.8" r="1.2"/><circle cx="431.5" cy="417.5" r="1.2"/><circle cx="429.9" cy="417.0" r="1.2"/><circle cx="430.7" cy="413.9" r="1.2"/><circle cx="430.7" cy="412.1" r="1.2"/><circle cx="430.7" cy="411.1" r="1.2"/><circle cx="430.7" cy="404.7" r="1.2"/><circle cx="430.7" cy="398.5" r="1.2"/><circle cx="430.7" cy="396.7" r="1.2"/><circle cx="430.7" cy="395.7" r="1.2"/><circle cx="430.7" cy="388.9" r="1.2"/><circle cx="430.7" cy="383.4" r="1.2"/></g>
<g fill="#5e93cc"><circle cx="449.3" cy="488.4" r="1.2"/><circle cx="450.9" cy="488.4" r="1.2"/><circle cx="447.7" cy="488.4" r="1.2"/><circle cx="452.5" cy="488.3" r="1.2"/><circle cx="446.1" cy="488.3" r="1.2"/><circle cx="454.1" cy="488.3" r="1.2"/><circle cx="444.5" cy="488.3" r="1.2"/><circle cx="449.3" cy="488.3" r="1.2"/><circle cx="450.9" cy="488.2" r="1.2"/><circle cx="447.7" cy="488.2" r="1.2"/><circle cx="452.5" cy="488.2" r="1.2"/><circle cx="446.1" cy="488.2" r="1.2"/><circle cx="454.1" cy="488.2" r="1.2"/><circle cx="444.5" cy="488.2" r="1.2"/><circle cx="449.3" cy="488.1" r="1.2"/><circle cx="450.9" cy="488.1" r="1.2"/><circle cx="447.7" cy="488.1" r="1.2"/><circle cx="452.5" cy="488.1" r="1.2"/><circle cx="446.1" cy="488.1" r="1.2"/><circle cx="454.1" cy="488.1" r="1.2"/><circle cx="444.5" cy="488.1" r="1.2"/><circle cx="449.3" cy="488.1" r="1.2"/><circle cx="450.9" cy="488.1" r="1.2"/><circle cx="447.7" cy="488.1" r="1.2"/><circle cx="452.5" cy="488.1" r="1.2"/><circle cx="446.1" cy="488.0" r="1.2"/><circle cx="454.1" cy="488.0" r="1.2"/><circle cx="444.5" cy="488.0" r="1.2"/><circle cx="449.3" cy="488.0" r="1.2"/><circle cx="450.9" cy="488.0" r="1.2"/><circle cx="447.7" cy="488.0" r="1.2"/><circle cx="452.5" cy="488.0" r="1.2"/><circle cx="446.1" cy="488.0" r="1.2"/><circle cx="454.1" cy="487.9" r="1.2"/><circle cx="444.5" cy="487.9" r="1.2"/><circle cx="450.1" cy="487.8" r="1.2"/><circle cx="448.5" cy="487.8" r="1.2"/><circle cx="451.7" cy="487.8" r="1.2"/><circle cx="446.9" cy="487.8" r="1.2"/><circle cx="450.1" cy="487.7" r="1.2"/><circle cx="448.5" cy="487.7" r="1.2"/><circle cx="451.7" cy="487.7" r="1.2"/><circle cx="446.9" cy="487.7" r="1.2"/><circle cx="453.3" cy="487.7" r="1.2"/><circle cx="445.3" cy="487.7" r="1.2"/><circle cx="453.3" cy="487.6" r="1.2"/><circle cx="450.1" cy="487.6" r="1.2"/><circle cx="448.5" cy="487.6" r="1.2"/><circle cx="445.3" cy="487.6" r="1.2"/><circle cx="451.7" cy="487.6" r="1.2"/><circle cx="446.9" cy="487.6" r="1.2"/><circle cx="453.3" cy="487.6" r="1.2"/><circle cx="445.3" cy="487.5" r="1.2"/><circle cx="450.1" cy="487.5" r="1.2"/><circle cx="448.5" cy="487.5" r="1.2"/><circle cx="451.7" cy="487.5" r="1.2"/><circle cx="446.9" cy="487.5" r="1.2"/><circle cx="453.3" cy="487.5" r="1.2"/><circle cx="445.3" cy="487.4" r="1.2"/><circle cx="450.1" cy="487.4" r="1.2"/><circle cx="448.5" cy="487.4" r="1.2"/><circle cx="451.7" cy="487.4" r="1.2"/><circle cx="446.9" cy="487.3" r="1.2"/><circle cx="453.3" cy="487.3" r="1.2"/><circle cx="445.3" cy="487.3" r="1.2"/><circle cx="450.1" cy="487.3" r="1.2"/><circle cx="448.5" cy="487.3" r="1.2"/><circle cx="451.7" cy="487.3" r="1.2"/><circle cx="446.9" cy="487.3" r="1.2"/><circle cx="454.1" cy="487.2" r="1.2"/><circle cx="454.1" cy="487.2" r="1.2"/><circle cx="444.5" cy="487.1" r="1.2"/><circle cx="449.3" cy="487.1" r="1.2"/><circle cx="452.5" cy="487.1" r="1.2"/><circle cx="450.9" cy="487.1" r="1.2"/><circle cx="446.1" cy="487.0" r="1.2"/><circle cx="449.3" cy="487.0" r="1.2"/><circle cx="447.7" cy="487.0" r="1.2"/><circle cx="450.9" cy="487.0" r="1.2"/><circle cx="447.7" cy="487.0" r="1.2"/><circle cx="452.5" cy="486.9" r="1.2"/><circle cx="446.1" cy="486.9" r="1.2"/><circle cx="444.5" cy="486.9" r="1.2"/><circle cx="449.3" cy="486.9" r="1.2"/><circle cx="450.9" cy="486.9" r="1.2"/><circle cx="447.7" cy="486.9" r="1.2"/><circle cx="452.5" cy="486.9" r="1.2"/><circle cx="446.1" cy="486.8" r="1.2"/><circle cx="454.1" cy="486.8" r="1.2"/><circle cx="444.5" cy="486.8" r="1.2"/><circle cx="449.3" cy="486.8" r="1.2"/><circle cx="450.9" cy="486.7" r="1.2"/><circle cx="447.7" cy="486.7" r="1.2"/><circle cx="452.5" cy="486.6" r="1.2"/><circle cx="446.1" cy="486.6" r="1.2"/><circle cx="454.1" cy="486.6" r="1.2"/><circle cx="444.5" cy="486.6" r="1.2"/><circle cx="449.3" cy="486.6" r="1.2"/><circle cx="450.1" cy="486.5" r="1.2"/><circle cx="447.7" cy="486.5" r="1.2"/><circle cx="451.7" cy="486.4" r="1.2"/><circle cx="453.3" cy="486.4" r="1.2"/><circle cx="445.3" cy="486.4" r="1.2"/><circle cx="450.1" cy="486.4" r="1.2"/><circle cx="448.5" cy="486.4" r="1.2"/><circle cx="451.7" cy="486.4" r="1.2"/><circle cx="451.7" cy="486.4" r="1.2"/><circle cx="446.9" cy="486.3" r="1.2"/><circle cx="453.3" cy="486.3" r="1.2"/><circle cx="445.3" cy="486.3" r="1.2"/><circle cx="450.1" cy="486.3" r="1.2"/><circle cx="448.5" cy="486.3" r="1.2"/><circle cx="446.9" cy="486.2" r="1.2"/><circle cx="448.5" cy="486.2" r="1.2"/><circle cx="446.9" cy="486.1" r="1.2"/><circle cx="453.3" cy="486.1" r="1.2"/><circle cx="445.3" cy="486.1" r="1.2"/><circle cx="450.1" cy="486.1" r="1.2"/><circle cx="448.5" cy="486.1" r="1.2"/><circle cx="451.7" cy="486.1" r="1.2"/><circle cx="446.9" cy="486.0" r="1.2"/><circle cx="450.9" cy="486.0" r="1.2"/><circle cx="454.1" cy="486.0" r="1.2"/><circle cx="452.5" cy="485.9" r="1.2"/><circle cx="445.3" cy="485.9" r="1.2"/><circle cx="449.3" cy="485.9" r="1.2"/><circle cx="454.1" cy="485.8" r="1.2"/><circle cx="444.5" cy="485.8" r="1.2"/><circle cx="450.9" cy="485.8" r="1.2"/><circle cx="447.7" cy="485.6" r="1.2"/><circle cx="446.1" cy="485.6" r="1.2"/><circle cx="449.3" cy="485.5" r="1.2"/><circle cx="447.7" cy="485.4" r="1.2"/><circle cx="451.7" cy="485.4" r="1.2"/><circle cx="446.1" cy="485.4" r="1.2"/><circle cx="453.3" cy="485.3" r="1.2"/><circle cx="444.5" cy="485.3" r="1.2"/><circle cx="453.3" cy="485.2" r="1.2"/><circle cx="450.1" cy="485.2" r="1.2"/><circle cx="451.7" cy="485.2" r="1.2"/><circle cx="448.5" cy="485.1" r="1.2"/><circle cx="450.1" cy="485.1" r="1.2"/><circle cx="446.9" cy="485.1" r="1.2"/><circle cx="445.3" cy="485.0" r="1.2"/><circle cx="452.5" cy="484.9" r="1.2"/><circle cx="454.1" cy="484.9" r="1.2"/><circle cx="450.9" cy="484.8" r="1.2"/><circle cx="449.3" cy="484.8" r="1.2"/><circle cx="450.9" cy="484.7" r="1.2"/><circle cx="447.7" cy="484.7" r="1.2"/><circle cx="452.5" cy="484.7" r="1.2"/><circle cx="445.3" cy="484.7" r="1.2"/><circle cx="449.3" cy="484.6" r="1.2"/><circle cx="447.7" cy="484.5" r="1.2"/><circle cx="451.7" cy="484.3" r="1.2"/><circle cx="446.1" cy="484.3" r="1.2"/><circle cx="450.1" cy="484.2" r="1.2"/><circle cx="448.5" cy="484.2" r="1.2"/><circle cx="453.3" cy="484.1" r="1.2"/><circle cx="444.5" cy="484.1" r="1.2"/><circle cx="450.1" cy="484.1" r="1.2"/><circle cx="450.9" cy="483.8" r="1.2"/><circle cx="446.9" cy="483.7" r="1.2"/><circle cx="452.5" cy="483.7" r="1.2"/><circle cx="449.3" cy="483.6" r="1.2"/><circle cx="447.7" cy="483.3" r="1.2"/><circle cx="451.7" cy="483.3" r="1.2"/><circle cx="446.1" cy="483.3" r="1.2"/><circle cx="453.3" cy="483.2" r="1.2"/><circle cx="450.1" cy="483.1" r="1.2"/><circle cx="444.5" cy="483.1" r="1.2"/><circle cx="448.5" cy="483.0" r="1.2"/><circle cx="454.1" cy="482.9" r="1.2"/><circle cx="450.1" cy="482.9" r="1.2"/><circle cx="446.9" cy="482.9" r="1.2"/><circle cx="452.5" cy="482.7" r="1.2"/><circle cx="445.3" cy="482.7" r="1.2"/><circle cx="449.3" cy="482.6" r="1.2"/><circle cx="450.9" cy="482.6" r="1.2"/><circle cx="449.3" cy="482.5" r="1.2"/><circle cx="450.9" cy="482.5" r="1.2"/><circle cx="447.7" cy="482.5" r="1.2"/><circle cx="447.7" cy="482.4" r="1.2"/><circle cx="453.3" cy="482.4" r="1.2"/><circle cx="446.1" cy="482.3" r="1.2"/><circle cx="448.5" cy="482.1" r="1.2"/><circle cx="450.1" cy="481.7" r="1.2"/><circle cx="451.7" cy="481.7" r="1.2"/><circle cx="447.7" cy="481.4" r="1.2"/><circle cx="449.3" cy="481.1" r="1.2"/><circle cx="450.9" cy="480.9" r="1.2"/><circle cx="448.5" cy="480.6" r="1.2"/><circle cx="446.9" cy="480.6" r="1.2"/><circle cx="450.1" cy="480.6" r="1.2"/><circle cx="451.7" cy="480.5" r="1.2"/><circle cx="453.3" cy="480.5" r="1.2"/><circle cx="449.3" cy="480.1" r="1.2"/><circle cx="449.3" cy="479.3" r="1.2"/><circle cx="450.1" cy="478.9" r="1.2"/><circle cx="448.5" cy="478.9" r="1.2"/><circle cx="451.7" cy="478.7" r="1.2"/><circle cx="447.7" cy="478.6" r="1.2"/><circle cx="449.3" cy="478.1" r="1.2"/><circle cx="450.1" cy="477.4" r="1.2"/><circle cx="449.3" cy="476.9" r="1.2"/><circle cx="449.3" cy="471.1" r="1.2"/><circle cx="450.1" cy="470.5" r="1.2"/></g>
<g fill="#c96352"><circle cx="468.1" cy="488.3" r="1.2"/><circle cx="469.7" cy="488.1" r="1.2"/><circle cx="467.3" cy="488.0" r="1.2"/><circle cx="468.1" cy="486.2" r="1.2"/><circle cx="469.7" cy="486.0" r="1.2"/><circle cx="468.9" cy="485.7" r="1.2"/><circle cx="468.1" cy="485.4" r="1.2"/><circle cx="466.5" cy="485.3" r="1.2"/><circle cx="470.5" cy="485.2" r="1.2"/><circle cx="464.9" cy="485.1" r="1.2"/><circle cx="468.1" cy="482.7" r="1.2"/><circle cx="468.1" cy="481.5" r="1.2"/><circle cx="469.7" cy="481.3" r="1.2"/><circle cx="467.3" cy="481.2" r="1.2"/><circle cx="468.1" cy="480.4" r="1.2"/><circle cx="468.1" cy="478.1" r="1.2"/><circle cx="469.7" cy="477.9" r="1.2"/><circle cx="468.1" cy="476.3" r="1.2"/><circle cx="468.9" cy="475.7" r="1.2"/><circle cx="468.1" cy="474.0" r="1.2"/><circle cx="469.7" cy="473.9" r="1.2"/><circle cx="468.1" cy="469.9" r="1.2"/><circle cx="468.1" cy="468.8" r="1.2"/><circle cx="468.1" cy="466.7" r="1.2"/><circle cx="468.1" cy="465.8" r="1.2"/><circle cx="468.1" cy="464.8" r="1.2"/><circle cx="468.1" cy="460.9" r="1.2"/><circle cx="469.7" cy="460.9" r="1.2"/><circle cx="468.1" cy="457.9" r="1.2"/><circle cx="468.1" cy="453.4" r="1.2"/><circle cx="468.1" cy="452.0" r="1.2"/><circle cx="469.7" cy="451.8" r="1.2"/><circle cx="468.1" cy="447.6" r="1.2"/><circle cx="468.1" cy="441.2" r="1.2"/><circle cx="468.1" cy="440.1" r="1.2"/><circle cx="468.1" cy="438.3" r="1.2"/><circle cx="468.1" cy="433.0" r="1.2"/><circle cx="468.9" cy="432.5" r="1.2"/><circle cx="468.1" cy="430.6" r="1.2"/><circle cx="468.9" cy="429.9" r="1.2"/><circle cx="468.1" cy="422.3" r="1.2"/><circle cx="468.1" cy="419.2" r="1.2"/><circle cx="468.9" cy="418.8" r="1.2"/><circle cx="468.1" cy="413.6" r="1.2"/><circle cx="468.1" cy="406.1" r="1.2"/><circle cx="468.1" cy="401.5" r="1.2"/><circle cx="468.1" cy="383.4" r="1.2"/></g>
<g fill="#5e93cc"><circle cx="487.2" cy="488.4" r="1.2"/><circle cx="488.8" cy="488.4" r="1.2"/><circle cx="485.6" cy="488.3" r="1.2"/><circle cx="490.4" cy="488.3" r="1.2"/><circle cx="484.0" cy="488.2" r="1.2"/><circle cx="492.0" cy="488.2" r="1.2"/><circle cx="482.4" cy="488.2" r="1.2"/><circle cx="487.2" cy="488.1" r="1.2"/><circle cx="488.8" cy="488.1" r="1.2"/><circle cx="485.6" cy="488.1" r="1.2"/><circle cx="490.4" cy="488.1" r="1.2"/><circle cx="484.0" cy="488.0" r="1.2"/><circle cx="492.0" cy="488.0" r="1.2"/><circle cx="482.4" cy="488.0" r="1.2"/><circle cx="487.2" cy="488.0" r="1.2"/><circle cx="488.8" cy="488.0" r="1.2"/><circle cx="485.6" cy="487.9" r="1.2"/><circle cx="490.4" cy="487.9" r="1.2"/><circle cx="484.0" cy="487.9" r="1.2"/><circle cx="492.0" cy="487.9" r="1.2"/><circle cx="482.4" cy="487.9" r="1.2"/><circle cx="488.0" cy="487.8" r="1.2"/><circle cx="486.4" cy="487.7" r="1.2"/><circle cx="489.6" cy="487.7" r="1.2"/><circle cx="484.8" cy="487.7" r="1.2"/><circle cx="491.2" cy="487.7" r="1.2"/><circle cx="483.2" cy="487.7" r="1.2"/><circle cx="488.0" cy="487.5" r="1.2"/><circle cx="486.4" cy="487.4" r="1.2"/><circle cx="489.6" cy="487.4" r="1.2"/><circle cx="484.8" cy="487.3" r="1.2"/><circle cx="491.2" cy="487.3" r="1.2"/><circle cx="483.2" cy="487.2" r="1.2"/><circle cx="488.0" cy="487.2" r="1.2"/><circle cx="486.4" cy="487.2" r="1.2"/><circle cx="489.6" cy="487.1" r="1.2"/><circle cx="487.2" cy="487.1" r="1.2"/><circle cx="492.0" cy="487.0" r="1.2"/><circle cx="488.8" cy="487.0" r="1.2"/><circle cx="484.0" cy="486.9" r="1.2"/><circle cx="482.4" cy="486.9" r="1.2"/><circle cx="485.6" cy="486.9" r="1.2"/><circle cx="490.4" cy="486.9" r="1.2"/><circle cx="484.0" cy="486.9" r="1.2"/><circle cx="487.2" cy="486.8" r="1.2"/><circle cx="488.8" cy="486.7" r="1.2"/><circle cx="485.6" cy="486.7" r="1.2"/><circle cx="490.4" cy="486.7" r="1.2"/><circle cx="492.0" cy="486.7" r="1.2"/><circle cx="483.2" cy="486.6" r="1.2"/><circle cx="487.2" cy="486.6" r="1.2"/><circle cx="488.8" cy="486.5" r="1.2"/><circle cx="485.6" cy="486.5" r="1.2"/><circle cx="490.4" cy="486.5" r="1.2"/><circle cx="484.8" cy="486.3" r="1.2"/><circle cx="488.0" cy="486.3" r="1.2"/><circle cx="486.4" cy="486.3" r="1.2"/><circle cx="491.2" cy="486.3" r="1.2"/><circle cx="483.2" cy="486.3" r="1.2"/><circle cx="488.0" cy="486.2" r="1.2"/><circle cx="486.4" cy="486.2" r="1.2"/><circle cx="489.6" cy="486.1" r="1.2"/><circle cx="484.0" cy="485.9" r="1.2"/><circle cx="482.4" cy="485.8" r="1.2"/><circle cx="492.0" cy="485.8" r="1.2"/><circle cx="487.2" cy="485.8" r="1.2"/><circle cx="488.8" cy="485.8" r="1.2"/><circle cx="485.6" cy="485.8" r="1.2"/><circle cx="490.4" cy="485.8" r="1.2"/><circle cx="484.0" cy="485.8" r="1.2"/><circle cx="487.2" cy="485.6" r="1.2"/><circle cx="484.8" cy="485.4" r="1.2"/><circle cx="488.0" cy="485.3" r="1.2"/><circle cx="486.4" cy="485.2" r="1.2"/><circle cx="489.6" cy="485.2" r="1.2"/><circle cx="491.2" cy="485.1" r="1.2"/><circle cx="483.2" cy="485.0" r="1.2"/><circle cx="488.0" cy="485.0" r="1.2"/><circle cx="486.4" cy="484.9" r="1.2"/><circle cx="485.6" cy="484.9" r="1.2"/><circle cx="488.8" cy="484.8" r="1.2"/><circle cx="490.4" cy="484.7" r="1.2"/><circle cx="492.0" cy="484.7" r="1.2"/><circle cx="487.2" cy="484.5" r="1.2"/><circle cx="484.8" cy="484.5" r="1.2"/><circle cx="482.4" cy="484.4" r="1.2"/><circle cx="489.6" cy="484.3" r="1.2"/><circle cx="488.0" cy="484.0" r="1.2"/><circle cx="486.4" cy="483.8" r="1.2"/><circle cx="490.4" cy="483.7" r="1.2"/><circle cx="484.0" cy="483.7" r="1.2"/><circle cx="488.8" cy="483.6" r="1.2"/><circle cx="492.0" cy="483.6" r="1.2"/><circle cx="487.2" cy="483.6" r="1.2"/><circle cx="485.6" cy="483.4" r="1.2"/><circle cx="483.2" cy="483.4" r="1.2"/><circle cx="489.6" cy="483.2" r="1.2"/><circle cx="488.0" cy="483.1" r="1.2"/><circle cx="484.8" cy="483.1" r="1.2"/><circle cx="491.2" cy="482.9" r="1.2"/><circle cx="486.4" cy="482.9" r="1.2"/><circle cx="482.4" cy="482.8" r="1.2"/><circle cx="484.0" cy="482.7" r="1.2"/><circle cx="488.8" cy="482.6" r="1.2"/><circle cx="487.2" cy="482.5" r="1.2"/><circle cx="485.6" cy="482.5" r="1.2"/><circle cx="490.4" cy="482.5" r="1.2"/><circle cx="483.2" cy="482.3" r="1.2"/><circle cx="488.0" cy="482.0" r="1.2"/><circle cx="486.4" cy="481.9" r="1.2"/><circle cx="487.2" cy="481.6" r="1.2"/><circle cx="488.8" cy="481.4" r="1.2"/><circle cx="488.0" cy="481.0" r="1.2"/><circle cx="486.4" cy="481.0" r="1.2"/><circle cx="489.6" cy="480.8" r="1.2"/><circle cx="484.8" cy="480.8" r="1.2"/><circle cx="487.2" cy="480.7" r="1.2"/><circle cx="488.8" cy="480.3" r="1.2"/><circle cx="488.0" cy="479.9" r="1.2"/><circle cx="487.2" cy="479.2" r="1.2"/><circle cx="487.2" cy="478.2" r="1.2"/><circle cx="488.8" cy="478.1" r="1.2"/><circle cx="488.0" cy="477.6" r="1.2"/><circle cx="486.4" cy="477.5" r="1.2"/><circle cx="489.6" cy="477.3" r="1.2"/><circle cx="487.2" cy="476.6" r="1.2"/><circle cx="487.2" cy="475.5" r="1.2"/><circle cx="488.8" cy="475.5" r="1.2"/><circle cx="487.2" cy="473.5" r="1.2"/><circle cx="487.2" cy="470.6" r="1.2"/><circle cx="487.2" cy="469.6" r="1.2"/><circle cx="487.2" cy="467.4" r="1.2"/></g>
<g fill="#c96352"><circle cx="506.1" cy="487.8" r="1.2"/><circle cx="507.7" cy="487.8" r="1.2"/><circle cx="506.9" cy="487.4" r="1.2"/><circle cx="505.3" cy="487.1" r="1.2"/><circle cx="508.5" cy="487.1" r="1.2"/><circle cx="506.1" cy="486.6" r="1.2"/><circle cx="506.9" cy="486.0" r="1.2"/><circle cx="506.1" cy="485.4" r="1.2"/><circle cx="507.7" cy="485.2" r="1.2"/><circle cx="506.9" cy="484.7" r="1.2"/><circle cx="506.1" cy="484.4" r="1.2"/><circle cx="505.3" cy="484.1" r="1.2"/><circle cx="507.7" cy="483.9" r="1.2"/><circle cx="503.7" cy="483.9" r="1.2"/><circle cx="506.9" cy="483.5" r="1.2"/><circle cx="506.1" cy="483.1" r="1.2"/><circle cx="507.7" cy="483.0" r="1.2"/><circle cx="504.5" cy="482.8" r="1.2"/><circle cx="509.3" cy="482.8" r="1.2"/><circle cx="506.9" cy="482.5" r="1.2"/><circle cx="505.3" cy="482.4" r="1.2"/><circle cx="506.1" cy="482.2" r="1.2"/><circle cx="507.7" cy="481.9" r="1.2"/><circle cx="506.1" cy="481.1" r="1.2"/><circle cx="506.9" cy="480.8" r="1.2"/><circle cx="505.3" cy="480.5" r="1.2"/><circle cx="506.1" cy="480.1" r="1.2"/><circle cx="506.1" cy="478.9" r="1.2"/><circle cx="506.9" cy="478.4" r="1.2"/><circle cx="505.3" cy="478.3" r="1.2"/><circle cx="506.1" cy="477.9" r="1.2"/><circle cx="507.7" cy="477.8" r="1.2"/><circle cx="506.9" cy="477.5" r="1.2"/><circle cx="505.3" cy="477.1" r="1.2"/><circle cx="506.1" cy="476.8" r="1.2"/><circle cx="506.9" cy="476.4" r="1.2"/><circle cx="506.1" cy="475.9" r="1.2"/><circle cx="507.7" cy="475.8" r="1.2"/><circle cx="504.5" cy="475.6" r="1.2"/><circle cx="506.1" cy="473.3" r="1.2"/><circle cx="506.9" cy="472.9" r="1.2"/><circle cx="505.3" cy="472.9" r="1.2"/><circle cx="506.1" cy="471.8" r="1.2"/><circle cx="506.9" cy="471.5" r="1.2"/><circle cx="505.3" cy="471.4" r="1.2"/><circle cx="506.1" cy="469.9" r="1.2"/><circle cx="506.9" cy="469.4" r="1.2"/><circle cx="506.1" cy="468.9" r="1.2"/><circle cx="506.9" cy="468.5" r="1.2"/><circle cx="506.1" cy="467.5" r="1.2"/><circle cx="507.7" cy="467.4" r="1.2"/><circle cx="506.1" cy="464.0" r="1.2"/><circle cx="506.1" cy="462.7" r="1.2"/><circle cx="506.9" cy="462.0" r="1.2"/><circle cx="506.1" cy="458.1" r="1.2"/><circle cx="507.7" cy="457.9" r="1.2"/><circle cx="506.1" cy="452.6" r="1.2"/><circle cx="506.1" cy="448.4" r="1.2"/><circle cx="506.1" cy="445.1" r="1.2"/><circle cx="506.1" cy="440.3" r="1.2"/><circle cx="506.1" cy="434.9" r="1.2"/><circle cx="506.9" cy="434.1" r="1.2"/><circle cx="506.1" cy="430.4" r="1.2"/><circle cx="506.9" cy="429.9" r="1.2"/><circle cx="506.1" cy="415.8" r="1.2"/><circle cx="506.1" cy="409.1" r="1.2"/><circle cx="506.1" cy="404.3" r="1.2"/><circle cx="506.1" cy="397.8" r="1.2"/><circle cx="506.1" cy="383.4" r="1.2"/></g>
<g fill="#5e93cc"><circle cx="524.6" cy="488.4" r="1.2"/><circle cx="526.2" cy="488.4" r="1.2"/><circle cx="523.0" cy="488.3" r="1.2"/><circle cx="527.8" cy="488.3" r="1.2"/><circle cx="521.4" cy="488.3" r="1.2"/><circle cx="529.4" cy="488.3" r="1.2"/><circle cx="519.8" cy="488.3" r="1.2"/><circle cx="524.6" cy="488.3" r="1.2"/><circle cx="526.2" cy="488.2" r="1.2"/><circle cx="523.0" cy="488.2" r="1.2"/><circle cx="527.8" cy="488.2" r="1.2"/><circle cx="521.4" cy="488.2" r="1.2"/><circle cx="529.4" cy="488.2" r="1.2"/><circle cx="519.8" cy="488.1" r="1.2"/><circle cx="524.6" cy="488.1" r="1.2"/><circle cx="526.2" cy="488.1" r="1.2"/><circle cx="523.0" cy="488.1" r="1.2"/><circle cx="527.8" cy="488.1" r="1.2"/><circle cx="521.4" cy="488.1" r="1.2"/><circle cx="529.4" cy="488.1" r="1.2"/><circle cx="519.8" cy="488.1" r="1.2"/><circle cx="524.6" cy="488.1" r="1.2"/><circle cx="526.2" cy="488.1" r="1.2"/><circle cx="523.0" cy="488.0" r="1.2"/><circle cx="527.8" cy="488.0" r="1.2"/><circle cx="521.4" cy="488.0" r="1.2"/><circle cx="529.4" cy="488.0" r="1.2"/><circle cx="519.8" cy="487.9" r="1.2"/><circle cx="524.6" cy="487.9" r="1.2"/><circle cx="525.4" cy="487.7" r="1.2"/><circle cx="527.0" cy="487.7" r="1.2"/><circle cx="522.2" cy="487.7" r="1.2"/><circle cx="528.6" cy="487.7" r="1.2"/><circle cx="520.6" cy="487.6" r="1.2"/><circle cx="523.8" cy="487.6" r="1.2"/><circle cx="525.4" cy="487.6" r="1.2"/><circle cx="523.8" cy="487.6" r="1.2"/><circle cx="527.0" cy="487.5" r="1.2"/><circle cx="522.2" cy="487.5" r="1.2"/><circle cx="528.6" cy="487.5" r="1.2"/><circle cx="520.6" cy="487.5" r="1.2"/><circle cx="525.4" cy="487.5" r="1.2"/><circle cx="523.8" cy="487.5" r="1.2"/><circle cx="527.0" cy="487.4" r="1.2"/><circle cx="522.2" cy="487.4" r="1.2"/><circle cx="528.6" cy="487.4" r="1.2"/><circle cx="520.6" cy="487.3" r="1.2"/><circle cx="525.4" cy="487.3" r="1.2"/><circle cx="523.8" cy="487.2" r="1.2"/><circle cx="527.0" cy="487.2" r="1.2"/><circle cx="523.0" cy="487.2" r="1.2"/><circle cx="529.4" cy="487.1" r="1.2"/><circle cx="521.4" cy="487.1" r="1.2"/><circle cx="519.8" cy="487.1" r="1.2"/><circle cx="527.8" cy="487.1" r="1.2"/><circle cx="529.4" cy="487.0" r="1.2"/><circle cx="526.2" cy="487.0" r="1.2"/><circle cx="524.6" cy="487.0" r="1.2"/><circle cx="521.4" cy="487.0" r="1.2"/><circle cx="519.8" cy="487.0" r="1.2"/><circle cx="524.6" cy="486.9" r="1.2"/><circle cx="523.0" cy="486.9" r="1.2"/><circle cx="526.2" cy="486.9" r="1.2"/><circle cx="527.8" cy="486.9" r="1.2"/><circle cx="524.6" cy="486.9" r="1.2"/><circle cx="526.2" cy="486.8" r="1.2"/><circle cx="523.0" cy="486.8" r="1.2"/><circle cx="527.8" cy="486.8" r="1.2"/><circle cx="521.4" cy="486.8" r="1.2"/><circle cx="529.4" cy="486.7" r="1.2"/><circle cx="519.8" cy="486.7" r="1.2"/><circle cx="524.6" cy="486.6" r="1.2"/><circle cx="525.4" cy="486.6" r="1.2"/><circle cx="522.2" cy="486.5" r="1.2"/><circle cx="523.8" cy="486.5" r="1.2"/><circle cx="527.0" cy="486.5" r="1.2"/><circle cx="528.6" cy="486.4" r="1.2"/><circle cx="520.6" cy="486.4" r="1.2"/><circle cx="522.2" cy="486.4" r="1.2"/><circle cx="525.4" cy="486.3" r="1.2"/><circle cx="523.8" cy="486.3" r="1.2"/><circle cx="527.0" cy="486.2" r="1.2"/><circle cx="528.6" cy="486.2" r="1.2"/><circle cx="520.6" cy="486.2" r="1.2"/><circle cx="525.4" cy="486.2" r="1.2"/><circle cx="523.8" cy="486.1" r="1.2"/><circle cx="527.0" cy="486.0" r="1.2"/><circle cx="523.0" cy="486.0" r="1.2"/><circle cx="521.4" cy="485.8" r="1.2"/><circle cx="529.4" cy="485.8" r="1.2"/><circle cx="519.8" cy="485.8" r="1.2"/><circle cx="524.6" cy="485.8" r="1.2"/><circle cx="526.2" cy="485.7" r="1.2"/><circle cx="527.8" cy="485.7" r="1.2"/><circle cx="524.6" cy="485.7" r="1.2"/><circle cx="526.2" cy="485.6" r="1.2"/><circle cx="523.0" cy="485.6" r="1.2"/><circle cx="527.8" cy="485.6" r="1.2"/><circle cx="522.2" cy="485.5" r="1.2"/><circle cx="520.6" cy="485.4" r="1.2"/><circle cx="525.4" cy="485.3" r="1.2"/><circle cx="525.4" cy="485.3" r="1.2"/><circle cx="528.6" cy="485.3" r="1.2"/><circle cx="523.8" cy="485.1" r="1.2"/><circle cx="527.0" cy="485.1" r="1.2"/><circle cx="523.8" cy="485.0" r="1.2"/><circle cx="527.0" cy="485.0" r="1.2"/><circle cx="521.4" cy="485.0" r="1.2"/><circle cx="524.6" cy="484.8" r="1.2"/><circle cx="529.4" cy="484.7" r="1.2"/><circle cx="525.4" cy="484.4" r="1.2"/><circle cx="523.0" cy="484.4" r="1.2"/><circle cx="527.8" cy="484.3" r="1.2"/><circle cx="520.6" cy="484.3" r="1.2"/><circle cx="525.4" cy="484.3" r="1.2"/><circle cx="523.0" cy="484.2" r="1.2"/><circle cx="527.8" cy="484.2" r="1.2"/><circle cx="520.6" cy="484.2" r="1.2"/><circle cx="526.2" cy="484.1" r="1.2"/><circle cx="524.6" cy="483.9" r="1.2"/><circle cx="522.2" cy="483.9" r="1.2"/><circle cx="527.0" cy="483.7" r="1.2"/><circle cx="523.8" cy="483.5" r="1.2"/><circle cx="521.4" cy="483.5" r="1.2"/><circle cx="525.4" cy="483.4" r="1.2"/><circle cx="528.6" cy="483.3" r="1.2"/><circle cx="523.0" cy="483.2" r="1.2"/><circle cx="524.6" cy="483.0" r="1.2"/><circle cx="526.2" cy="483.0" r="1.2"/><circle cx="522.2" cy="482.9" r="1.2"/><circle cx="527.8" cy="482.9" r="1.2"/><circle cx="520.6" cy="482.8" r="1.2"/><circle cx="529.4" cy="482.8" r="1.2"/><circle cx="525.4" cy="482.5" r="1.2"/><circle cx="524.6" cy="481.7" r="1.2"/><circle cx="526.2" cy="481.7" r="1.2"/><circle cx="523.0" cy="481.7" r="1.2"/><circle cx="527.8" cy="481.6" r="1.2"/><circle cx="521.4" cy="481.5" r="1.2"/><circle cx="525.4" cy="481.3" r="1.2"/><circle cx="523.8" cy="481.3" r="1.2"/><circle cx="527.0" cy="481.1" r="1.2"/><circle cx="522.2" cy="481.0" r="1.2"/><circle cx="528.6" cy="481.0" r="1.2"/><circle cx="524.6" cy="480.8" r="1.2"/><circle cx="526.2" cy="480.8" r="1.2"/><circle cx="520.6" cy="480.7" r="1.2"/><circle cx="525.4" cy="480.3" r="1.2"/><circle cx="523.8" cy="480.2" r="1.2"/><circle cx="527.0" cy="480.1" r="1.2"/><circle cx="522.2" cy="480.1" r="1.2"/><circle cx="524.6" cy="479.9" r="1.2"/><circle cx="526.2" cy="479.8" r="1.2"/><circle cx="523.0" cy="479.8" r="1.2"/><circle cx="527.8" cy="479.7" r="1.2"/><circle cx="521.4" cy="479.5" r="1.2"/><circle cx="525.4" cy="479.4" r="1.2"/><circle cx="524.6" cy="478.9" r="1.2"/><circle cx="523.8" cy="478.6" r="1.2"/><circle cx="525.4" cy="478.4" r="1.2"/><circle cx="527.0" cy="478.3" r="1.2"/><circle cx="524.6" cy="477.8" r="1.2"/><circle cx="525.4" cy="477.2" r="1.2"/><circle cx="524.6" cy="474.1" r="1.2"/><circle cx="524.6" cy="472.6" r="1.2"/></g>
<line x1="387.30" y1="471.60" x2="399.30" y2="471.60" stroke="#231f20" stroke-width="1.6" />
<line x1="389.80" y1="470.60" x2="396.80" y2="470.60" stroke="#231f20" stroke-width="1.3" />
<line x1="389.80" y1="472.60" x2="396.80" y2="472.60" stroke="#231f20" stroke-width="1.3" />
<line x1="393.30" y1="470.60" x2="393.30" y2="472.60" stroke="#231f20" stroke-width="1.5" />
<line x1="406.90" y1="486.30" x2="416.90" y2="486.30" stroke="#231f20" stroke-width="1.6" />
<line x1="424.70" y1="470.55" x2="436.70" y2="470.55" stroke="#231f20" stroke-width="1.6" />
<line x1="427.20" y1="469.55" x2="434.20" y2="469.55" stroke="#231f20" stroke-width="1.3" />
<line x1="427.20" y1="471.55" x2="434.20" y2="471.55" stroke="#231f20" stroke-width="1.3" />
<line x1="430.70" y1="469.55" x2="430.70" y2="471.55" stroke="#231f20" stroke-width="1.5" />
<line x1="444.30" y1="485.77" x2="454.30" y2="485.77" stroke="#231f20" stroke-width="1.6" />
<line x1="462.10" y1="463.20" x2="474.10" y2="463.20" stroke="#231f20" stroke-width="1.6" />
<line x1="464.60" y1="460.70" x2="471.60" y2="460.70" stroke="#231f20" stroke-width="1.3" />
<line x1="464.60" y1="465.70" x2="471.60" y2="465.70" stroke="#231f20" stroke-width="1.3" />
<line x1="468.10" y1="460.70" x2="468.10" y2="465.70" stroke="#231f20" stroke-width="1.5" />
<line x1="482.20" y1="484.20" x2="492.20" y2="484.20" stroke="#231f20" stroke-width="1.6" />
<line x1="500.10" y1="467.40" x2="512.10" y2="467.40" stroke="#231f20" stroke-width="1.6" />
<line x1="502.60" y1="464.90" x2="509.60" y2="464.90" stroke="#231f20" stroke-width="1.3" />
<line x1="502.60" y1="469.90" x2="509.60" y2="469.90" stroke="#231f20" stroke-width="1.3" />
<line x1="506.10" y1="464.90" x2="506.10" y2="469.90" stroke="#231f20" stroke-width="1.5" />
<line x1="519.60" y1="484.72" x2="529.60" y2="484.72" stroke="#231f20" stroke-width="1.6" />
<rect x="390.50" y="468.80" width="5.60" height="5.60" fill="#231f20"/>
<rect x="427.90" y="467.75" width="5.60" height="5.60" fill="#231f20"/>
<text x="390.50" y="391.70" font-size="6.0" text-anchor="start" fill="#231f20" ><tspan font-style="italic">P</tspan> = 6.4 × 10<tspan dy="-2" font-size="4.3">−21</tspan></text>
<line x1="392.00" y1="395.20" x2="415.70" y2="395.20" stroke="#231f20" stroke-width="1.7" />
<text x="390.50" y="407.50" font-size="6.0" text-anchor="start" fill="#231f20" ><tspan font-style="italic">n</tspan> = 206</text>
<text x="398.00" y="474.00" font-size="6.0" text-anchor="start" fill="#231f20" ><tspan font-style="italic">n</tspan> = 131</text>
<text x="419.60" y="364.20" font-size="6.0" text-anchor="start" fill="#231f20" ><tspan font-style="italic">P</tspan> = 4.5 × 10<tspan dy="-2" font-size="4.3">−26</tspan></text>
<line x1="428.30" y1="368.10" x2="451.90" y2="368.10" stroke="#231f20" stroke-width="1.7" />
<text x="419.60" y="379.10" font-size="6.0" text-anchor="start" fill="#231f20" ><tspan font-style="italic">n</tspan> = 187</text>
<text x="436.00" y="463.50" font-size="6.0" text-anchor="start" fill="#231f20" ><tspan font-style="italic">n</tspan> = 207</text>
<text x="464.20" y="363.90" font-size="6.0" text-anchor="start" fill="#231f20" ><tspan font-style="italic">P</tspan> = 1.3 × 10<tspan dy="-2" font-size="4.3">−34</tspan></text>
<line x1="466.90" y1="367.30" x2="490.50" y2="367.30" stroke="#231f20" stroke-width="1.7" />
<text x="456.60" y="379.10" font-size="6.0" text-anchor="start" fill="#231f20" ><tspan font-style="italic">n</tspan> = 47</text>
<text x="476.00" y="461.00" font-size="6.0" text-anchor="start" fill="#231f20" ><tspan font-style="italic">n</tspan> = 132</text>
<text x="508.60" y="365.00" font-size="6.0" text-anchor="start" fill="#231f20" ><tspan font-style="italic">P</tspan> = 4.5 × 10<tspan dy="-2" font-size="4.3">−14</tspan></text>
<line x1="509.40" y1="368.10" x2="532.20" y2="368.10" stroke="#231f20" stroke-width="1.7" />
<text x="495.20" y="380.00" font-size="6.0" text-anchor="start" fill="#231f20" ><tspan font-style="italic">n</tspan> = 69</text>
<text x="502.00" y="470.00" font-size="6.0" text-anchor="start" fill="#231f20" ><tspan font-style="italic">n</tspan> = 165</text>
<text x="336.50" y="434.40" font-size="13.6" text-anchor="middle" fill="#231f20" transform="rotate(-90 336.5 434.4)" >Ion abundance (%)</text>
<text x="400.10" y="506.50" font-size="13.6" text-anchor="end" fill="#231f20" transform="rotate(-45 400.1 506.5)" >HCT-116</text>
<text x="437.50" y="506.50" font-size="13.6" text-anchor="end" fill="#231f20" transform="rotate(-45 437.5 506.5)" >TALL-104</text>
<text x="475.15" y="506.50" font-size="13.6" text-anchor="end" fill="#231f20" transform="rotate(-45 475.15 506.5)" >BV2</text>
<text x="512.85" y="506.50" font-size="13.6" text-anchor="end" fill="#231f20" transform="rotate(-45 512.85 506.5)" >RAW264.7</text>
<text x="565.80" y="332.80" font-size="16.3" text-anchor="start" fill="#231f20" font-weight="bold" >h</text>
<text x="681.20" y="335.90" font-size="13.6" text-anchor="middle" fill="#231f20" >Isobaric interferences</text>
<line x1="621.20" y1="380.80" x2="621.20" y2="490.10" stroke="#231f20" stroke-width="1.2" />
<line x1="614.30" y1="490.10" x2="621.20" y2="490.10" stroke="#231f20" stroke-width="1.2" />
<line x1="614.30" y1="446.10" x2="621.20" y2="446.10" stroke="#231f20" stroke-width="1.2" />
<line x1="614.30" y1="402.10" x2="621.20" y2="402.10" stroke="#231f20" stroke-width="1.2" />
<text x="608.50" y="495.00" font-size="13.6" text-anchor="end" fill="#231f20" >0</text>
<text x="608.50" y="451.00" font-size="13.6" text-anchor="end" fill="#231f20" >20</text>
<text x="608.50" y="407.00" font-size="13.6" text-anchor="end" fill="#231f20" >40</text>
<line x1="617.20" y1="380.80" x2="623.20" y2="380.80" stroke="#231f20" stroke-width="1.2" />
<text x="608.50" y="384.50" font-size="13.6" text-anchor="end" fill="#231f20" >50</text>
<path d="M614.0,358.1 L621.2,358.1 L621.2,370.6" fill="none" stroke="#231f20" stroke-width="1.2" />
<line x1="617.20" y1="370.60" x2="623.20" y2="370.60" stroke="#231f20" stroke-width="1.2" />
<text x="608.50" y="363.00" font-size="13.6" text-anchor="end" fill="#231f20" >100</text>
<line x1="614.30" y1="490.10" x2="737.10" y2="490.10" stroke="#231f20" stroke-width="1.2" />
<line x1="641.30" y1="490.10" x2="641.30" y2="495.10" stroke="#231f20" stroke-width="1.2" />
<line x1="666.10" y1="490.10" x2="666.10" y2="495.10" stroke="#231f20" stroke-width="1.2" />
<line x1="690.50" y1="490.10" x2="690.50" y2="495.10" stroke="#231f20" stroke-width="1.2" />
<line x1="715.00" y1="490.10" x2="715.00" y2="495.10" stroke="#231f20" stroke-width="1.2" />
<rect x="631.60" y="485.70" width="18.20" height="4.40" fill="#a5dcc8" stroke="#231f20" stroke-width="1.7"/>
<text x="640.70" y="483.60" font-size="13.6" text-anchor="middle" fill="#231f20" >2.0</text>
<rect x="655.60" y="479.54" width="18.70" height="10.56" fill="#86c9a8" stroke="#231f20" stroke-width="1.7"/>
<text x="665.00" y="478.00" font-size="13.6" text-anchor="middle" fill="#231f20" >4.8</text>
<rect x="680.00" y="484.60" width="19.10" height="5.50" fill="#7ba3d3" stroke="#231f20" stroke-width="1.7"/>
<text x="689.60" y="484.60" font-size="13.6" text-anchor="middle" fill="#231f20" >2.5</text>
<rect x="706.00" y="407.16" width="18.30" height="82.94" fill="#f0b478" stroke="#231f20" stroke-width="1.7"/>
<text x="710.50" y="404.20" font-size="13.6" text-anchor="middle" fill="#231f20" >37.7</text>
<text x="644.50" y="413.00" font-size="13.6" text-anchor="middle" fill="#231f20" transform="rotate(-90 644.5 413.0)" ><tspan font-style="italic">m</tspan>/<tspan font-style="italic">z</tspan> 126.0913</text>
<text x="668.50" y="413.00" font-size="13.6" text-anchor="middle" fill="#231f20" transform="rotate(-90 668.5 413.0)" ><tspan font-style="italic">m</tspan>/<tspan font-style="italic">z</tspan> 152.1070</text>
<text x="574.20" y="421.90" font-size="13.6" text-anchor="middle" fill="#231f20" transform="rotate(-90 574.1999999999999 421.9)" >Frequency (%)</text>
<text x="646.30" y="506.00" font-size="13.6" text-anchor="end" fill="#231f20" transform="rotate(-45 646.3 506)" >Acetylation</text>
<text x="671.10" y="506.00" font-size="13.6" text-anchor="end" fill="#231f20" transform="rotate(-45 671.1 506)" >Crotonylation</text>
<text x="695.50" y="506.00" font-size="13.6" text-anchor="end" fill="#231f20" transform="rotate(-45 695.5 506)" >CycIm</text>
<text x="720.00" y="506.00" font-size="13.6" text-anchor="end" fill="#231f20" transform="rotate(-45 720.0 506)" >LinIm</text>
<text x="813.80" y="332.80" font-size="16.3" text-anchor="start" fill="#231f20" font-weight="bold" >i</text>
<text x="881.80" y="332.00" font-size="13.6" text-anchor="start" fill="#231f20" >Ion at <tspan font-style="italic">m</tspan>/<tspan font-style="italic">z</tspan> 156.1025</text>
<line x1="866.30" y1="353.30" x2="866.30" y2="489.80" stroke="#231f20" stroke-width="1.2" />
<line x1="860.80" y1="489.80" x2="866.30" y2="489.80" stroke="#231f20" stroke-width="1.2" />
<line x1="860.80" y1="462.50" x2="866.30" y2="462.50" stroke="#231f20" stroke-width="1.2" />
<line x1="860.80" y1="435.20" x2="866.30" y2="435.20" stroke="#231f20" stroke-width="1.2" />
<line x1="860.80" y1="407.90" x2="866.30" y2="407.90" stroke="#231f20" stroke-width="1.2" />
<line x1="860.80" y1="380.60" x2="866.30" y2="380.60" stroke="#231f20" stroke-width="1.2" />
<line x1="860.80" y1="353.30" x2="866.30" y2="353.30" stroke="#231f20" stroke-width="1.2" />
<text x="858.00" y="494.70" font-size="13.6" text-anchor="end" fill="#231f20" >0</text>
<text x="858.00" y="467.40" font-size="13.6" text-anchor="end" fill="#231f20" >20</text>
<text x="858.00" y="440.10" font-size="13.6" text-anchor="end" fill="#231f20" >40</text>
<text x="858.00" y="412.80" font-size="13.6" text-anchor="end" fill="#231f20" >60</text>
<text x="858.00" y="385.50" font-size="13.6" text-anchor="end" fill="#231f20" >80</text>
<text x="858.00" y="358.20" font-size="13.6" text-anchor="end" fill="#231f20" >100</text>
<line x1="866.30" y1="489.80" x2="1071.00" y2="489.80" stroke="#231f20" stroke-width="1.2" />
<line x1="866.50" y1="489.80" x2="866.50" y2="493.80" stroke="#231f20" stroke-width="1.2" />
<line x1="907.33" y1="489.80" x2="907.33" y2="493.80" stroke="#231f20" stroke-width="1.2" />
<line x1="948.15" y1="489.80" x2="948.15" y2="493.80" stroke="#231f20" stroke-width="1.2" />
<line x1="988.98" y1="489.80" x2="988.98" y2="493.80" stroke="#231f20" stroke-width="1.2" />
<line x1="1029.80" y1="489.80" x2="1029.80" y2="493.80" stroke="#231f20" stroke-width="1.2" />
<line x1="1070.62" y1="489.80" x2="1070.62" y2="493.80" stroke="#231f20" stroke-width="1.2" />
<line x1="1070.40" y1="489.80" x2="1070.40" y2="493.10" stroke="#231f20" stroke-width="1.2" />
<text x="867.30" y="511.00" font-size="13.6" text-anchor="middle" fill="#231f20" >0</text>
<text x="948.95" y="511.00" font-size="13.6" text-anchor="middle" fill="#231f20" >1,000</text>
<text x="1030.60" y="511.00" font-size="13.6" text-anchor="middle" fill="#231f20" >2,000</text>
<text x="966.60" y="531.60" font-size="13.6" text-anchor="middle" fill="#231f20" >Number</text>
<circle cx="879.20" cy="359.20" r="3.2" fill="#5e93cc"/>
<text x="888.80" y="363.60" font-size="13.6" text-anchor="start" fill="#231f20" >Nonlac (<tspan font-style="italic">n</tspan> = 2,416)</text>
<text x="877.80" y="388.20" font-size="13.6" text-anchor="start" fill="#231f20" >Average: 0.86%</text>
<text x="877.80" y="405.20" font-size="13.6" text-anchor="start" fill="#231f20" >Median: 0.52%</text>
<polyline points="866.30,489.80 866.79,489.80 867.28,489.79 867.77,489.79 868.26,489.78 868.75,489.78 869.24,489.78 869.73,489.77 870.22,489.77 870.71,489.76 871.20,489.76 871.69,489.76 872.18,489.75 872.67,489.75 873.16,489.74 873.65,489.74 874.14,489.73 874.63,489.73 875.12,489.73 875.61,489.72 876.10,489.72 876.59,489.71 877.08,489.71 877.57,489.71 878.06,489.70 878.55,489.70 879.04,489.69 879.53,489.69 880.02,489.69 880.51,489.68 881.00,489.68 881.49,489.67 881.98,489.67 882.47,489.67 882.96,489.66 883.45,489.66 883.94,489.65 884.43,489.65 884.92,489.65 885.41,489.64 885.90,489.64 886.39,489.63 886.88,489.63 887.37,489.63 887.86,489.62 888.35,489.62 888.84,489.61 889.33,489.61 889.82,489.60 890.31,489.60 890.79,489.60 891.28,489.59 891.77,489.59 892.26,489.58 892.75,489.58 893.24,489.58 893.73,489.57 894.22,489.57 894.71,489.56 895.20,489.56 895.69,489.56 896.18,489.55 896.67,489.55 897.16,489.54 897.65,489.54 898.14,489.54 898.63,489.53 899.12,489.53 899.61,489.52 900.10,489.52 900.59,489.52 901.08,489.51 901.57,489.51 902.06,489.50 902.55,489.50 903.04,489.49 903.53,489.49 904.02,489.49 904.51,489.48 905.00,489.48 905.49,489.47 905.98,489.47 906.47,489.47 906.96,489.46 907.45,489.46 907.94,489.45 908.43,489.45 908.92,489.45 909.41,489.44 909.90,489.44 910.39,489.43 910.88,489.43 911.37,489.43 911.86,489.42 912.35,489.42 912.84,489.41 913.33,489.41 913.82,489.41 914.31,489.40 914.80,489.40 915.29,489.39 915.78,489.39 916.27,489.39 916.76,489.38 917.25,489.38 917.74,489.37 918.23,489.37 918.72,489.36 919.21,489.36 919.70,489.36 920.19,489.35 920.68,489.35 921.17,489.34 921.66,489.34 922.15,489.34 922.64,489.33 923.13,489.33 923.62,489.32 924.11,489.32 924.60,489.32 925.09,489.31 925.58,489.31 926.07,489.30 926.56,489.30 927.05,489.30 927.54,489.29 928.03,489.29 928.52,489.28 929.01,489.28 929.50,489.28 929.99,489.27 930.48,489.27 930.97,489.26 931.46,489.26 931.95,489.25 932.44,489.25 932.93,489.25 933.42,489.24 933.91,489.24 934.40,489.23 934.89,489.23 935.38,489.23 935.87,489.22 936.36,489.22 936.85,489.21 937.34,489.21 937.83,489.21 938.32,489.20 938.81,489.20 939.30,489.19 939.78,489.19 940.27,489.19 940.76,489.18 941.25,489.18 941.74,489.17 942.23,489.17 942.72,489.17 943.21,489.16 943.70,489.16 944.19,489.15 944.68,489.15 945.17,489.15 945.66,489.14 946.15,489.14 946.64,489.13 947.13,489.13 947.62,489.12 948.11,489.12 948.60,489.12 949.09,489.11 949.58,489.11 950.07,489.10 950.56,489.10 951.05,489.10 951.54,489.09 952.03,489.09 952.52,489.08 953.01,489.08 953.50,489.08 953.99,489.07 954.48,489.07 954.97,489.06 955.46,489.06 955.95,489.06 956.44,489.05 956.93,489.05 957.42,489.04 957.91,489.04 958.40,489.04 958.89,489.03 959.38,489.03 959.87,489.02 960.36,489.02 960.85,489.01 961.34,489.01 961.83,489.01 962.32,489.00 962.81,489.00 963.30,488.99 963.79,488.99 964.28,488.99 964.77,488.98 965.26,488.98 965.75,488.97 966.24,488.97 966.73,488.97 967.22,488.96 967.71,488.96 968.20,488.95 968.69,488.95 969.18,488.95 969.67,488.94 970.16,488.94 970.65,488.93 971.14,488.93 971.63,488.93 972.12,488.92 972.61,488.92 973.10,488.91 973.59,488.91 974.08,488.91 974.57,488.90 975.06,488.90 975.55,488.89 976.04,488.89 976.53,488.88 977.02,488.88 977.51,488.88 978.00,488.87 978.49,488.87 978.98,488.86 979.47,488.86 979.96,488.86 980.45,488.85 980.94,488.85 981.43,488.84 981.92,488.84 982.41,488.84 982.90,488.83 983.39,488.83 983.88,488.82 984.37,488.82 984.86,488.82 985.35,488.81 985.84,488.81 986.33,488.80 986.82,488.80 987.31,488.80 987.80,488.79 988.29,488.79 988.77,488.78 989.26,488.78 989.75,488.77 990.24,488.77 990.73,488.77 991.22,488.76 991.71,488.76 992.20,488.75 992.69,488.75 993.18,488.75 993.67,488.74 994.16,488.74 994.65,488.73 995.14,488.73 995.63,488.73 996.12,488.72 996.61,488.72 997.10,488.71 997.59,488.71 998.08,488.71 998.57,488.70 999.06,488.70 999.55,488.69 1000.04,488.69 1000.53,488.69 1001.02,488.68 1001.51,488.68 1002.00,488.67 1002.49,488.67 1002.98,488.66 1003.47,488.66 1003.96,488.66 1004.45,488.65 1004.94,488.65 1005.43,488.64 1005.92,488.64 1006.41,488.64 1006.90,488.63 1007.39,488.63 1007.88,488.62 1008.37,488.62 1008.86,488.62 1009.35,488.61 1009.84,488.61 1010.33,488.60 1010.82,488.60 1011.31,488.59 1011.80,488.59 1012.29,488.59 1012.78,488.58 1013.27,488.58 1013.76,488.57 1014.25,488.57 1014.74,488.56 1015.23,488.56 1015.72,488.56 1016.21,488.55 1016.70,488.55 1017.19,488.54 1017.68,488.54 1018.17,488.53 1018.66,488.53 1019.15,488.53 1019.64,488.52 1020.13,488.52 1020.62,488.51 1021.11,488.51 1021.60,488.50 1022.09,488.50 1022.58,488.49 1023.07,488.49 1023.56,488.48 1024.05,488.48 1024.54,488.47 1025.03,488.47 1025.52,488.46 1026.01,488.46 1026.50,488.45 1026.99,488.45 1027.48,488.44 1027.97,488.44 1028.46,488.43 1028.95,488.43 1029.44,488.42 1029.93,488.41 1030.42,488.41 1030.91,488.40 1031.40,488.39 1031.89,488.39 1032.38,488.38 1032.87,488.37 1033.36,488.37 1033.85,488.36 1034.34,488.35 1034.83,488.34 1035.32,488.33 1035.81,488.32 1036.30,488.32 1036.79,488.31 1037.28,488.30 1037.76,488.29 1038.25,488.28 1038.74,488.26 1039.23,488.25 1039.72,488.24 1040.21,488.23 1040.70,488.21 1041.19,488.20 1041.68,488.18 1042.17,488.17 1042.66,488.15 1043.15,488.14 1043.64,488.12 1044.13,488.10 1044.62,488.08 1045.11,488.06 1045.60,488.04 1046.09,488.01 1046.58,487.99 1047.07,487.96 1047.56,487.93 1048.05,487.90 1048.54,487.87 1049.03,487.84 1049.52,487.80 1050.01,487.77 1050.50,487.73 1050.99,487.69 1051.48,487.64 1051.97,487.60 1052.46,487.55 1052.95,487.50 1053.44,487.44 1053.93,487.38 1054.42,487.32 1054.91,487.26 1055.40,487.19 1055.89,487.11 1056.38,487.03 1056.87,486.95 1057.36,486.86 1057.85,486.77 1058.34,486.67 1058.83,486.57 1059.32,486.45 1059.81,486.34 1060.30,486.21 1060.79,486.08 1061.28,485.94 1061.77,485.79 1062.26,485.63 1062.75,485.46 1063.24,485.28 1063.73,482.29 1063.73,479.43" fill="none" stroke="#5e93cc" stroke-width="2.8" stroke-linecap="round" stroke-linejoin="round"/>
<circle cx="1063.73" cy="473.15" r="1.4" fill="#5e93cc"/>
<text x="822.70" y="428.50" font-size="13.6" text-anchor="middle" fill="#231f20" transform="rotate(-90 822.7 428.5)" >Ion abundance (%)</text>
<rect x="1040" y="565.6" width="60" height="8" rx="4" fill="#6d6e71"/>
</svg>
</body></html>
